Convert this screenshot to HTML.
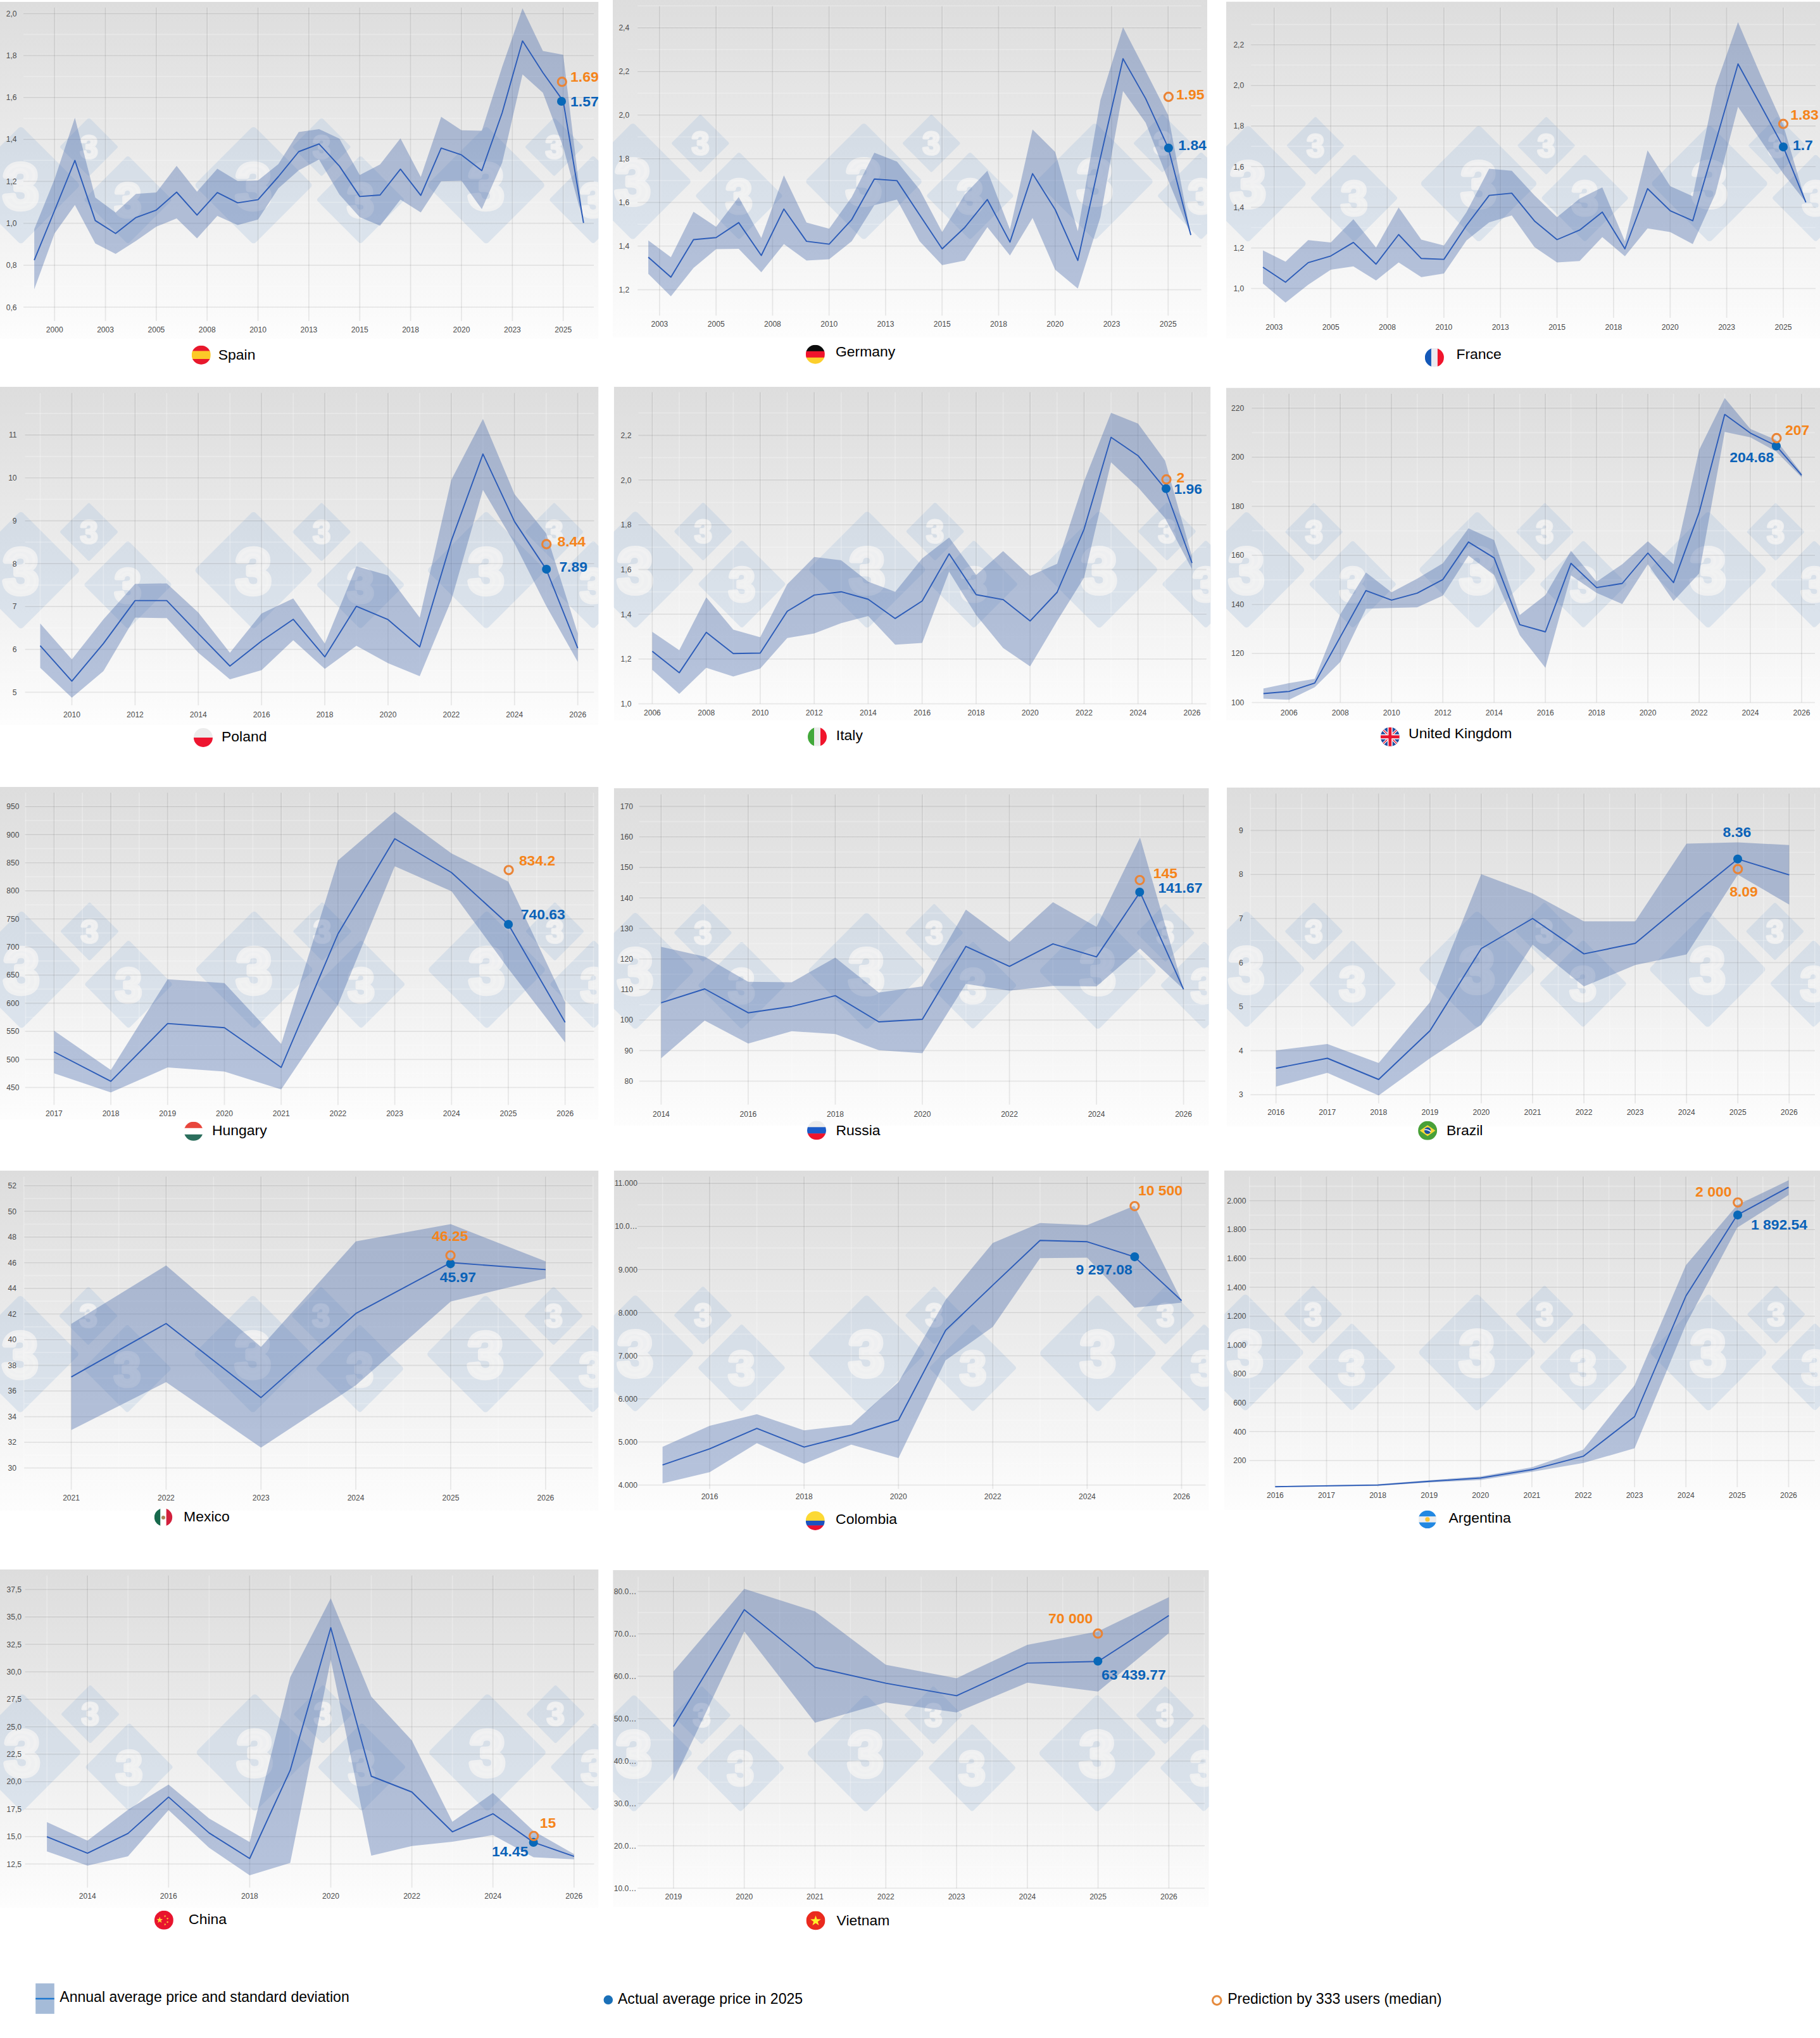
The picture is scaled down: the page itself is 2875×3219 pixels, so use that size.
<!DOCTYPE html>
<html lang="en"><head><meta charset="utf-8"><title>Pig price predictions 2025</title>
<style>html,body{margin:0;padding:0;background:#fff}svg{display:block}text{font-family:"Liberation Sans", Arial, sans-serif}</style></head><body>
<svg width="2875" height="3219" viewBox="0 0 2875 3219">
<defs><linearGradient id="pbg" x1="0" y1="0" x2="0" y2="1"><stop offset="0" stop-color="#dddddd"/><stop offset="0.5" stop-color="#ececec"/><stop offset="1" stop-color="#fdfdfd"/></linearGradient></defs>
<rect width="2875" height="3219" fill="#ffffff"/>
<!-- Spain -->
<clipPath id="pc0"><rect x="0" y="3" width="945.5" height="532.5"/></clipPath>
<g clip-path="url(#pc0)">
<rect x="0" y="3" width="945.5" height="532.5" fill="url(#pbg)"/>
<g>
<rect x="-33.5" y="226" width="132.9" height="132.9" rx="5.3" fill="#a6c0de" fill-opacity="0.30" transform="rotate(45 33 292.5)"/>
<text x="33" y="328.5" text-anchor="middle" font-size="100.6" font-weight="bold" fill="#f1f1f1" fill-opacity="0.88" stroke="#f1f1f1" stroke-opacity="0.88" stroke-width="8.3" stroke-linejoin="round">3</text>
<rect x="107.6" y="199.1" width="65.8" height="65.8" rx="2.6" fill="#a6c0de" fill-opacity="0.30" transform="rotate(45 140.5 232)"/>
<text x="140.5" y="249.8" text-anchor="middle" font-size="49.8" font-weight="bold" fill="#f1f1f1" fill-opacity="0.88" stroke="#f1f1f1" stroke-opacity="0.88" stroke-width="4.1" stroke-linejoin="round">3</text>
<rect x="152.5" y="266" width="99" height="99" rx="4" fill="#a6c0de" fill-opacity="0.30" transform="rotate(45 202 315.5)"/>
<text x="202" y="342.3" text-anchor="middle" font-size="74.9" font-weight="bold" fill="#f1f1f1" fill-opacity="0.88" stroke="#f1f1f1" stroke-opacity="0.88" stroke-width="6.2" stroke-linejoin="round">3</text>
<rect x="334" y="226" width="132.9" height="132.9" rx="5.3" fill="#a6c0de" fill-opacity="0.30" transform="rotate(45 400.5 292.5)"/>
<text x="400.5" y="328.5" text-anchor="middle" font-size="100.6" font-weight="bold" fill="#f1f1f1" fill-opacity="0.88" stroke="#f1f1f1" stroke-opacity="0.88" stroke-width="8.3" stroke-linejoin="round">3</text>
<rect x="475.1" y="199.1" width="65.8" height="65.8" rx="2.6" fill="#a6c0de" fill-opacity="0.30" transform="rotate(45 508 232)"/>
<text x="508" y="249.8" text-anchor="middle" font-size="49.8" font-weight="bold" fill="#f1f1f1" fill-opacity="0.88" stroke="#f1f1f1" stroke-opacity="0.88" stroke-width="4.1" stroke-linejoin="round">3</text>
<rect x="520" y="266" width="99" height="99" rx="4" fill="#a6c0de" fill-opacity="0.30" transform="rotate(45 569.5 315.5)"/>
<text x="569.5" y="342.3" text-anchor="middle" font-size="74.9" font-weight="bold" fill="#f1f1f1" fill-opacity="0.88" stroke="#f1f1f1" stroke-opacity="0.88" stroke-width="6.2" stroke-linejoin="round">3</text>
<rect x="701.5" y="226" width="132.9" height="132.9" rx="5.3" fill="#a6c0de" fill-opacity="0.30" transform="rotate(45 768 292.5)"/>
<text x="768" y="328.5" text-anchor="middle" font-size="100.6" font-weight="bold" fill="#f1f1f1" fill-opacity="0.88" stroke="#f1f1f1" stroke-opacity="0.88" stroke-width="8.3" stroke-linejoin="round">3</text>
<rect x="842.6" y="199.1" width="65.8" height="65.8" rx="2.6" fill="#a6c0de" fill-opacity="0.30" transform="rotate(45 875.5 232)"/>
<text x="875.5" y="249.8" text-anchor="middle" font-size="49.8" font-weight="bold" fill="#f1f1f1" fill-opacity="0.88" stroke="#f1f1f1" stroke-opacity="0.88" stroke-width="4.1" stroke-linejoin="round">3</text>
<rect x="887.5" y="266" width="99" height="99" rx="4" fill="#a6c0de" fill-opacity="0.30" transform="rotate(45 937 315.5)"/>
<text x="937" y="342.3" text-anchor="middle" font-size="74.9" font-weight="bold" fill="#f1f1f1" fill-opacity="0.88" stroke="#f1f1f1" stroke-opacity="0.88" stroke-width="6.2" stroke-linejoin="round">3</text>
</g>
<g fill="none"><path d="M37 54.4H938" stroke="#ffffff" stroke-opacity="0.27" stroke-width="1.6"/><path d="M37 120.7H938" stroke="#ffffff" stroke-opacity="0.27" stroke-width="1.6"/><path d="M37 187H938" stroke="#ffffff" stroke-opacity="0.27" stroke-width="1.6"/><path d="M37 253.2H938" stroke="#ffffff" stroke-opacity="0.27" stroke-width="1.6"/><path d="M37 319.5H938" stroke="#ffffff" stroke-opacity="0.27" stroke-width="1.6"/><path d="M37 385.8H938" stroke="#ffffff" stroke-opacity="0.27" stroke-width="1.6"/><path d="M37 452.1H938" stroke="#ffffff" stroke-opacity="0.27" stroke-width="1.6"/><path d="M37 19.7H938" stroke="#ffffff" stroke-opacity="0.12" stroke-width="2"/><path d="M37 21.3H938" stroke="#000000" stroke-opacity="0.08" stroke-width="1.8"/><path d="M37 86H938" stroke="#ffffff" stroke-opacity="0.12" stroke-width="2"/><path d="M37 87.6H938" stroke="#000000" stroke-opacity="0.08" stroke-width="1.8"/><path d="M37 152.2H938" stroke="#ffffff" stroke-opacity="0.12" stroke-width="2"/><path d="M37 153.8H938" stroke="#000000" stroke-opacity="0.08" stroke-width="1.8"/><path d="M37 218.5H938" stroke="#ffffff" stroke-opacity="0.12" stroke-width="2"/><path d="M37 220.1H938" stroke="#000000" stroke-opacity="0.08" stroke-width="1.8"/><path d="M37 284.8H938" stroke="#ffffff" stroke-opacity="0.12" stroke-width="2"/><path d="M37 286.4H938" stroke="#000000" stroke-opacity="0.08" stroke-width="1.8"/><path d="M37 351H938" stroke="#ffffff" stroke-opacity="0.12" stroke-width="2"/><path d="M37 352.6H938" stroke="#000000" stroke-opacity="0.08" stroke-width="1.8"/><path d="M37 417.3H938" stroke="#ffffff" stroke-opacity="0.12" stroke-width="2"/><path d="M37 418.9H938" stroke="#000000" stroke-opacity="0.08" stroke-width="1.8"/><path d="M37 483.6H938" stroke="#ffffff" stroke-opacity="0.12" stroke-width="2"/><path d="M37 485.2H938" stroke="#000000" stroke-opacity="0.08" stroke-width="1.8"/><path d="M87.8 12V507" stroke="#ffffff" stroke-opacity="0.12" stroke-width="2"/><path d="M86.2 12V507" stroke="#000000" stroke-opacity="0.08" stroke-width="1.8"/><path d="M168.2 12V507" stroke="#ffffff" stroke-opacity="0.12" stroke-width="2"/><path d="M166.6 12V507" stroke="#000000" stroke-opacity="0.08" stroke-width="1.8"/><path d="M248.5 12V507" stroke="#ffffff" stroke-opacity="0.12" stroke-width="2"/><path d="M246.9 12V507" stroke="#000000" stroke-opacity="0.08" stroke-width="1.8"/><path d="M328.9 12V507" stroke="#ffffff" stroke-opacity="0.12" stroke-width="2"/><path d="M327.2 12V507" stroke="#000000" stroke-opacity="0.08" stroke-width="1.8"/><path d="M409.2 12V507" stroke="#ffffff" stroke-opacity="0.12" stroke-width="2"/><path d="M407.6 12V507" stroke="#000000" stroke-opacity="0.08" stroke-width="1.8"/><path d="M489.6 12V507" stroke="#ffffff" stroke-opacity="0.12" stroke-width="2"/><path d="M487.9 12V507" stroke="#000000" stroke-opacity="0.08" stroke-width="1.8"/><path d="M569.9 12V507" stroke="#ffffff" stroke-opacity="0.12" stroke-width="2"/><path d="M568.3 12V507" stroke="#000000" stroke-opacity="0.08" stroke-width="1.8"/><path d="M650.2 12V507" stroke="#ffffff" stroke-opacity="0.12" stroke-width="2"/><path d="M648.6 12V507" stroke="#000000" stroke-opacity="0.08" stroke-width="1.8"/><path d="M730.6 12V507" stroke="#ffffff" stroke-opacity="0.12" stroke-width="2"/><path d="M729 12V507" stroke="#000000" stroke-opacity="0.08" stroke-width="1.8"/><path d="M811 12V507" stroke="#ffffff" stroke-opacity="0.12" stroke-width="2"/><path d="M809.4 12V507" stroke="#000000" stroke-opacity="0.08" stroke-width="1.8"/><path d="M891.3 12V507" stroke="#ffffff" stroke-opacity="0.12" stroke-width="2"/><path d="M889.7 12V507" stroke="#000000" stroke-opacity="0.08" stroke-width="1.8"/></g>
<polygon points="54.1,362.1 86.2,283 118.3,185.9 150.5,312 182.6,335.7 214.8,306.2 246.9,304.1 279,261.9 311.2,302.7 343.3,266.4 375.5,286.1 407.6,285.1 439.7,259.2 471.9,208.4 504,203.9 536.2,218.9 568.3,276.4 600.4,259.8 632.6,218.4 664.7,279.6 696.9,184.6 729,205.7 761.1,206.5 793.3,105.5 825.4,13.2 857.6,80.4 889.7,86.5 921.8,352.1 921.8,352.1 889.7,232.1 857.6,146.4 825.4,117.4 793.3,257.1 761.1,330.2 729,285.4 696.9,286.2 664.7,335.5 632.6,315.2 600.4,356.6 568.3,342.9 536.2,307.3 504,251.9 471.9,269 439.7,297.5 407.6,346.8 375.5,355.5 343.3,341 311.2,376.6 279,344.9 246.9,358.1 214.8,380.5 182.6,401.1 150.5,384.5 118.3,323.8 86.2,368.7 54.1,457" fill="rgba(74,106,172,0.385)"/>
<polyline points="54.1,410.9 86.2,332.5 118.3,253.4 150.5,348.4 182.6,368.7 214.8,343.6 246.9,331.8 279,303.5 311.2,339.7 343.3,304.1 375.5,320.4 407.6,315.4 439.7,279 471.9,239.5 504,227.3 536.2,262.4 568.3,310.4 600.4,308 632.6,267.2 664.7,308.6 696.9,233.9 729,244.7 761.1,269.5 793.3,178 825.4,64.6 857.6,114.7 889.7,159.6 921.8,352.1" fill="none" stroke="#2c5cb8" stroke-width="1.9" stroke-linejoin="round"/>
</g>
<g font-size="12.1" fill="#4a4a4a"><text x="86.2" y="524.6" text-anchor="middle">2000</text><text x="166.6" y="524.6" text-anchor="middle">2003</text><text x="246.9" y="524.6" text-anchor="middle">2005</text><text x="327.2" y="524.6" text-anchor="middle">2008</text><text x="407.6" y="524.6" text-anchor="middle">2010</text><text x="487.9" y="524.6" text-anchor="middle">2013</text><text x="568.3" y="524.6" text-anchor="middle">2015</text><text x="648.6" y="524.6" text-anchor="middle">2018</text><text x="729" y="524.6" text-anchor="middle">2020</text><text x="809.4" y="524.6" text-anchor="middle">2023</text><text x="889.7" y="524.6" text-anchor="middle">2025</text><text x="26.6" y="25.6" text-anchor="end">2,0</text><text x="26.6" y="91.9" text-anchor="end">1,8</text><text x="26.6" y="158.1" text-anchor="end">1,6</text><text x="26.6" y="224.4" text-anchor="end">1,4</text><text x="26.6" y="290.7" text-anchor="end">1,2</text><text x="26.6" y="356.9" text-anchor="end">1,0</text><text x="26.6" y="423.2" text-anchor="end">0,8</text><text x="26.6" y="489.5" text-anchor="end">0,6</text></g>
<circle cx="887" cy="160" r="7.05" fill="#0868b8"/>
<circle cx="887.8" cy="129.2" r="6.6" fill="none" stroke="#ea8436" stroke-width="3.1"/>
<text x="901.1" y="129.3" text-anchor="start" font-size="22.9" font-weight="bold" fill="#f5841a">1.69</text>
<text x="901.1" y="167.5" text-anchor="start" font-size="22.9" font-weight="bold" fill="#0a62b8">1.57</text>
<clipPath id="fc_es"><circle cx="317.8" cy="560.7" r="15"/></clipPath>
<g clip-path="url(#fc_es)">
<rect x="302.8" y="545.7" width="30" height="9.2" fill="#e8182c"/>
<rect x="302.8" y="554.4" width="30" height="13.1" fill="#fcc928"/>
<rect x="302.8" y="567" width="30" height="9.2" fill="#e8182c"/>
</g>
<text x="344.8" y="567.6" font-size="22.95" fill="#000">Spain</text>
<!-- Germany -->
<clipPath id="pc1"><rect x="968" y="-4" width="939" height="537"/></clipPath>
<g clip-path="url(#pc1)">
<rect x="968" y="-4" width="939" height="537" fill="url(#pbg)"/>
<g>
<rect x="933.6" y="220.4" width="132" height="132" rx="5.3" fill="#a6c0de" fill-opacity="0.30" transform="rotate(45 999.6 286.4)"/>
<text x="999.6" y="322.2" text-anchor="middle" font-size="99.9" font-weight="bold" fill="#f1f1f1" fill-opacity="0.88" stroke="#f1f1f1" stroke-opacity="0.88" stroke-width="8.2" stroke-linejoin="round">3</text>
<rect x="1073.7" y="193.7" width="65.3" height="65.3" rx="2.6" fill="#a6c0de" fill-opacity="0.30" transform="rotate(45 1106.4 226.3)"/>
<text x="1106.4" y="244" text-anchor="middle" font-size="49.4" font-weight="bold" fill="#f1f1f1" fill-opacity="0.88" stroke="#f1f1f1" stroke-opacity="0.88" stroke-width="4.1" stroke-linejoin="round">3</text>
<rect x="1118.3" y="260.1" width="98.3" height="98.3" rx="3.9" fill="#a6c0de" fill-opacity="0.30" transform="rotate(45 1167.4 309.2)"/>
<text x="1167.4" y="335.9" text-anchor="middle" font-size="74.4" font-weight="bold" fill="#f1f1f1" fill-opacity="0.88" stroke="#f1f1f1" stroke-opacity="0.88" stroke-width="6.1" stroke-linejoin="round">3</text>
<rect x="1298.6" y="220.4" width="132" height="132" rx="5.3" fill="#a6c0de" fill-opacity="0.30" transform="rotate(45 1364.6 286.4)"/>
<text x="1364.6" y="322.2" text-anchor="middle" font-size="99.9" font-weight="bold" fill="#f1f1f1" fill-opacity="0.88" stroke="#f1f1f1" stroke-opacity="0.88" stroke-width="8.2" stroke-linejoin="round">3</text>
<rect x="1438.7" y="193.7" width="65.3" height="65.3" rx="2.6" fill="#a6c0de" fill-opacity="0.30" transform="rotate(45 1471.3 226.3)"/>
<text x="1471.3" y="244" text-anchor="middle" font-size="49.4" font-weight="bold" fill="#f1f1f1" fill-opacity="0.88" stroke="#f1f1f1" stroke-opacity="0.88" stroke-width="4.1" stroke-linejoin="round">3</text>
<rect x="1483.3" y="260.1" width="98.3" height="98.3" rx="3.9" fill="#a6c0de" fill-opacity="0.30" transform="rotate(45 1532.4 309.2)"/>
<text x="1532.4" y="335.9" text-anchor="middle" font-size="74.4" font-weight="bold" fill="#f1f1f1" fill-opacity="0.88" stroke="#f1f1f1" stroke-opacity="0.88" stroke-width="6.1" stroke-linejoin="round">3</text>
<rect x="1663.5" y="220.4" width="132" height="132" rx="5.3" fill="#a6c0de" fill-opacity="0.30" transform="rotate(45 1729.5 286.4)"/>
<text x="1729.5" y="322.2" text-anchor="middle" font-size="99.9" font-weight="bold" fill="#f1f1f1" fill-opacity="0.88" stroke="#f1f1f1" stroke-opacity="0.88" stroke-width="8.2" stroke-linejoin="round">3</text>
<rect x="1803.7" y="193.7" width="65.3" height="65.3" rx="2.6" fill="#a6c0de" fill-opacity="0.30" transform="rotate(45 1836.3 226.3)"/>
<text x="1836.3" y="244" text-anchor="middle" font-size="49.4" font-weight="bold" fill="#f1f1f1" fill-opacity="0.88" stroke="#f1f1f1" stroke-opacity="0.88" stroke-width="4.1" stroke-linejoin="round">3</text>
<rect x="1848.2" y="260.1" width="98.3" height="98.3" rx="3.9" fill="#a6c0de" fill-opacity="0.30" transform="rotate(45 1897.4 309.2)"/>
<text x="1897.4" y="335.9" text-anchor="middle" font-size="74.4" font-weight="bold" fill="#f1f1f1" fill-opacity="0.88" stroke="#f1f1f1" stroke-opacity="0.88" stroke-width="6.1" stroke-linejoin="round">3</text>
</g>
<g fill="none"><path d="M1007.2 9.3H1897.6" stroke="#ffffff" stroke-opacity="0.27" stroke-width="1.6"/><path d="M1007.2 78.3H1897.6" stroke="#ffffff" stroke-opacity="0.27" stroke-width="1.6"/><path d="M1007.2 147.3H1897.6" stroke="#ffffff" stroke-opacity="0.27" stroke-width="1.6"/><path d="M1007.2 216.2H1897.6" stroke="#ffffff" stroke-opacity="0.27" stroke-width="1.6"/><path d="M1007.2 285.2H1897.6" stroke="#ffffff" stroke-opacity="0.27" stroke-width="1.6"/><path d="M1007.2 354.2H1897.6" stroke="#ffffff" stroke-opacity="0.27" stroke-width="1.6"/><path d="M1007.2 423.1H1897.6" stroke="#ffffff" stroke-opacity="0.27" stroke-width="1.6"/><path d="M1007.2 492.1H1897.6" stroke="#ffffff" stroke-opacity="0.27" stroke-width="1.6"/><path d="M1007.2 42.2H1897.6" stroke="#ffffff" stroke-opacity="0.12" stroke-width="2"/><path d="M1007.2 43.8H1897.6" stroke="#000000" stroke-opacity="0.08" stroke-width="1.8"/><path d="M1007.2 111.2H1897.6" stroke="#ffffff" stroke-opacity="0.12" stroke-width="2"/><path d="M1007.2 112.8H1897.6" stroke="#000000" stroke-opacity="0.08" stroke-width="1.8"/><path d="M1007.2 180.1H1897.6" stroke="#ffffff" stroke-opacity="0.12" stroke-width="2"/><path d="M1007.2 181.7H1897.6" stroke="#000000" stroke-opacity="0.08" stroke-width="1.8"/><path d="M1007.2 249.1H1897.6" stroke="#ffffff" stroke-opacity="0.12" stroke-width="2"/><path d="M1007.2 250.7H1897.6" stroke="#000000" stroke-opacity="0.08" stroke-width="1.8"/><path d="M1007.2 318.1H1897.6" stroke="#ffffff" stroke-opacity="0.12" stroke-width="2"/><path d="M1007.2 319.7H1897.6" stroke="#000000" stroke-opacity="0.08" stroke-width="1.8"/><path d="M1007.2 387.1H1897.6" stroke="#ffffff" stroke-opacity="0.12" stroke-width="2"/><path d="M1007.2 388.7H1897.6" stroke="#000000" stroke-opacity="0.08" stroke-width="1.8"/><path d="M1007.2 456H1897.6" stroke="#ffffff" stroke-opacity="0.12" stroke-width="2"/><path d="M1007.2 457.6H1897.6" stroke="#000000" stroke-opacity="0.08" stroke-width="1.8"/><path d="M1043.5 9.8V498.5" stroke="#ffffff" stroke-opacity="0.12" stroke-width="2"/><path d="M1041.9 9.8V498.5" stroke="#000000" stroke-opacity="0.08" stroke-width="1.8"/><path d="M1132.8 9.8V498.5" stroke="#ffffff" stroke-opacity="0.12" stroke-width="2"/><path d="M1131.2 9.8V498.5" stroke="#000000" stroke-opacity="0.08" stroke-width="1.8"/><path d="M1222 9.8V498.5" stroke="#ffffff" stroke-opacity="0.12" stroke-width="2"/><path d="M1220.4 9.8V498.5" stroke="#000000" stroke-opacity="0.08" stroke-width="1.8"/><path d="M1311.3 9.8V498.5" stroke="#ffffff" stroke-opacity="0.12" stroke-width="2"/><path d="M1309.7 9.8V498.5" stroke="#000000" stroke-opacity="0.08" stroke-width="1.8"/><path d="M1400.6 9.8V498.5" stroke="#ffffff" stroke-opacity="0.12" stroke-width="2"/><path d="M1399 9.8V498.5" stroke="#000000" stroke-opacity="0.08" stroke-width="1.8"/><path d="M1489.8 9.8V498.5" stroke="#ffffff" stroke-opacity="0.12" stroke-width="2"/><path d="M1488.2 9.8V498.5" stroke="#000000" stroke-opacity="0.08" stroke-width="1.8"/><path d="M1579.1 9.8V498.5" stroke="#ffffff" stroke-opacity="0.12" stroke-width="2"/><path d="M1577.5 9.8V498.5" stroke="#000000" stroke-opacity="0.08" stroke-width="1.8"/><path d="M1668.4 9.8V498.5" stroke="#ffffff" stroke-opacity="0.12" stroke-width="2"/><path d="M1666.8 9.8V498.5" stroke="#000000" stroke-opacity="0.08" stroke-width="1.8"/><path d="M1757.7 9.8V498.5" stroke="#ffffff" stroke-opacity="0.12" stroke-width="2"/><path d="M1756.1 9.8V498.5" stroke="#000000" stroke-opacity="0.08" stroke-width="1.8"/><path d="M1846.9 9.8V498.5" stroke="#ffffff" stroke-opacity="0.12" stroke-width="2"/><path d="M1845.3 9.8V498.5" stroke="#000000" stroke-opacity="0.08" stroke-width="1.8"/></g>
<polygon points="1024.1,379.8 1059.8,406.2 1095.5,334.4 1131.2,358.2 1166.9,311.2 1202.6,375.8 1238.3,276.9 1274,351.6 1309.8,361.3 1345.5,311.2 1381.2,241.3 1416.9,255.3 1452.6,299.3 1488.3,366.6 1524,307.3 1559.7,269.8 1595.4,362.6 1631.1,204.4 1666.8,240 1702.6,365.3 1738.3,158.2 1774,43 1809.7,112.1 1845.4,182 1881.1,371.3 1881.1,371.3 1845.4,284.8 1809.7,193.8 1774,143.7 1738.3,342.9 1702.6,455.7 1666.8,425.9 1631.1,344.2 1595.4,403.5 1559.7,358.7 1524,411.4 1488.3,418.8 1452.6,381.1 1416.9,315.2 1381.2,323.9 1345.5,381.1 1309.8,409.6 1274,411.4 1238.3,385.6 1202.6,429.9 1166.9,393 1131.2,393.5 1095.5,423.3 1059.8,468.1 1024.1,432.5" fill="rgba(74,106,172,0.385)"/>
<polyline points="1024.1,406.2 1059.8,437.8 1095.5,378.5 1131.2,375.3 1166.9,351.6 1202.6,403.5 1238.3,330.2 1274,381.1 1309.8,385.6 1345.5,346.8 1381.2,282.7 1416.9,285.4 1452.6,339.2 1488.3,393 1524,359.2 1559.7,315.2 1595.4,382.4 1631.1,274.3 1666.8,331 1702.6,411.4 1738.3,249.2 1774,92.8 1809.7,155.6 1845.4,233.4 1881.1,371.3" fill="none" stroke="#2c5cb8" stroke-width="1.9" stroke-linejoin="round"/>
</g>
<g font-size="12.1" fill="#4a4a4a"><text x="1041.9" y="516.4" text-anchor="middle">2003</text><text x="1131.2" y="516.4" text-anchor="middle">2005</text><text x="1220.4" y="516.4" text-anchor="middle">2008</text><text x="1309.7" y="516.4" text-anchor="middle">2010</text><text x="1399" y="516.4" text-anchor="middle">2013</text><text x="1488.2" y="516.4" text-anchor="middle">2015</text><text x="1577.5" y="516.4" text-anchor="middle">2018</text><text x="1666.8" y="516.4" text-anchor="middle">2020</text><text x="1756.1" y="516.4" text-anchor="middle">2023</text><text x="1845.3" y="516.4" text-anchor="middle">2025</text><text x="994.2" y="48.1" text-anchor="end">2,4</text><text x="994.2" y="117.1" text-anchor="end">2,2</text><text x="994.2" y="186" text-anchor="end">2,0</text><text x="994.2" y="255" text-anchor="end">1,8</text><text x="994.2" y="324" text-anchor="end">1,6</text><text x="994.2" y="393" text-anchor="end">1,4</text><text x="994.2" y="461.9" text-anchor="end">1,2</text></g>
<circle cx="1845.9" cy="233.7" r="7.05" fill="#0868b8"/>
<circle cx="1845.9" cy="153" r="6.6" fill="none" stroke="#ea8436" stroke-width="3.1"/>
<text x="1857.9" y="157.4" text-anchor="start" font-size="22.9" font-weight="bold" fill="#f5841a">1.95</text>
<text x="1861.3" y="237.4" text-anchor="start" font-size="22.9" font-weight="bold" fill="#0a62b8">1.84</text>
<clipPath id="fc_de"><circle cx="1287.9" cy="559.7" r="15"/></clipPath>
<g clip-path="url(#fc_de)">
<rect x="1272.9" y="544.7" width="30" height="10.5" fill="#0c0c0c"/>
<rect x="1272.9" y="554.7" width="30" height="10.5" fill="#f0142c"/>
<rect x="1272.9" y="564.7" width="30" height="10.5" fill="#fccf2c"/>
</g>
<text x="1320" y="562.5" font-size="22.95" fill="#000">Germany</text>
<!-- France -->
<clipPath id="pc2"><rect x="1937" y="2.5" width="938" height="532.5"/></clipPath>
<g clip-path="url(#pc2)">
<rect x="1937" y="2.5" width="938" height="532.5" fill="url(#pbg)"/>
<g>
<rect x="1905.5" y="224.1" width="131.9" height="131.9" rx="5.3" fill="#a6c0de" fill-opacity="0.30" transform="rotate(45 1971.4 290)"/>
<text x="1971.4" y="325.7" text-anchor="middle" font-size="99.8" font-weight="bold" fill="#f1f1f1" fill-opacity="0.88" stroke="#f1f1f1" stroke-opacity="0.88" stroke-width="8.2" stroke-linejoin="round">3</text>
<rect x="2045.4" y="197.4" width="65.2" height="65.2" rx="2.6" fill="#a6c0de" fill-opacity="0.30" transform="rotate(45 2078 230)"/>
<text x="2078" y="247.6" text-anchor="middle" font-size="49.4" font-weight="bold" fill="#f1f1f1" fill-opacity="0.88" stroke="#f1f1f1" stroke-opacity="0.88" stroke-width="4.1" stroke-linejoin="round">3</text>
<rect x="2090" y="263.7" width="98.2" height="98.2" rx="3.9" fill="#a6c0de" fill-opacity="0.30" transform="rotate(45 2139.1 312.8)"/>
<text x="2139.1" y="339.4" text-anchor="middle" font-size="74.3" font-weight="bold" fill="#f1f1f1" fill-opacity="0.88" stroke="#f1f1f1" stroke-opacity="0.88" stroke-width="6.1" stroke-linejoin="round">3</text>
<rect x="2270" y="224.1" width="131.9" height="131.9" rx="5.3" fill="#a6c0de" fill-opacity="0.30" transform="rotate(45 2336 290)"/>
<text x="2336" y="325.7" text-anchor="middle" font-size="99.8" font-weight="bold" fill="#f1f1f1" fill-opacity="0.88" stroke="#f1f1f1" stroke-opacity="0.88" stroke-width="8.2" stroke-linejoin="round">3</text>
<rect x="2410" y="197.4" width="65.2" height="65.2" rx="2.6" fill="#a6c0de" fill-opacity="0.30" transform="rotate(45 2442.6 230)"/>
<text x="2442.6" y="247.6" text-anchor="middle" font-size="49.4" font-weight="bold" fill="#f1f1f1" fill-opacity="0.88" stroke="#f1f1f1" stroke-opacity="0.88" stroke-width="4.1" stroke-linejoin="round">3</text>
<rect x="2454.5" y="263.7" width="98.2" height="98.2" rx="3.9" fill="#a6c0de" fill-opacity="0.30" transform="rotate(45 2503.6 312.8)"/>
<text x="2503.6" y="339.4" text-anchor="middle" font-size="74.3" font-weight="bold" fill="#f1f1f1" fill-opacity="0.88" stroke="#f1f1f1" stroke-opacity="0.88" stroke-width="6.1" stroke-linejoin="round">3</text>
<rect x="2634.6" y="224.1" width="131.9" height="131.9" rx="5.3" fill="#a6c0de" fill-opacity="0.30" transform="rotate(45 2700.6 290)"/>
<text x="2700.6" y="325.7" text-anchor="middle" font-size="99.8" font-weight="bold" fill="#f1f1f1" fill-opacity="0.88" stroke="#f1f1f1" stroke-opacity="0.88" stroke-width="8.2" stroke-linejoin="round">3</text>
<rect x="2774.6" y="197.4" width="65.2" height="65.2" rx="2.6" fill="#a6c0de" fill-opacity="0.30" transform="rotate(45 2807.2 230)"/>
<text x="2807.2" y="247.6" text-anchor="middle" font-size="49.4" font-weight="bold" fill="#f1f1f1" fill-opacity="0.88" stroke="#f1f1f1" stroke-opacity="0.88" stroke-width="4.1" stroke-linejoin="round">3</text>
<rect x="2819.1" y="263.7" width="98.2" height="98.2" rx="3.9" fill="#a6c0de" fill-opacity="0.30" transform="rotate(45 2868.2 312.8)"/>
<text x="2868.2" y="339.4" text-anchor="middle" font-size="74.3" font-weight="bold" fill="#f1f1f1" fill-opacity="0.88" stroke="#f1f1f1" stroke-opacity="0.88" stroke-width="6.1" stroke-linejoin="round">3</text>
</g>
<g fill="none"><path d="M1976.2 38.6H2868" stroke="#ffffff" stroke-opacity="0.27" stroke-width="1.6"/><path d="M1976.2 102.8H2868" stroke="#ffffff" stroke-opacity="0.27" stroke-width="1.6"/><path d="M1976.2 167H2868" stroke="#ffffff" stroke-opacity="0.27" stroke-width="1.6"/><path d="M1976.2 231.1H2868" stroke="#ffffff" stroke-opacity="0.27" stroke-width="1.6"/><path d="M1976.2 295.3H2868" stroke="#ffffff" stroke-opacity="0.27" stroke-width="1.6"/><path d="M1976.2 359.5H2868" stroke="#ffffff" stroke-opacity="0.27" stroke-width="1.6"/><path d="M1976.2 423.6H2868" stroke="#ffffff" stroke-opacity="0.27" stroke-width="1.6"/><path d="M1976.2 487.8H2868" stroke="#ffffff" stroke-opacity="0.27" stroke-width="1.6"/><path d="M1976.2 69.1H2868" stroke="#ffffff" stroke-opacity="0.12" stroke-width="2"/><path d="M1976.2 70.7H2868" stroke="#000000" stroke-opacity="0.08" stroke-width="1.8"/><path d="M1976.2 133.3H2868" stroke="#ffffff" stroke-opacity="0.12" stroke-width="2"/><path d="M1976.2 134.9H2868" stroke="#000000" stroke-opacity="0.08" stroke-width="1.8"/><path d="M1976.2 197.4H2868" stroke="#ffffff" stroke-opacity="0.12" stroke-width="2"/><path d="M1976.2 199H2868" stroke="#000000" stroke-opacity="0.08" stroke-width="1.8"/><path d="M1976.2 261.6H2868" stroke="#ffffff" stroke-opacity="0.12" stroke-width="2"/><path d="M1976.2 263.2H2868" stroke="#000000" stroke-opacity="0.08" stroke-width="1.8"/><path d="M1976.2 325.8H2868" stroke="#ffffff" stroke-opacity="0.12" stroke-width="2"/><path d="M1976.2 327.4H2868" stroke="#000000" stroke-opacity="0.08" stroke-width="1.8"/><path d="M1976.2 389.9H2868" stroke="#ffffff" stroke-opacity="0.12" stroke-width="2"/><path d="M1976.2 391.6H2868" stroke="#000000" stroke-opacity="0.08" stroke-width="1.8"/><path d="M1976.2 454.1H2868" stroke="#ffffff" stroke-opacity="0.12" stroke-width="2"/><path d="M1976.2 455.7H2868" stroke="#000000" stroke-opacity="0.08" stroke-width="1.8"/><path d="M2014.4 12V502" stroke="#ffffff" stroke-opacity="0.12" stroke-width="2"/><path d="M2012.8 12V502" stroke="#000000" stroke-opacity="0.08" stroke-width="1.8"/><path d="M2103.8 12V502" stroke="#ffffff" stroke-opacity="0.12" stroke-width="2"/><path d="M2102.2 12V502" stroke="#000000" stroke-opacity="0.08" stroke-width="1.8"/><path d="M2193.1 12V502" stroke="#ffffff" stroke-opacity="0.12" stroke-width="2"/><path d="M2191.5 12V502" stroke="#000000" stroke-opacity="0.08" stroke-width="1.8"/><path d="M2282.5 12V502" stroke="#ffffff" stroke-opacity="0.12" stroke-width="2"/><path d="M2280.9 12V502" stroke="#000000" stroke-opacity="0.08" stroke-width="1.8"/><path d="M2371.8 12V502" stroke="#ffffff" stroke-opacity="0.12" stroke-width="2"/><path d="M2370.2 12V502" stroke="#000000" stroke-opacity="0.08" stroke-width="1.8"/><path d="M2461.2 12V502" stroke="#ffffff" stroke-opacity="0.12" stroke-width="2"/><path d="M2459.6 12V502" stroke="#000000" stroke-opacity="0.08" stroke-width="1.8"/><path d="M2550.5 12V502" stroke="#ffffff" stroke-opacity="0.12" stroke-width="2"/><path d="M2548.9 12V502" stroke="#000000" stroke-opacity="0.08" stroke-width="1.8"/><path d="M2639.9 12V502" stroke="#ffffff" stroke-opacity="0.12" stroke-width="2"/><path d="M2638.3 12V502" stroke="#000000" stroke-opacity="0.08" stroke-width="1.8"/><path d="M2729.2 12V502" stroke="#ffffff" stroke-opacity="0.12" stroke-width="2"/><path d="M2727.6 12V502" stroke="#000000" stroke-opacity="0.08" stroke-width="1.8"/><path d="M2818.6 12V502" stroke="#ffffff" stroke-opacity="0.12" stroke-width="2"/><path d="M2817 12V502" stroke="#000000" stroke-opacity="0.08" stroke-width="1.8"/></g>
<polygon points="1995,395.6 2030.7,413.3 2066.5,379.3 2102.2,382.9 2137.9,346.3 2173.7,390.9 2209.4,327.8 2245.2,378.5 2280.9,387.7 2316.6,334.9 2352.4,266.4 2388.1,269.8 2423.9,308.6 2459.6,342.9 2495.3,313.8 2531.1,295.9 2566.8,381.1 2602.6,237.4 2638.3,294.1 2674,309.9 2709.8,137.1 2745.5,35.1 2781.3,118.7 2817,197.8 2852.7,319.6 2852.7,319.6 2817,274.3 2781.3,221.5 2745.5,168.8 2709.8,305.9 2674,385.6 2638.3,366.6 2602.6,360.8 2566.8,404.8 2531.1,374.5 2495.3,412.2 2459.6,414.6 2423.9,390.3 2388.1,340.2 2352.4,351.3 2316.6,379.8 2280.9,432 2245.2,437.8 2209.4,414.6 2173.7,443.1 2137.9,420.7 2102.2,425.9 2066.5,449.7 2030.7,477.9 1995,447.8" fill="rgba(74,106,172,0.385)"/>
<polyline points="1995,422 2030.7,445.7 2066.5,414.9 2102.2,404.3 2137.9,382.9 2173.7,417.2 2209.4,370.5 2245.2,408.3 2280.9,409.6 2316.6,356 2352.4,308.6 2388.1,305.1 2423.9,348.9 2459.6,378.5 2495.3,363.4 2531.1,334.9 2566.8,393 2602.6,298 2638.3,332.8 2674,348.7 2709.8,225.5 2745.5,101 2781.3,166.2 2817,232.1 2852.7,319.6" fill="none" stroke="#2c5cb8" stroke-width="1.9" stroke-linejoin="round"/>
</g>
<g font-size="12.1" fill="#4a4a4a"><text x="2012.8" y="520.9" text-anchor="middle">2003</text><text x="2102.2" y="520.9" text-anchor="middle">2005</text><text x="2191.5" y="520.9" text-anchor="middle">2008</text><text x="2280.9" y="520.9" text-anchor="middle">2010</text><text x="2370.2" y="520.9" text-anchor="middle">2013</text><text x="2459.6" y="520.9" text-anchor="middle">2015</text><text x="2548.9" y="520.9" text-anchor="middle">2018</text><text x="2638.3" y="520.9" text-anchor="middle">2020</text><text x="2727.6" y="520.9" text-anchor="middle">2023</text><text x="2817" y="520.9" text-anchor="middle">2025</text><text x="1965.2" y="75" text-anchor="end">2,2</text><text x="1965.2" y="139.2" text-anchor="end">2,0</text><text x="1965.2" y="203.3" text-anchor="end">1,8</text><text x="1965.2" y="267.5" text-anchor="end">1,6</text><text x="1965.2" y="331.7" text-anchor="end">1,4</text><text x="1965.2" y="395.9" text-anchor="end">1,2</text><text x="1965.2" y="460" text-anchor="end">1,0</text></g>
<circle cx="2817" cy="232.1" r="7.05" fill="#0868b8"/>
<circle cx="2817" cy="195.7" r="6.6" fill="none" stroke="#ea8436" stroke-width="3.1"/>
<text x="2828.2" y="188.6" text-anchor="start" font-size="22.9" font-weight="bold" fill="#f5841a">1.83</text>
<text x="2832" y="236.8" text-anchor="start" font-size="22.9" font-weight="bold" fill="#0a62b8">1.7</text>
<clipPath id="fc_fr"><circle cx="2265.9" cy="564.7" r="15"/></clipPath>
<g clip-path="url(#fc_fr)">
<rect x="2250.9" y="549.7" width="10.5" height="30" fill="#1458b8"/>
<rect x="2260.9" y="549.7" width="10.5" height="30" fill="#ebeaf0"/>
<rect x="2270.9" y="549.7" width="10.5" height="30" fill="#f0142c"/>
</g>
<text x="2300.4" y="567.4" font-size="22.95" fill="#000">France</text>
<!-- Poland -->
<clipPath id="pc3"><rect x="0" y="611" width="945.5" height="534"/></clipPath>
<g clip-path="url(#pc3)">
<rect x="0" y="611" width="945.5" height="534" fill="url(#pbg)"/>
<g>
<rect x="-33.5" y="834.2" width="132.9" height="132.9" rx="5.3" fill="#a6c0de" fill-opacity="0.30" transform="rotate(45 33 900.7)"/>
<text x="33" y="936.7" text-anchor="middle" font-size="100.6" font-weight="bold" fill="#f1f1f1" fill-opacity="0.88" stroke="#f1f1f1" stroke-opacity="0.88" stroke-width="8.3" stroke-linejoin="round">3</text>
<rect x="107.6" y="807.3" width="65.8" height="65.8" rx="2.6" fill="#a6c0de" fill-opacity="0.30" transform="rotate(45 140.5 840.2)"/>
<text x="140.5" y="858" text-anchor="middle" font-size="49.8" font-weight="bold" fill="#f1f1f1" fill-opacity="0.88" stroke="#f1f1f1" stroke-opacity="0.88" stroke-width="4.1" stroke-linejoin="round">3</text>
<rect x="152.5" y="874.2" width="99" height="99" rx="4" fill="#a6c0de" fill-opacity="0.30" transform="rotate(45 202 923.7)"/>
<text x="202" y="950.5" text-anchor="middle" font-size="74.9" font-weight="bold" fill="#f1f1f1" fill-opacity="0.88" stroke="#f1f1f1" stroke-opacity="0.88" stroke-width="6.2" stroke-linejoin="round">3</text>
<rect x="334" y="834.2" width="132.9" height="132.9" rx="5.3" fill="#a6c0de" fill-opacity="0.30" transform="rotate(45 400.5 900.7)"/>
<text x="400.5" y="936.7" text-anchor="middle" font-size="100.6" font-weight="bold" fill="#f1f1f1" fill-opacity="0.88" stroke="#f1f1f1" stroke-opacity="0.88" stroke-width="8.3" stroke-linejoin="round">3</text>
<rect x="475.1" y="807.3" width="65.8" height="65.8" rx="2.6" fill="#a6c0de" fill-opacity="0.30" transform="rotate(45 508 840.2)"/>
<text x="508" y="858" text-anchor="middle" font-size="49.8" font-weight="bold" fill="#f1f1f1" fill-opacity="0.88" stroke="#f1f1f1" stroke-opacity="0.88" stroke-width="4.1" stroke-linejoin="round">3</text>
<rect x="520" y="874.2" width="99" height="99" rx="4" fill="#a6c0de" fill-opacity="0.30" transform="rotate(45 569.5 923.7)"/>
<text x="569.5" y="950.5" text-anchor="middle" font-size="74.9" font-weight="bold" fill="#f1f1f1" fill-opacity="0.88" stroke="#f1f1f1" stroke-opacity="0.88" stroke-width="6.2" stroke-linejoin="round">3</text>
<rect x="701.5" y="834.2" width="132.9" height="132.9" rx="5.3" fill="#a6c0de" fill-opacity="0.30" transform="rotate(45 768 900.7)"/>
<text x="768" y="936.7" text-anchor="middle" font-size="100.6" font-weight="bold" fill="#f1f1f1" fill-opacity="0.88" stroke="#f1f1f1" stroke-opacity="0.88" stroke-width="8.3" stroke-linejoin="round">3</text>
<rect x="842.6" y="807.3" width="65.8" height="65.8" rx="2.6" fill="#a6c0de" fill-opacity="0.30" transform="rotate(45 875.5 840.2)"/>
<text x="875.5" y="858" text-anchor="middle" font-size="49.8" font-weight="bold" fill="#f1f1f1" fill-opacity="0.88" stroke="#f1f1f1" stroke-opacity="0.88" stroke-width="4.1" stroke-linejoin="round">3</text>
<rect x="887.5" y="874.2" width="99" height="99" rx="4" fill="#a6c0de" fill-opacity="0.30" transform="rotate(45 937 923.7)"/>
<text x="937" y="950.5" text-anchor="middle" font-size="74.9" font-weight="bold" fill="#f1f1f1" fill-opacity="0.88" stroke="#f1f1f1" stroke-opacity="0.88" stroke-width="6.2" stroke-linejoin="round">3</text>
</g>
<g fill="none"><path d="M39.6 653.1H938.4" stroke="#ffffff" stroke-opacity="0.27" stroke-width="1.6"/><path d="M39.6 720.9H938.4" stroke="#ffffff" stroke-opacity="0.27" stroke-width="1.6"/><path d="M39.6 788.6H938.4" stroke="#ffffff" stroke-opacity="0.27" stroke-width="1.6"/><path d="M39.6 856.3H938.4" stroke="#ffffff" stroke-opacity="0.27" stroke-width="1.6"/><path d="M39.6 924.1H938.4" stroke="#ffffff" stroke-opacity="0.27" stroke-width="1.6"/><path d="M39.6 991.8H938.4" stroke="#ffffff" stroke-opacity="0.27" stroke-width="1.6"/><path d="M39.6 1059.5H938.4" stroke="#ffffff" stroke-opacity="0.27" stroke-width="1.6"/><path d="M63.5 620.8V1114" stroke="#ffffff" stroke-opacity="0.27" stroke-width="1.6"/><path d="M163.4 620.8V1114" stroke="#ffffff" stroke-opacity="0.27" stroke-width="1.6"/><path d="M263.4 620.8V1114" stroke="#ffffff" stroke-opacity="0.27" stroke-width="1.6"/><path d="M363.3 620.8V1114" stroke="#ffffff" stroke-opacity="0.27" stroke-width="1.6"/><path d="M463.2 620.8V1114" stroke="#ffffff" stroke-opacity="0.27" stroke-width="1.6"/><path d="M563 620.8V1114" stroke="#ffffff" stroke-opacity="0.27" stroke-width="1.6"/><path d="M663 620.8V1114" stroke="#ffffff" stroke-opacity="0.27" stroke-width="1.6"/><path d="M762.9 620.8V1114" stroke="#ffffff" stroke-opacity="0.27" stroke-width="1.6"/><path d="M862.8 620.8V1114" stroke="#ffffff" stroke-opacity="0.27" stroke-width="1.6"/><path d="M39.6 685.4H938.4" stroke="#ffffff" stroke-opacity="0.12" stroke-width="2"/><path d="M39.6 687H938.4" stroke="#000000" stroke-opacity="0.08" stroke-width="1.8"/><path d="M39.6 753.1H938.4" stroke="#ffffff" stroke-opacity="0.12" stroke-width="2"/><path d="M39.6 754.7H938.4" stroke="#000000" stroke-opacity="0.08" stroke-width="1.8"/><path d="M39.6 820.9H938.4" stroke="#ffffff" stroke-opacity="0.12" stroke-width="2"/><path d="M39.6 822.5H938.4" stroke="#000000" stroke-opacity="0.08" stroke-width="1.8"/><path d="M39.6 888.6H938.4" stroke="#ffffff" stroke-opacity="0.12" stroke-width="2"/><path d="M39.6 890.2H938.4" stroke="#000000" stroke-opacity="0.08" stroke-width="1.8"/><path d="M39.6 956.3H938.4" stroke="#ffffff" stroke-opacity="0.12" stroke-width="2"/><path d="M39.6 957.9H938.4" stroke="#000000" stroke-opacity="0.08" stroke-width="1.8"/><path d="M39.6 1024.1H938.4" stroke="#ffffff" stroke-opacity="0.12" stroke-width="2"/><path d="M39.6 1025.7H938.4" stroke="#000000" stroke-opacity="0.08" stroke-width="1.8"/><path d="M39.6 1091.8H938.4" stroke="#ffffff" stroke-opacity="0.12" stroke-width="2"/><path d="M39.6 1093.4H938.4" stroke="#000000" stroke-opacity="0.08" stroke-width="1.8"/><path d="M115.1 620.8V1114" stroke="#ffffff" stroke-opacity="0.12" stroke-width="2"/><path d="M113.5 620.8V1114" stroke="#000000" stroke-opacity="0.08" stroke-width="1.8"/><path d="M215 620.8V1114" stroke="#ffffff" stroke-opacity="0.12" stroke-width="2"/><path d="M213.4 620.8V1114" stroke="#000000" stroke-opacity="0.08" stroke-width="1.8"/><path d="M314.9 620.8V1114" stroke="#ffffff" stroke-opacity="0.12" stroke-width="2"/><path d="M313.3 620.8V1114" stroke="#000000" stroke-opacity="0.08" stroke-width="1.8"/><path d="M414.8 620.8V1114" stroke="#ffffff" stroke-opacity="0.12" stroke-width="2"/><path d="M413.2 620.8V1114" stroke="#000000" stroke-opacity="0.08" stroke-width="1.8"/><path d="M514.7 620.8V1114" stroke="#ffffff" stroke-opacity="0.12" stroke-width="2"/><path d="M513.1 620.8V1114" stroke="#000000" stroke-opacity="0.08" stroke-width="1.8"/><path d="M614.6 620.8V1114" stroke="#ffffff" stroke-opacity="0.12" stroke-width="2"/><path d="M613 620.8V1114" stroke="#000000" stroke-opacity="0.08" stroke-width="1.8"/><path d="M714.5 620.8V1114" stroke="#ffffff" stroke-opacity="0.12" stroke-width="2"/><path d="M712.9 620.8V1114" stroke="#000000" stroke-opacity="0.08" stroke-width="1.8"/><path d="M814.4 620.8V1114" stroke="#ffffff" stroke-opacity="0.12" stroke-width="2"/><path d="M812.8 620.8V1114" stroke="#000000" stroke-opacity="0.08" stroke-width="1.8"/><path d="M914.3 620.8V1114" stroke="#ffffff" stroke-opacity="0.12" stroke-width="2"/><path d="M912.7 620.8V1114" stroke="#000000" stroke-opacity="0.08" stroke-width="1.8"/></g>
<polygon points="63.5,984.8 113.5,1041.5 163.4,978.2 213.4,922.3 263.4,921.5 313.3,967.6 363.2,1030.9 413.2,969 463.2,945.2 513.1,1016.4 563,894.6 613,908.8 663,975.5 712.9,758 762.9,661.7 812.8,780.4 862.8,842.4 912.7,1000.6 912.7,1045.4 862.8,957.1 812.8,858.2 762.9,773.8 712.9,947.9 663,1067.9 613,1047.5 563,1019.9 513.1,1056.5 463.2,1011.2 413.2,1058.6 363.2,1073.1 313.3,1030.9 263.4,976.3 213.4,975.5 163.4,1059.9 113.5,1102.1 63.5,1054.7" fill="rgba(74,106,172,0.385)"/>
<polyline points="63.5,1019.9 113.5,1075.8 163.4,1016.4 213.4,948.6 263.4,948.6 313.3,1000.6 363.2,1052 413.2,1012.5 463.2,978.2 513.1,1037.5 563,957.6 613,978.7 663,1021.7 712.9,854.2 762.9,717.1 812.8,823.9 862.8,899.1 912.7,1023.8" fill="none" stroke="#2c5cb8" stroke-width="1.9" stroke-linejoin="round"/>
</g>
<g font-size="12.1" fill="#4a4a4a"><text x="113.5" y="1132.7" text-anchor="middle">2010</text><text x="213.4" y="1132.7" text-anchor="middle">2012</text><text x="313.3" y="1132.7" text-anchor="middle">2014</text><text x="413.2" y="1132.7" text-anchor="middle">2016</text><text x="513.1" y="1132.7" text-anchor="middle">2018</text><text x="613" y="1132.7" text-anchor="middle">2020</text><text x="712.9" y="1132.7" text-anchor="middle">2022</text><text x="812.8" y="1132.7" text-anchor="middle">2024</text><text x="912.7" y="1132.7" text-anchor="middle">2026</text><text x="26.6" y="691.3" text-anchor="end">11</text><text x="26.6" y="759" text-anchor="end">10</text><text x="26.6" y="826.8" text-anchor="end">9</text><text x="26.6" y="894.5" text-anchor="end">8</text><text x="26.6" y="962.2" text-anchor="end">7</text><text x="26.6" y="1030" text-anchor="end">6</text><text x="26.6" y="1097.7" text-anchor="end">5</text></g>
<circle cx="863.2" cy="899.1" r="7.05" fill="#0868b8"/>
<circle cx="863.2" cy="859.5" r="6.6" fill="none" stroke="#ea8436" stroke-width="3.1"/>
<text x="880.5" y="862.7" text-anchor="start" font-size="22.9" font-weight="bold" fill="#f5841a">8.44</text>
<text x="883.4" y="903" text-anchor="start" font-size="22.9" font-weight="bold" fill="#0a62b8">7.89</text>
<clipPath id="fc_pl"><circle cx="321" cy="1165" r="15"/></clipPath>
<g clip-path="url(#fc_pl)">
<rect x="306" y="1150" width="30" height="15.5" fill="#ececec"/>
<rect x="306" y="1165" width="30" height="15.5" fill="#ee1530"/>
</g>
<text x="350" y="1170.7" font-size="22.95" fill="#000">Poland</text>
<!-- Italy -->
<clipPath id="pc4"><rect x="969.7" y="611" width="942.7" height="527"/></clipPath>
<g clip-path="url(#pc4)">
<rect x="969.7" y="611" width="942.7" height="527" fill="url(#pbg)"/>
<g>
<rect x="937.2" y="833.4" width="132.5" height="132.5" rx="5.3" fill="#a6c0de" fill-opacity="0.30" transform="rotate(45 1003.5 899.7)"/>
<text x="1003.5" y="935.6" text-anchor="middle" font-size="100.3" font-weight="bold" fill="#f1f1f1" fill-opacity="0.88" stroke="#f1f1f1" stroke-opacity="0.88" stroke-width="8.2" stroke-linejoin="round">3</text>
<rect x="1077.9" y="806.6" width="65.6" height="65.6" rx="2.6" fill="#a6c0de" fill-opacity="0.30" transform="rotate(45 1110.7 839.4)"/>
<text x="1110.7" y="857.1" text-anchor="middle" font-size="49.6" font-weight="bold" fill="#f1f1f1" fill-opacity="0.88" stroke="#f1f1f1" stroke-opacity="0.88" stroke-width="4.1" stroke-linejoin="round">3</text>
<rect x="1122.6" y="873.3" width="98.7" height="98.7" rx="3.9" fill="#a6c0de" fill-opacity="0.30" transform="rotate(45 1172 922.6)"/>
<text x="1172" y="949.4" text-anchor="middle" font-size="74.7" font-weight="bold" fill="#f1f1f1" fill-opacity="0.88" stroke="#f1f1f1" stroke-opacity="0.88" stroke-width="6.1" stroke-linejoin="round">3</text>
<rect x="1303.6" y="833.4" width="132.5" height="132.5" rx="5.3" fill="#a6c0de" fill-opacity="0.30" transform="rotate(45 1369.9 899.7)"/>
<text x="1369.9" y="935.6" text-anchor="middle" font-size="100.3" font-weight="bold" fill="#f1f1f1" fill-opacity="0.88" stroke="#f1f1f1" stroke-opacity="0.88" stroke-width="8.2" stroke-linejoin="round">3</text>
<rect x="1444.3" y="806.6" width="65.6" height="65.6" rx="2.6" fill="#a6c0de" fill-opacity="0.30" transform="rotate(45 1477.1 839.4)"/>
<text x="1477.1" y="857.1" text-anchor="middle" font-size="49.6" font-weight="bold" fill="#f1f1f1" fill-opacity="0.88" stroke="#f1f1f1" stroke-opacity="0.88" stroke-width="4.1" stroke-linejoin="round">3</text>
<rect x="1489.1" y="873.3" width="98.7" height="98.7" rx="3.9" fill="#a6c0de" fill-opacity="0.30" transform="rotate(45 1538.4 922.6)"/>
<text x="1538.4" y="949.4" text-anchor="middle" font-size="74.7" font-weight="bold" fill="#f1f1f1" fill-opacity="0.88" stroke="#f1f1f1" stroke-opacity="0.88" stroke-width="6.1" stroke-linejoin="round">3</text>
<rect x="1670.1" y="833.4" width="132.5" height="132.5" rx="5.3" fill="#a6c0de" fill-opacity="0.30" transform="rotate(45 1736.3 899.7)"/>
<text x="1736.3" y="935.6" text-anchor="middle" font-size="100.3" font-weight="bold" fill="#f1f1f1" fill-opacity="0.88" stroke="#f1f1f1" stroke-opacity="0.88" stroke-width="8.2" stroke-linejoin="round">3</text>
<rect x="1810.7" y="806.6" width="65.6" height="65.6" rx="2.6" fill="#a6c0de" fill-opacity="0.30" transform="rotate(45 1843.5 839.4)"/>
<text x="1843.5" y="857.1" text-anchor="middle" font-size="49.6" font-weight="bold" fill="#f1f1f1" fill-opacity="0.88" stroke="#f1f1f1" stroke-opacity="0.88" stroke-width="4.1" stroke-linejoin="round">3</text>
<rect x="1855.5" y="873.3" width="98.7" height="98.7" rx="3.9" fill="#a6c0de" fill-opacity="0.30" transform="rotate(45 1904.8 922.6)"/>
<text x="1904.8" y="949.4" text-anchor="middle" font-size="74.7" font-weight="bold" fill="#f1f1f1" fill-opacity="0.88" stroke="#f1f1f1" stroke-opacity="0.88" stroke-width="6.1" stroke-linejoin="round">3</text>
</g>
<g fill="none"><path d="M1008.5 652.2H1905.8" stroke="#ffffff" stroke-opacity="0.27" stroke-width="1.6"/><path d="M1008.5 722.8H1905.8" stroke="#ffffff" stroke-opacity="0.27" stroke-width="1.6"/><path d="M1008.5 793.5H1905.8" stroke="#ffffff" stroke-opacity="0.27" stroke-width="1.6"/><path d="M1008.5 864.2H1905.8" stroke="#ffffff" stroke-opacity="0.27" stroke-width="1.6"/><path d="M1008.5 934.9H1905.8" stroke="#ffffff" stroke-opacity="0.27" stroke-width="1.6"/><path d="M1008.5 1005.6H1905.8" stroke="#ffffff" stroke-opacity="0.27" stroke-width="1.6"/><path d="M1008.5 1076.2H1905.8" stroke="#ffffff" stroke-opacity="0.27" stroke-width="1.6"/><path d="M1073 619.5V1111.6" stroke="#ffffff" stroke-opacity="0.27" stroke-width="1.6"/><path d="M1158.3 619.5V1111.6" stroke="#ffffff" stroke-opacity="0.27" stroke-width="1.6"/><path d="M1243.5 619.5V1111.6" stroke="#ffffff" stroke-opacity="0.27" stroke-width="1.6"/><path d="M1328.8 619.5V1111.6" stroke="#ffffff" stroke-opacity="0.27" stroke-width="1.6"/><path d="M1414.1 619.5V1111.6" stroke="#ffffff" stroke-opacity="0.27" stroke-width="1.6"/><path d="M1499.3 619.5V1111.6" stroke="#ffffff" stroke-opacity="0.27" stroke-width="1.6"/><path d="M1584.6 619.5V1111.6" stroke="#ffffff" stroke-opacity="0.27" stroke-width="1.6"/><path d="M1669.8 619.5V1111.6" stroke="#ffffff" stroke-opacity="0.27" stroke-width="1.6"/><path d="M1755.1 619.5V1111.6" stroke="#ffffff" stroke-opacity="0.27" stroke-width="1.6"/><path d="M1840.4 619.5V1111.6" stroke="#ffffff" stroke-opacity="0.27" stroke-width="1.6"/><path d="M1008.5 685.9H1905.8" stroke="#ffffff" stroke-opacity="0.12" stroke-width="2"/><path d="M1008.5 687.5H1905.8" stroke="#000000" stroke-opacity="0.08" stroke-width="1.8"/><path d="M1008.5 756.6H1905.8" stroke="#ffffff" stroke-opacity="0.12" stroke-width="2"/><path d="M1008.5 758.2H1905.8" stroke="#000000" stroke-opacity="0.08" stroke-width="1.8"/><path d="M1008.5 827.3H1905.8" stroke="#ffffff" stroke-opacity="0.12" stroke-width="2"/><path d="M1008.5 828.9H1905.8" stroke="#000000" stroke-opacity="0.08" stroke-width="1.8"/><path d="M1008.5 897.9H1905.8" stroke="#ffffff" stroke-opacity="0.12" stroke-width="2"/><path d="M1008.5 899.5H1905.8" stroke="#000000" stroke-opacity="0.08" stroke-width="1.8"/><path d="M1008.5 968.6H1905.8" stroke="#ffffff" stroke-opacity="0.12" stroke-width="2"/><path d="M1008.5 970.2H1905.8" stroke="#000000" stroke-opacity="0.08" stroke-width="1.8"/><path d="M1008.5 1039.3H1905.8" stroke="#ffffff" stroke-opacity="0.12" stroke-width="2"/><path d="M1008.5 1040.9H1905.8" stroke="#000000" stroke-opacity="0.08" stroke-width="1.8"/><path d="M1008.5 1110H1905.8" stroke="#ffffff" stroke-opacity="0.12" stroke-width="2"/><path d="M1008.5 1111.6H1905.8" stroke="#000000" stroke-opacity="0.08" stroke-width="1.8"/><path d="M1032 619.5V1111.6" stroke="#ffffff" stroke-opacity="0.12" stroke-width="2"/><path d="M1030.4 619.5V1111.6" stroke="#000000" stroke-opacity="0.08" stroke-width="1.8"/><path d="M1117.3 619.5V1111.6" stroke="#ffffff" stroke-opacity="0.12" stroke-width="2"/><path d="M1115.7 619.5V1111.6" stroke="#000000" stroke-opacity="0.08" stroke-width="1.8"/><path d="M1202.5 619.5V1111.6" stroke="#ffffff" stroke-opacity="0.12" stroke-width="2"/><path d="M1200.9 619.5V1111.6" stroke="#000000" stroke-opacity="0.08" stroke-width="1.8"/><path d="M1287.8 619.5V1111.6" stroke="#ffffff" stroke-opacity="0.12" stroke-width="2"/><path d="M1286.2 619.5V1111.6" stroke="#000000" stroke-opacity="0.08" stroke-width="1.8"/><path d="M1373 619.5V1111.6" stroke="#ffffff" stroke-opacity="0.12" stroke-width="2"/><path d="M1371.4 619.5V1111.6" stroke="#000000" stroke-opacity="0.08" stroke-width="1.8"/><path d="M1458.3 619.5V1111.6" stroke="#ffffff" stroke-opacity="0.12" stroke-width="2"/><path d="M1456.7 619.5V1111.6" stroke="#000000" stroke-opacity="0.08" stroke-width="1.8"/><path d="M1543.6 619.5V1111.6" stroke="#ffffff" stroke-opacity="0.12" stroke-width="2"/><path d="M1542 619.5V1111.6" stroke="#000000" stroke-opacity="0.08" stroke-width="1.8"/><path d="M1628.8 619.5V1111.6" stroke="#ffffff" stroke-opacity="0.12" stroke-width="2"/><path d="M1627.2 619.5V1111.6" stroke="#000000" stroke-opacity="0.08" stroke-width="1.8"/><path d="M1714.1 619.5V1111.6" stroke="#ffffff" stroke-opacity="0.12" stroke-width="2"/><path d="M1712.5 619.5V1111.6" stroke="#000000" stroke-opacity="0.08" stroke-width="1.8"/><path d="M1799.3 619.5V1111.6" stroke="#ffffff" stroke-opacity="0.12" stroke-width="2"/><path d="M1797.7 619.5V1111.6" stroke="#000000" stroke-opacity="0.08" stroke-width="1.8"/><path d="M1884.6 619.5V1111.6" stroke="#ffffff" stroke-opacity="0.12" stroke-width="2"/><path d="M1883 619.5V1111.6" stroke="#000000" stroke-opacity="0.08" stroke-width="1.8"/></g>
<polygon points="1030.4,998 1073,1027 1115.7,943.4 1158.3,994.5 1200.9,1006.4 1243.6,922.8 1286.2,879.8 1328.8,885.1 1371.4,918.8 1414.1,934.7 1456.7,881.9 1499.3,849 1542,908.3 1584.6,870.6 1627.2,909.6 1669.9,890.4 1712.5,760.1 1755.1,651.9 1797.7,669.1 1840.4,727.6 1883,879.3 1883,899.1 1840.4,818.6 1797.7,769.8 1755.1,730.3 1712.5,912.3 1669.9,980.8 1627.2,1052.6 1584.6,1023.5 1542,971.6 1499.3,903 1456.7,1015.6 1414.1,1018.3 1371.4,972.9 1328.8,984.3 1286.2,1000.6 1243.6,1007.7 1200.9,1056 1158.3,1068.4 1115.7,1054.7 1073,1096.1 1030.4,1058.1" fill="rgba(74,106,172,0.385)"/>
<polyline points="1030.4,1028.8 1073,1062.6 1115.7,998.8 1158.3,1032.3 1200.9,1031.5 1243.6,965.5 1286.2,939.9 1328.8,934.7 1371.4,946.5 1414.1,976.9 1456.7,949.2 1499.3,874.8 1542,939.2 1584.6,947.1 1627.2,980.8 1669.9,935.5 1712.5,835.8 1755.1,690.7 1797.7,719.7 1840.4,771.7 1883,889.3" fill="none" stroke="#2c5cb8" stroke-width="1.9" stroke-linejoin="round"/>
</g>
<g font-size="12.1" fill="#4a4a4a"><text x="1030.4" y="1130" text-anchor="middle">2006</text><text x="1115.7" y="1130" text-anchor="middle">2008</text><text x="1200.9" y="1130" text-anchor="middle">2010</text><text x="1286.2" y="1130" text-anchor="middle">2012</text><text x="1371.4" y="1130" text-anchor="middle">2014</text><text x="1456.7" y="1130" text-anchor="middle">2016</text><text x="1542" y="1130" text-anchor="middle">2018</text><text x="1627.2" y="1130" text-anchor="middle">2020</text><text x="1712.5" y="1130" text-anchor="middle">2022</text><text x="1797.7" y="1130" text-anchor="middle">2024</text><text x="1883" y="1130" text-anchor="middle">2026</text><text x="997.4" y="691.8" text-anchor="end">2,2</text><text x="997.4" y="762.5" text-anchor="end">2,0</text><text x="997.4" y="833.2" text-anchor="end">1,8</text><text x="997.4" y="903.8" text-anchor="end">1,6</text><text x="997.4" y="974.5" text-anchor="end">1,4</text><text x="997.4" y="1045.2" text-anchor="end">1,2</text><text x="997.4" y="1115.9" text-anchor="end">1,0</text></g>
<circle cx="1842" cy="771.7" r="7.05" fill="#0868b8"/>
<circle cx="1842.5" cy="757.2" r="6.6" fill="none" stroke="#ea8436" stroke-width="3.1"/>
<text x="1858.4" y="761.9" text-anchor="start" font-size="22.9" font-weight="bold" fill="#f5841a">2</text>
<text x="1854.5" y="779.6" text-anchor="start" font-size="22.9" font-weight="bold" fill="#0a62b8">1.96</text>
<clipPath id="fc_it"><circle cx="1291" cy="1163.8" r="15"/></clipPath>
<g clip-path="url(#fc_it)">
<rect x="1276" y="1148.8" width="10.5" height="30" fill="#42a83a"/>
<rect x="1286" y="1148.8" width="10.5" height="30" fill="#ededed"/>
<rect x="1296" y="1148.8" width="10.5" height="30" fill="#f0142c"/>
</g>
<text x="1320.8" y="1168.7" font-size="22.95" fill="#000">Italy</text>
<!-- United Kingdom -->
<clipPath id="pc5"><rect x="1937" y="612.4" width="938" height="526.1"/></clipPath>
<g clip-path="url(#pc5)">
<rect x="1937" y="612.4" width="938" height="526.1" fill="url(#pbg)"/>
<g>
<rect x="1903.2" y="834.1" width="131.9" height="131.9" rx="5.3" fill="#a6c0de" fill-opacity="0.30" transform="rotate(45 1969.1 900)"/>
<text x="1969.1" y="935.7" text-anchor="middle" font-size="99.8" font-weight="bold" fill="#f1f1f1" fill-opacity="0.88" stroke="#f1f1f1" stroke-opacity="0.88" stroke-width="8.2" stroke-linejoin="round">3</text>
<rect x="2043.1" y="807.4" width="65.2" height="65.2" rx="2.6" fill="#a6c0de" fill-opacity="0.30" transform="rotate(45 2075.7 840)"/>
<text x="2075.7" y="857.6" text-anchor="middle" font-size="49.4" font-weight="bold" fill="#f1f1f1" fill-opacity="0.88" stroke="#f1f1f1" stroke-opacity="0.88" stroke-width="4.1" stroke-linejoin="round">3</text>
<rect x="2087.7" y="873.7" width="98.2" height="98.2" rx="3.9" fill="#a6c0de" fill-opacity="0.30" transform="rotate(45 2136.8 922.8)"/>
<text x="2136.8" y="949.4" text-anchor="middle" font-size="74.3" font-weight="bold" fill="#f1f1f1" fill-opacity="0.88" stroke="#f1f1f1" stroke-opacity="0.88" stroke-width="6.1" stroke-linejoin="round">3</text>
<rect x="2267.7" y="834.1" width="131.9" height="131.9" rx="5.3" fill="#a6c0de" fill-opacity="0.30" transform="rotate(45 2333.7 900)"/>
<text x="2333.7" y="935.7" text-anchor="middle" font-size="99.8" font-weight="bold" fill="#f1f1f1" fill-opacity="0.88" stroke="#f1f1f1" stroke-opacity="0.88" stroke-width="8.2" stroke-linejoin="round">3</text>
<rect x="2407.7" y="807.4" width="65.2" height="65.2" rx="2.6" fill="#a6c0de" fill-opacity="0.30" transform="rotate(45 2440.3 840)"/>
<text x="2440.3" y="857.6" text-anchor="middle" font-size="49.4" font-weight="bold" fill="#f1f1f1" fill-opacity="0.88" stroke="#f1f1f1" stroke-opacity="0.88" stroke-width="4.1" stroke-linejoin="round">3</text>
<rect x="2452.2" y="873.7" width="98.2" height="98.2" rx="3.9" fill="#a6c0de" fill-opacity="0.30" transform="rotate(45 2501.3 922.8)"/>
<text x="2501.3" y="949.4" text-anchor="middle" font-size="74.3" font-weight="bold" fill="#f1f1f1" fill-opacity="0.88" stroke="#f1f1f1" stroke-opacity="0.88" stroke-width="6.1" stroke-linejoin="round">3</text>
<rect x="2632.3" y="834.1" width="131.9" height="131.9" rx="5.3" fill="#a6c0de" fill-opacity="0.30" transform="rotate(45 2698.3 900)"/>
<text x="2698.3" y="935.7" text-anchor="middle" font-size="99.8" font-weight="bold" fill="#f1f1f1" fill-opacity="0.88" stroke="#f1f1f1" stroke-opacity="0.88" stroke-width="8.2" stroke-linejoin="round">3</text>
<rect x="2772.3" y="807.4" width="65.2" height="65.2" rx="2.6" fill="#a6c0de" fill-opacity="0.30" transform="rotate(45 2804.9 840)"/>
<text x="2804.9" y="857.6" text-anchor="middle" font-size="49.4" font-weight="bold" fill="#f1f1f1" fill-opacity="0.88" stroke="#f1f1f1" stroke-opacity="0.88" stroke-width="4.1" stroke-linejoin="round">3</text>
<rect x="2816.8" y="873.7" width="98.2" height="98.2" rx="3.9" fill="#a6c0de" fill-opacity="0.30" transform="rotate(45 2865.9 922.8)"/>
<text x="2865.9" y="949.4" text-anchor="middle" font-size="74.3" font-weight="bold" fill="#f1f1f1" fill-opacity="0.88" stroke="#f1f1f1" stroke-opacity="0.88" stroke-width="6.1" stroke-linejoin="round">3</text>
</g>
<g fill="none"><path d="M1977.5 683.4H2867" stroke="#ffffff" stroke-opacity="0.27" stroke-width="1.6"/><path d="M1977.5 760.9H2867" stroke="#ffffff" stroke-opacity="0.27" stroke-width="1.6"/><path d="M1977.5 838.4H2867" stroke="#ffffff" stroke-opacity="0.27" stroke-width="1.6"/><path d="M1977.5 915.9H2867" stroke="#ffffff" stroke-opacity="0.27" stroke-width="1.6"/><path d="M1977.5 993.3H2867" stroke="#ffffff" stroke-opacity="0.27" stroke-width="1.6"/><path d="M1977.5 1070.8H2867" stroke="#ffffff" stroke-opacity="0.27" stroke-width="1.6"/><path d="M1995.8 622V1109.6" stroke="#ffffff" stroke-opacity="0.27" stroke-width="1.6"/><path d="M2076.8 622V1109.6" stroke="#ffffff" stroke-opacity="0.27" stroke-width="1.6"/><path d="M2157.7 622V1109.6" stroke="#ffffff" stroke-opacity="0.27" stroke-width="1.6"/><path d="M2238.7 622V1109.6" stroke="#ffffff" stroke-opacity="0.27" stroke-width="1.6"/><path d="M2319.7 622V1109.6" stroke="#ffffff" stroke-opacity="0.27" stroke-width="1.6"/><path d="M2400.7 622V1109.6" stroke="#ffffff" stroke-opacity="0.27" stroke-width="1.6"/><path d="M2481.6 622V1109.6" stroke="#ffffff" stroke-opacity="0.27" stroke-width="1.6"/><path d="M2562.6 622V1109.6" stroke="#ffffff" stroke-opacity="0.27" stroke-width="1.6"/><path d="M2643.6 622V1109.6" stroke="#ffffff" stroke-opacity="0.27" stroke-width="1.6"/><path d="M2724.5 622V1109.6" stroke="#ffffff" stroke-opacity="0.27" stroke-width="1.6"/><path d="M2805.5 622V1109.6" stroke="#ffffff" stroke-opacity="0.27" stroke-width="1.6"/><path d="M1977.5 643H2867" stroke="#ffffff" stroke-opacity="0.12" stroke-width="2"/><path d="M1977.5 644.6H2867" stroke="#000000" stroke-opacity="0.08" stroke-width="1.8"/><path d="M1977.5 720.5H2867" stroke="#ffffff" stroke-opacity="0.12" stroke-width="2"/><path d="M1977.5 722.1H2867" stroke="#000000" stroke-opacity="0.08" stroke-width="1.8"/><path d="M1977.5 798H2867" stroke="#ffffff" stroke-opacity="0.12" stroke-width="2"/><path d="M1977.5 799.6H2867" stroke="#000000" stroke-opacity="0.08" stroke-width="1.8"/><path d="M1977.5 875.5H2867" stroke="#ffffff" stroke-opacity="0.12" stroke-width="2"/><path d="M1977.5 877.1H2867" stroke="#000000" stroke-opacity="0.08" stroke-width="1.8"/><path d="M1977.5 953H2867" stroke="#ffffff" stroke-opacity="0.12" stroke-width="2"/><path d="M1977.5 954.6H2867" stroke="#000000" stroke-opacity="0.08" stroke-width="1.8"/><path d="M1977.5 1030.5H2867" stroke="#ffffff" stroke-opacity="0.12" stroke-width="2"/><path d="M1977.5 1032.1H2867" stroke="#000000" stroke-opacity="0.08" stroke-width="1.8"/><path d="M1977.5 1108H2867" stroke="#ffffff" stroke-opacity="0.12" stroke-width="2"/><path d="M1977.5 1109.6H2867" stroke="#000000" stroke-opacity="0.08" stroke-width="1.8"/><path d="M2037.9 622V1109.6" stroke="#ffffff" stroke-opacity="0.12" stroke-width="2"/><path d="M2036.3 622V1109.6" stroke="#000000" stroke-opacity="0.08" stroke-width="1.8"/><path d="M2118.9 622V1109.6" stroke="#ffffff" stroke-opacity="0.12" stroke-width="2"/><path d="M2117.3 622V1109.6" stroke="#000000" stroke-opacity="0.08" stroke-width="1.8"/><path d="M2199.8 622V1109.6" stroke="#ffffff" stroke-opacity="0.12" stroke-width="2"/><path d="M2198.2 622V1109.6" stroke="#000000" stroke-opacity="0.08" stroke-width="1.8"/><path d="M2280.8 622V1109.6" stroke="#ffffff" stroke-opacity="0.12" stroke-width="2"/><path d="M2279.2 622V1109.6" stroke="#000000" stroke-opacity="0.08" stroke-width="1.8"/><path d="M2361.8 622V1109.6" stroke="#ffffff" stroke-opacity="0.12" stroke-width="2"/><path d="M2360.2 622V1109.6" stroke="#000000" stroke-opacity="0.08" stroke-width="1.8"/><path d="M2442.8 622V1109.6" stroke="#ffffff" stroke-opacity="0.12" stroke-width="2"/><path d="M2441.2 622V1109.6" stroke="#000000" stroke-opacity="0.08" stroke-width="1.8"/><path d="M2523.7 622V1109.6" stroke="#ffffff" stroke-opacity="0.12" stroke-width="2"/><path d="M2522.1 622V1109.6" stroke="#000000" stroke-opacity="0.08" stroke-width="1.8"/><path d="M2604.7 622V1109.6" stroke="#ffffff" stroke-opacity="0.12" stroke-width="2"/><path d="M2603.1 622V1109.6" stroke="#000000" stroke-opacity="0.08" stroke-width="1.8"/><path d="M2685.7 622V1109.6" stroke="#ffffff" stroke-opacity="0.12" stroke-width="2"/><path d="M2684.1 622V1109.6" stroke="#000000" stroke-opacity="0.08" stroke-width="1.8"/><path d="M2766.6 622V1109.6" stroke="#ffffff" stroke-opacity="0.12" stroke-width="2"/><path d="M2765 622V1109.6" stroke="#000000" stroke-opacity="0.08" stroke-width="1.8"/><path d="M2847.6 622V1109.6" stroke="#ffffff" stroke-opacity="0.12" stroke-width="2"/><path d="M2846 622V1109.6" stroke="#000000" stroke-opacity="0.08" stroke-width="1.8"/></g>
<polygon points="1995.8,1087.6 2036.3,1078.9 2076.8,1072.3 2117.3,970.3 2157.8,904.3 2198.2,935.5 2238.7,914.1 2279.2,889.8 2319.7,834.5 2360.2,852.9 2400.7,971.6 2441.2,939.9 2481.6,870.1 2522.1,918.8 2562.6,891.2 2603.1,855 2643.6,891.2 2684.1,710.5 2724.5,628.7 2765,677.5 2805.5,694.7 2846,747.4 2846,754 2805.5,713.1 2765,690.7 2724.5,682.3 2684.1,905.7 2643.6,949.2 2603.1,891.2 2562.6,953.9 2522.1,936.5 2481.6,908.8 2441.2,1054.7 2400.7,1003.2 2360.2,908.3 2319.7,877.4 2279.2,940.7 2238.7,959.2 2198.2,960.3 2157.8,961.6 2117.3,1045.4 2076.8,1085.5 2036.3,1105.3 1995.8,1103.5" fill="rgba(74,106,172,0.385)"/>
<polyline points="1995.8,1095.5 2036.3,1092.1 2076.8,1078.9 2117.3,1005.9 2157.8,932.8 2198.2,947.9 2238.7,936.8 2279.2,915.4 2319.7,856.1 2360.2,881.1 2400.7,986.6 2441.2,998 2481.6,889.8 2522.1,928.1 2562.6,921.5 2603.1,873.5 2643.6,920.2 2684.1,809.4 2724.5,654.6 2765,684.1 2805.5,703.9 2846,750.6" fill="none" stroke="#2c5cb8" stroke-width="1.9" stroke-linejoin="round"/>
</g>
<g font-size="12.1" fill="#4a4a4a"><text x="2036.3" y="1129.8" text-anchor="middle">2006</text><text x="2117.3" y="1129.8" text-anchor="middle">2008</text><text x="2198.2" y="1129.8" text-anchor="middle">2010</text><text x="2279.2" y="1129.8" text-anchor="middle">2012</text><text x="2360.2" y="1129.8" text-anchor="middle">2014</text><text x="2441.2" y="1129.8" text-anchor="middle">2016</text><text x="2522.1" y="1129.8" text-anchor="middle">2018</text><text x="2603.1" y="1129.8" text-anchor="middle">2020</text><text x="2684.1" y="1129.8" text-anchor="middle">2022</text><text x="2765" y="1129.8" text-anchor="middle">2024</text><text x="2846" y="1129.8" text-anchor="middle">2026</text><text x="1965.3" y="648.9" text-anchor="end">220</text><text x="1965.3" y="726.4" text-anchor="end">200</text><text x="1965.3" y="803.9" text-anchor="end">180</text><text x="1965.3" y="881.4" text-anchor="end">160</text><text x="1965.3" y="958.9" text-anchor="end">140</text><text x="1965.3" y="1036.4" text-anchor="end">120</text><text x="1965.3" y="1113.9" text-anchor="end">100</text></g>
<circle cx="2805.9" cy="704.4" r="7.05" fill="#0868b8"/>
<circle cx="2806.4" cy="692" r="6.6" fill="none" stroke="#ea8436" stroke-width="3.1"/>
<text x="2820" y="686.8" text-anchor="start" font-size="22.9" font-weight="bold" fill="#f5841a">207</text>
<text x="2732.2" y="729.7" text-anchor="start" font-size="22.9" font-weight="bold" fill="#0a62b8">204.68</text>
<clipPath id="fc_gb"><circle cx="2195.8" cy="1163.8" r="15"/></clipPath>
<g clip-path="url(#fc_gb)">
<rect x="2180.8" y="1148.8" width="30" height="30" fill="#1f4fa0"/>
<line x1="2180.8" y1="1148.8" x2="2210.8" y2="1178.8" stroke="#ffffff" stroke-width="3.8"/>
<line x1="2180.8" y1="1148.8" x2="2210.8" y2="1178.8" stroke="#e8142e" stroke-width="1.3"/>
<line x1="2180.8" y1="1178.8" x2="2210.8" y2="1148.8" stroke="#ffffff" stroke-width="3.8"/>
<line x1="2180.8" y1="1178.8" x2="2210.8" y2="1148.8" stroke="#e8142e" stroke-width="1.3"/>
<rect x="2191.9" y="1148.8" width="7.8" height="30" fill="#ffffff"/>
<rect x="2180.8" y="1159.9" width="30" height="7.8" fill="#ffffff"/>
<rect x="2193.4" y="1148.8" width="4.8" height="30" fill="#e8142e"/>
<rect x="2180.8" y="1161.4" width="30" height="4.8" fill="#e8142e"/>
</g>
<text x="2225.1" y="1165.7" font-size="22.95" fill="#000">United Kingdom</text>
<!-- Hungary -->
<clipPath id="pc6"><rect x="0" y="1243" width="945.5" height="525"/></clipPath>
<g clip-path="url(#pc6)">
<rect x="0" y="1243" width="945.5" height="525" fill="url(#pbg)"/>
<g>
<rect x="-32.5" y="1465.2" width="132.9" height="132.9" rx="5.3" fill="#a6c0de" fill-opacity="0.30" transform="rotate(45 34 1531.7)"/>
<text x="34" y="1567.7" text-anchor="middle" font-size="100.6" font-weight="bold" fill="#f1f1f1" fill-opacity="0.88" stroke="#f1f1f1" stroke-opacity="0.88" stroke-width="8.3" stroke-linejoin="round">3</text>
<rect x="108.6" y="1438.3" width="65.8" height="65.8" rx="2.6" fill="#a6c0de" fill-opacity="0.30" transform="rotate(45 141.5 1471.2)"/>
<text x="141.5" y="1489" text-anchor="middle" font-size="49.8" font-weight="bold" fill="#f1f1f1" fill-opacity="0.88" stroke="#f1f1f1" stroke-opacity="0.88" stroke-width="4.1" stroke-linejoin="round">3</text>
<rect x="153.5" y="1505.2" width="99" height="99" rx="4" fill="#a6c0de" fill-opacity="0.30" transform="rotate(45 203 1554.7)"/>
<text x="203" y="1581.5" text-anchor="middle" font-size="74.9" font-weight="bold" fill="#f1f1f1" fill-opacity="0.88" stroke="#f1f1f1" stroke-opacity="0.88" stroke-width="6.2" stroke-linejoin="round">3</text>
<rect x="335" y="1465.2" width="132.9" height="132.9" rx="5.3" fill="#a6c0de" fill-opacity="0.30" transform="rotate(45 401.5 1531.7)"/>
<text x="401.5" y="1567.7" text-anchor="middle" font-size="100.6" font-weight="bold" fill="#f1f1f1" fill-opacity="0.88" stroke="#f1f1f1" stroke-opacity="0.88" stroke-width="8.3" stroke-linejoin="round">3</text>
<rect x="476.1" y="1438.3" width="65.8" height="65.8" rx="2.6" fill="#a6c0de" fill-opacity="0.30" transform="rotate(45 509 1471.2)"/>
<text x="509" y="1489" text-anchor="middle" font-size="49.8" font-weight="bold" fill="#f1f1f1" fill-opacity="0.88" stroke="#f1f1f1" stroke-opacity="0.88" stroke-width="4.1" stroke-linejoin="round">3</text>
<rect x="521" y="1505.2" width="99" height="99" rx="4" fill="#a6c0de" fill-opacity="0.30" transform="rotate(45 570.5 1554.7)"/>
<text x="570.5" y="1581.5" text-anchor="middle" font-size="74.9" font-weight="bold" fill="#f1f1f1" fill-opacity="0.88" stroke="#f1f1f1" stroke-opacity="0.88" stroke-width="6.2" stroke-linejoin="round">3</text>
<rect x="702.5" y="1465.2" width="132.9" height="132.9" rx="5.3" fill="#a6c0de" fill-opacity="0.30" transform="rotate(45 769 1531.7)"/>
<text x="769" y="1567.7" text-anchor="middle" font-size="100.6" font-weight="bold" fill="#f1f1f1" fill-opacity="0.88" stroke="#f1f1f1" stroke-opacity="0.88" stroke-width="8.3" stroke-linejoin="round">3</text>
<rect x="843.6" y="1438.3" width="65.8" height="65.8" rx="2.6" fill="#a6c0de" fill-opacity="0.30" transform="rotate(45 876.5 1471.2)"/>
<text x="876.5" y="1489" text-anchor="middle" font-size="49.8" font-weight="bold" fill="#f1f1f1" fill-opacity="0.88" stroke="#f1f1f1" stroke-opacity="0.88" stroke-width="4.1" stroke-linejoin="round">3</text>
<rect x="888.5" y="1505.2" width="99" height="99" rx="4" fill="#a6c0de" fill-opacity="0.30" transform="rotate(45 938 1554.7)"/>
<text x="938" y="1581.5" text-anchor="middle" font-size="74.9" font-weight="bold" fill="#f1f1f1" fill-opacity="0.88" stroke="#f1f1f1" stroke-opacity="0.88" stroke-width="6.2" stroke-linejoin="round">3</text>
</g>
<g fill="none"><path d="M39.6 1296H938.4" stroke="#ffffff" stroke-opacity="0.27" stroke-width="1.6"/><path d="M39.6 1340.4H938.4" stroke="#ffffff" stroke-opacity="0.27" stroke-width="1.6"/><path d="M39.6 1384.8H938.4" stroke="#ffffff" stroke-opacity="0.27" stroke-width="1.6"/><path d="M39.6 1429.2H938.4" stroke="#ffffff" stroke-opacity="0.27" stroke-width="1.6"/><path d="M39.6 1473.6H938.4" stroke="#ffffff" stroke-opacity="0.27" stroke-width="1.6"/><path d="M39.6 1517.9H938.4" stroke="#ffffff" stroke-opacity="0.27" stroke-width="1.6"/><path d="M39.6 1562.3H938.4" stroke="#ffffff" stroke-opacity="0.27" stroke-width="1.6"/><path d="M39.6 1606.7H938.4" stroke="#ffffff" stroke-opacity="0.27" stroke-width="1.6"/><path d="M39.6 1651.1H938.4" stroke="#ffffff" stroke-opacity="0.27" stroke-width="1.6"/><path d="M39.6 1695.5H938.4" stroke="#ffffff" stroke-opacity="0.27" stroke-width="1.6"/><path d="M39.6 1739.9H938.4" stroke="#ffffff" stroke-opacity="0.27" stroke-width="1.6"/><path d="M40.5 1252V1745.3" stroke="#ffffff" stroke-opacity="0.27" stroke-width="1.6"/><path d="M130.2 1252V1745.3" stroke="#ffffff" stroke-opacity="0.27" stroke-width="1.6"/><path d="M219.9 1252V1745.3" stroke="#ffffff" stroke-opacity="0.27" stroke-width="1.6"/><path d="M309.7 1252V1745.3" stroke="#ffffff" stroke-opacity="0.27" stroke-width="1.6"/><path d="M399.4 1252V1745.3" stroke="#ffffff" stroke-opacity="0.27" stroke-width="1.6"/><path d="M489.1 1252V1745.3" stroke="#ffffff" stroke-opacity="0.27" stroke-width="1.6"/><path d="M578.8 1252V1745.3" stroke="#ffffff" stroke-opacity="0.27" stroke-width="1.6"/><path d="M668.4 1252V1745.3" stroke="#ffffff" stroke-opacity="0.27" stroke-width="1.6"/><path d="M758.1 1252V1745.3" stroke="#ffffff" stroke-opacity="0.27" stroke-width="1.6"/><path d="M847.9 1252V1745.3" stroke="#ffffff" stroke-opacity="0.27" stroke-width="1.6"/><path d="M937.5 1252V1745.3" stroke="#ffffff" stroke-opacity="0.27" stroke-width="1.6"/><path d="M39.6 1272.2H938.4" stroke="#ffffff" stroke-opacity="0.12" stroke-width="2"/><path d="M39.6 1273.8H938.4" stroke="#000000" stroke-opacity="0.08" stroke-width="1.8"/><path d="M39.6 1316.6H938.4" stroke="#ffffff" stroke-opacity="0.12" stroke-width="2"/><path d="M39.6 1318.2H938.4" stroke="#000000" stroke-opacity="0.08" stroke-width="1.8"/><path d="M39.6 1361H938.4" stroke="#ffffff" stroke-opacity="0.12" stroke-width="2"/><path d="M39.6 1362.6H938.4" stroke="#000000" stroke-opacity="0.08" stroke-width="1.8"/><path d="M39.6 1405.4H938.4" stroke="#ffffff" stroke-opacity="0.12" stroke-width="2"/><path d="M39.6 1407H938.4" stroke="#000000" stroke-opacity="0.08" stroke-width="1.8"/><path d="M39.6 1449.8H938.4" stroke="#ffffff" stroke-opacity="0.12" stroke-width="2"/><path d="M39.6 1451.4H938.4" stroke="#000000" stroke-opacity="0.08" stroke-width="1.8"/><path d="M39.6 1494.2H938.4" stroke="#ffffff" stroke-opacity="0.12" stroke-width="2"/><path d="M39.6 1495.8H938.4" stroke="#000000" stroke-opacity="0.08" stroke-width="1.8"/><path d="M39.6 1538.5H938.4" stroke="#ffffff" stroke-opacity="0.12" stroke-width="2"/><path d="M39.6 1540.1H938.4" stroke="#000000" stroke-opacity="0.08" stroke-width="1.8"/><path d="M39.6 1582.9H938.4" stroke="#ffffff" stroke-opacity="0.12" stroke-width="2"/><path d="M39.6 1584.5H938.4" stroke="#000000" stroke-opacity="0.08" stroke-width="1.8"/><path d="M39.6 1627.3H938.4" stroke="#ffffff" stroke-opacity="0.12" stroke-width="2"/><path d="M39.6 1628.9H938.4" stroke="#000000" stroke-opacity="0.08" stroke-width="1.8"/><path d="M39.6 1671.7H938.4" stroke="#ffffff" stroke-opacity="0.12" stroke-width="2"/><path d="M39.6 1673.3H938.4" stroke="#000000" stroke-opacity="0.08" stroke-width="1.8"/><path d="M39.6 1716.1H938.4" stroke="#ffffff" stroke-opacity="0.12" stroke-width="2"/><path d="M39.6 1717.7H938.4" stroke="#000000" stroke-opacity="0.08" stroke-width="1.8"/><path d="M87 1252V1745.3" stroke="#ffffff" stroke-opacity="0.12" stroke-width="2"/><path d="M85.4 1252V1745.3" stroke="#000000" stroke-opacity="0.08" stroke-width="1.8"/><path d="M176.7 1252V1745.3" stroke="#ffffff" stroke-opacity="0.12" stroke-width="2"/><path d="M175.1 1252V1745.3" stroke="#000000" stroke-opacity="0.08" stroke-width="1.8"/><path d="M266.4 1252V1745.3" stroke="#ffffff" stroke-opacity="0.12" stroke-width="2"/><path d="M264.8 1252V1745.3" stroke="#000000" stroke-opacity="0.08" stroke-width="1.8"/><path d="M356.1 1252V1745.3" stroke="#ffffff" stroke-opacity="0.12" stroke-width="2"/><path d="M354.5 1252V1745.3" stroke="#000000" stroke-opacity="0.08" stroke-width="1.8"/><path d="M445.8 1252V1745.3" stroke="#ffffff" stroke-opacity="0.12" stroke-width="2"/><path d="M444.2 1252V1745.3" stroke="#000000" stroke-opacity="0.08" stroke-width="1.8"/><path d="M535.5 1252V1745.3" stroke="#ffffff" stroke-opacity="0.12" stroke-width="2"/><path d="M533.9 1252V1745.3" stroke="#000000" stroke-opacity="0.08" stroke-width="1.8"/><path d="M625.2 1252V1745.3" stroke="#ffffff" stroke-opacity="0.12" stroke-width="2"/><path d="M623.6 1252V1745.3" stroke="#000000" stroke-opacity="0.08" stroke-width="1.8"/><path d="M714.9 1252V1745.3" stroke="#ffffff" stroke-opacity="0.12" stroke-width="2"/><path d="M713.3 1252V1745.3" stroke="#000000" stroke-opacity="0.08" stroke-width="1.8"/><path d="M804.6 1252V1745.3" stroke="#ffffff" stroke-opacity="0.12" stroke-width="2"/><path d="M803 1252V1745.3" stroke="#000000" stroke-opacity="0.08" stroke-width="1.8"/><path d="M894.3 1252V1745.3" stroke="#ffffff" stroke-opacity="0.12" stroke-width="2"/><path d="M892.7 1252V1745.3" stroke="#000000" stroke-opacity="0.08" stroke-width="1.8"/></g>
<polygon points="85.4,1628 175.1,1689.9 264.8,1546.7 354.5,1552.8 444.2,1649.1 533.9,1359 623.6,1281.9 713.3,1347.9 803,1392.5 892.7,1583.1 892.7,1646.4 803,1529.9 713.3,1407.7 623.6,1368.2 533.9,1587.1 444.2,1720.8 354.5,1692.6 264.8,1686 175.1,1725.5 85.4,1695.2" fill="rgba(74,106,172,0.385)"/>
<polyline points="85.4,1661.5 175.1,1707.9 264.8,1616.6 354.5,1623.2 444.2,1686 533.9,1475 623.6,1324.7 713.3,1378.2 803,1460 892.7,1614.8" fill="none" stroke="#2c5cb8" stroke-width="1.9" stroke-linejoin="round"/>
</g>
<g font-size="12.1" fill="#4a4a4a"><text x="85.4" y="1762.7" text-anchor="middle">2017</text><text x="175.1" y="1762.7" text-anchor="middle">2018</text><text x="264.8" y="1762.7" text-anchor="middle">2019</text><text x="354.5" y="1762.7" text-anchor="middle">2020</text><text x="444.2" y="1762.7" text-anchor="middle">2021</text><text x="533.9" y="1762.7" text-anchor="middle">2022</text><text x="623.6" y="1762.7" text-anchor="middle">2023</text><text x="713.3" y="1762.7" text-anchor="middle">2024</text><text x="803" y="1762.7" text-anchor="middle">2025</text><text x="892.7" y="1762.7" text-anchor="middle">2026</text><text x="30.5" y="1278.1" text-anchor="end">950</text><text x="30.5" y="1322.5" text-anchor="end">900</text><text x="30.5" y="1366.9" text-anchor="end">850</text><text x="30.5" y="1411.3" text-anchor="end">800</text><text x="30.5" y="1455.7" text-anchor="end">750</text><text x="30.5" y="1500" text-anchor="end">700</text><text x="30.5" y="1544.4" text-anchor="end">650</text><text x="30.5" y="1588.8" text-anchor="end">600</text><text x="30.5" y="1633.2" text-anchor="end">550</text><text x="30.5" y="1677.6" text-anchor="end">500</text><text x="30.5" y="1722" text-anchor="end">450</text></g>
<circle cx="803.1" cy="1460" r="7.05" fill="#0868b8"/>
<circle cx="803.6" cy="1374.3" r="6.6" fill="none" stroke="#ea8436" stroke-width="3.1"/>
<text x="819.9" y="1366.9" text-anchor="start" font-size="22.9" font-weight="bold" fill="#f5841a">834.2</text>
<text x="822.8" y="1451.8" text-anchor="start" font-size="22.9" font-weight="bold" fill="#0a62b8">740.63</text>
<clipPath id="fc_hu"><circle cx="305.7" cy="1786.8" r="15"/></clipPath>
<g clip-path="url(#fc_hu)">
<rect x="290.7" y="1771.8" width="30" height="10.5" fill="#e8463c"/>
<rect x="290.7" y="1781.8" width="30" height="10.5" fill="#ffffff"/>
<rect x="290.7" y="1791.8" width="30" height="10.5" fill="#2b6e5c"/>
</g>
<text x="335" y="1792.7" font-size="22.95" fill="#000">Hungary</text>
<!-- Russia -->
<clipPath id="pc7"><rect x="969.7" y="1245" width="940" height="533"/></clipPath>
<g clip-path="url(#pc7)">
<rect x="969.7" y="1245" width="940" height="533" fill="url(#pbg)"/>
<g>
<rect x="937.4" y="1467.3" width="132.2" height="132.2" rx="5.3" fill="#a6c0de" fill-opacity="0.30" transform="rotate(45 1003.5 1533.4)"/>
<text x="1003.5" y="1569.2" text-anchor="middle" font-size="100" font-weight="bold" fill="#f1f1f1" fill-opacity="0.88" stroke="#f1f1f1" stroke-opacity="0.88" stroke-width="8.2" stroke-linejoin="round">3</text>
<rect x="1077.7" y="1440.6" width="65.4" height="65.4" rx="2.6" fill="#a6c0de" fill-opacity="0.30" transform="rotate(45 1110.4 1473.3)"/>
<text x="1110.4" y="1491" text-anchor="middle" font-size="49.5" font-weight="bold" fill="#f1f1f1" fill-opacity="0.88" stroke="#f1f1f1" stroke-opacity="0.88" stroke-width="4.1" stroke-linejoin="round">3</text>
<rect x="1122.3" y="1507.1" width="98.4" height="98.4" rx="3.9" fill="#a6c0de" fill-opacity="0.30" transform="rotate(45 1171.5 1556.3)"/>
<text x="1171.5" y="1582.9" text-anchor="middle" font-size="74.5" font-weight="bold" fill="#f1f1f1" fill-opacity="0.88" stroke="#f1f1f1" stroke-opacity="0.88" stroke-width="6.1" stroke-linejoin="round">3</text>
<rect x="1302.8" y="1467.3" width="132.2" height="132.2" rx="5.3" fill="#a6c0de" fill-opacity="0.30" transform="rotate(45 1368.9 1533.4)"/>
<text x="1368.9" y="1569.2" text-anchor="middle" font-size="100" font-weight="bold" fill="#f1f1f1" fill-opacity="0.88" stroke="#f1f1f1" stroke-opacity="0.88" stroke-width="8.2" stroke-linejoin="round">3</text>
<rect x="1443" y="1440.6" width="65.4" height="65.4" rx="2.6" fill="#a6c0de" fill-opacity="0.30" transform="rotate(45 1475.7 1473.3)"/>
<text x="1475.7" y="1491" text-anchor="middle" font-size="49.5" font-weight="bold" fill="#f1f1f1" fill-opacity="0.88" stroke="#f1f1f1" stroke-opacity="0.88" stroke-width="4.1" stroke-linejoin="round">3</text>
<rect x="1487.7" y="1507.1" width="98.4" height="98.4" rx="3.9" fill="#a6c0de" fill-opacity="0.30" transform="rotate(45 1536.9 1556.3)"/>
<text x="1536.9" y="1582.9" text-anchor="middle" font-size="74.5" font-weight="bold" fill="#f1f1f1" fill-opacity="0.88" stroke="#f1f1f1" stroke-opacity="0.88" stroke-width="6.1" stroke-linejoin="round">3</text>
<rect x="1668.1" y="1467.3" width="132.2" height="132.2" rx="5.3" fill="#a6c0de" fill-opacity="0.30" transform="rotate(45 1734.2 1533.4)"/>
<text x="1734.2" y="1569.2" text-anchor="middle" font-size="100" font-weight="bold" fill="#f1f1f1" fill-opacity="0.88" stroke="#f1f1f1" stroke-opacity="0.88" stroke-width="8.2" stroke-linejoin="round">3</text>
<rect x="1808.4" y="1440.6" width="65.4" height="65.4" rx="2.6" fill="#a6c0de" fill-opacity="0.30" transform="rotate(45 1841.1 1473.3)"/>
<text x="1841.1" y="1491" text-anchor="middle" font-size="49.5" font-weight="bold" fill="#f1f1f1" fill-opacity="0.88" stroke="#f1f1f1" stroke-opacity="0.88" stroke-width="4.1" stroke-linejoin="round">3</text>
<rect x="1853" y="1507.1" width="98.4" height="98.4" rx="3.9" fill="#a6c0de" fill-opacity="0.30" transform="rotate(45 1902.2 1556.3)"/>
<text x="1902.2" y="1582.9" text-anchor="middle" font-size="74.5" font-weight="bold" fill="#f1f1f1" fill-opacity="0.88" stroke="#f1f1f1" stroke-opacity="0.88" stroke-width="6.1" stroke-linejoin="round">3</text>
</g>
<g fill="none"><path d="M1009.8 1297.6H1904" stroke="#ffffff" stroke-opacity="0.27" stroke-width="1.6"/><path d="M1009.8 1345.8H1904" stroke="#ffffff" stroke-opacity="0.27" stroke-width="1.6"/><path d="M1009.8 1394.1H1904" stroke="#ffffff" stroke-opacity="0.27" stroke-width="1.6"/><path d="M1009.8 1442.3H1904" stroke="#ffffff" stroke-opacity="0.27" stroke-width="1.6"/><path d="M1009.8 1490.5H1904" stroke="#ffffff" stroke-opacity="0.27" stroke-width="1.6"/><path d="M1009.8 1538.8H1904" stroke="#ffffff" stroke-opacity="0.27" stroke-width="1.6"/><path d="M1009.8 1587H1904" stroke="#ffffff" stroke-opacity="0.27" stroke-width="1.6"/><path d="M1009.8 1635.2H1904" stroke="#ffffff" stroke-opacity="0.27" stroke-width="1.6"/><path d="M1009.8 1683.5H1904" stroke="#ffffff" stroke-opacity="0.27" stroke-width="1.6"/><path d="M1009.8 1731.7H1904" stroke="#ffffff" stroke-opacity="0.27" stroke-width="1.6"/><path d="M1113.2 1254.8V1744.8" stroke="#ffffff" stroke-opacity="0.27" stroke-width="1.6"/><path d="M1250.7 1254.8V1744.8" stroke="#ffffff" stroke-opacity="0.27" stroke-width="1.6"/><path d="M1388.2 1254.8V1744.8" stroke="#ffffff" stroke-opacity="0.27" stroke-width="1.6"/><path d="M1525.8 1254.8V1744.8" stroke="#ffffff" stroke-opacity="0.27" stroke-width="1.6"/><path d="M1663.3 1254.8V1744.8" stroke="#ffffff" stroke-opacity="0.27" stroke-width="1.6"/><path d="M1800.9 1254.8V1744.8" stroke="#ffffff" stroke-opacity="0.27" stroke-width="1.6"/><path d="M1009.8 1271.9H1904" stroke="#ffffff" stroke-opacity="0.12" stroke-width="2"/><path d="M1009.8 1273.5H1904" stroke="#000000" stroke-opacity="0.08" stroke-width="1.8"/><path d="M1009.8 1320.1H1904" stroke="#ffffff" stroke-opacity="0.12" stroke-width="2"/><path d="M1009.8 1321.7H1904" stroke="#000000" stroke-opacity="0.08" stroke-width="1.8"/><path d="M1009.8 1368.4H1904" stroke="#ffffff" stroke-opacity="0.12" stroke-width="2"/><path d="M1009.8 1370H1904" stroke="#000000" stroke-opacity="0.08" stroke-width="1.8"/><path d="M1009.8 1416.6H1904" stroke="#ffffff" stroke-opacity="0.12" stroke-width="2"/><path d="M1009.8 1418.2H1904" stroke="#000000" stroke-opacity="0.08" stroke-width="1.8"/><path d="M1009.8 1464.8H1904" stroke="#ffffff" stroke-opacity="0.12" stroke-width="2"/><path d="M1009.8 1466.4H1904" stroke="#000000" stroke-opacity="0.08" stroke-width="1.8"/><path d="M1009.8 1513.1H1904" stroke="#ffffff" stroke-opacity="0.12" stroke-width="2"/><path d="M1009.8 1514.7H1904" stroke="#000000" stroke-opacity="0.08" stroke-width="1.8"/><path d="M1009.8 1561.3H1904" stroke="#ffffff" stroke-opacity="0.12" stroke-width="2"/><path d="M1009.8 1562.9H1904" stroke="#000000" stroke-opacity="0.08" stroke-width="1.8"/><path d="M1009.8 1609.5H1904" stroke="#ffffff" stroke-opacity="0.12" stroke-width="2"/><path d="M1009.8 1611.1H1904" stroke="#000000" stroke-opacity="0.08" stroke-width="1.8"/><path d="M1009.8 1657.7H1904" stroke="#ffffff" stroke-opacity="0.12" stroke-width="2"/><path d="M1009.8 1659.3H1904" stroke="#000000" stroke-opacity="0.08" stroke-width="1.8"/><path d="M1009.8 1706H1904" stroke="#ffffff" stroke-opacity="0.12" stroke-width="2"/><path d="M1009.8 1707.6H1904" stroke="#000000" stroke-opacity="0.08" stroke-width="1.8"/><path d="M1046 1254.8V1744.8" stroke="#ffffff" stroke-opacity="0.12" stroke-width="2"/><path d="M1044.4 1254.8V1744.8" stroke="#000000" stroke-opacity="0.08" stroke-width="1.8"/><path d="M1183.5 1254.8V1744.8" stroke="#ffffff" stroke-opacity="0.12" stroke-width="2"/><path d="M1181.9 1254.8V1744.8" stroke="#000000" stroke-opacity="0.08" stroke-width="1.8"/><path d="M1321.1 1254.8V1744.8" stroke="#ffffff" stroke-opacity="0.12" stroke-width="2"/><path d="M1319.5 1254.8V1744.8" stroke="#000000" stroke-opacity="0.08" stroke-width="1.8"/><path d="M1458.6 1254.8V1744.8" stroke="#ffffff" stroke-opacity="0.12" stroke-width="2"/><path d="M1457 1254.8V1744.8" stroke="#000000" stroke-opacity="0.08" stroke-width="1.8"/><path d="M1596.2 1254.8V1744.8" stroke="#ffffff" stroke-opacity="0.12" stroke-width="2"/><path d="M1594.6 1254.8V1744.8" stroke="#000000" stroke-opacity="0.08" stroke-width="1.8"/><path d="M1733.7 1254.8V1744.8" stroke="#ffffff" stroke-opacity="0.12" stroke-width="2"/><path d="M1732.1 1254.8V1744.8" stroke="#000000" stroke-opacity="0.08" stroke-width="1.8"/><path d="M1871.2 1254.8V1744.8" stroke="#ffffff" stroke-opacity="0.12" stroke-width="2"/><path d="M1869.6 1254.8V1744.8" stroke="#000000" stroke-opacity="0.08" stroke-width="1.8"/></g>
<polygon points="1044.4,1495.6 1113.2,1511.1 1181.9,1550.7 1250.7,1551.5 1319.5,1512.5 1388.2,1567.8 1457,1558.1 1525.8,1436.8 1594.6,1487.7 1663.3,1424.9 1732.1,1463.9 1800.9,1322.8 1869.6,1562.6 1869.6,1562.6 1800.9,1498.2 1732.1,1558.1 1663.3,1557.3 1594.6,1564.7 1525.8,1554.1 1457,1663.6 1388.2,1658.8 1319.5,1633.2 1250.7,1628.8 1181.9,1648.3 1113.2,1612.1 1044.4,1671.5" fill="rgba(74,106,172,0.385)"/>
<polyline points="1044.4,1583.9 1113.2,1562 1181.9,1599.7 1250.7,1589.7 1319.5,1572.6 1388.2,1614 1457,1610 1525.8,1494.8 1594.6,1526.4 1663.3,1490.8 1732.1,1511.4 1800.9,1409.1 1869.6,1562.6" fill="none" stroke="#2c5cb8" stroke-width="1.9" stroke-linejoin="round"/>
</g>
<g font-size="12.1" fill="#4a4a4a"><text x="1044.4" y="1763.8" text-anchor="middle">2014</text><text x="1181.9" y="1763.8" text-anchor="middle">2016</text><text x="1319.5" y="1763.8" text-anchor="middle">2018</text><text x="1457" y="1763.8" text-anchor="middle">2020</text><text x="1594.6" y="1763.8" text-anchor="middle">2022</text><text x="1732.1" y="1763.8" text-anchor="middle">2024</text><text x="1869.6" y="1763.8" text-anchor="middle">2026</text><text x="1000" y="1277.8" text-anchor="end">170</text><text x="1000" y="1326" text-anchor="end">160</text><text x="1000" y="1374.3" text-anchor="end">150</text><text x="1000" y="1422.5" text-anchor="end">140</text><text x="1000" y="1470.7" text-anchor="end">130</text><text x="1000" y="1519" text-anchor="end">120</text><text x="1000" y="1567.2" text-anchor="end">110</text><text x="1000" y="1615.4" text-anchor="end">100</text><text x="1000" y="1663.6" text-anchor="end">90</text><text x="1000" y="1711.9" text-anchor="end">80</text></g>
<circle cx="1800.3" cy="1409.1" r="7.05" fill="#0868b8"/>
<circle cx="1800.5" cy="1390.1" r="6.6" fill="none" stroke="#ea8436" stroke-width="3.1"/>
<text x="1821.8" y="1387.2" text-anchor="start" font-size="22.9" font-weight="bold" fill="#f5841a">145</text>
<text x="1829.4" y="1410.4" text-anchor="start" font-size="22.9" font-weight="bold" fill="#0a62b8">141.67</text>
<clipPath id="fc_ru"><circle cx="1290" cy="1785.3" r="15"/></clipPath>
<g clip-path="url(#fc_ru)">
<rect x="1275" y="1770.3" width="30" height="10.5" fill="#ececec"/>
<rect x="1275" y="1780.3" width="30" height="10.5" fill="#1c5cc8"/>
<rect x="1275" y="1790.3" width="30" height="10.5" fill="#f0142c"/>
</g>
<text x="1320.4" y="1792.7" font-size="22.95" fill="#000">Russia</text>
<!-- Brazil -->
<clipPath id="pc8"><rect x="1938" y="1244" width="937" height="535"/></clipPath>
<g clip-path="url(#pc8)">
<rect x="1938" y="1244" width="937" height="535" fill="url(#pbg)"/>
<g>
<rect x="1903.1" y="1465.1" width="131.7" height="131.7" rx="5.3" fill="#a6c0de" fill-opacity="0.30" transform="rotate(45 1969 1531)"/>
<text x="1969" y="1566.7" text-anchor="middle" font-size="99.7" font-weight="bold" fill="#f1f1f1" fill-opacity="0.88" stroke="#f1f1f1" stroke-opacity="0.88" stroke-width="8.2" stroke-linejoin="round">3</text>
<rect x="2042.9" y="1438.5" width="65.2" height="65.2" rx="2.6" fill="#a6c0de" fill-opacity="0.30" transform="rotate(45 2075.5 1471)"/>
<text x="2075.5" y="1488.7" text-anchor="middle" font-size="49.3" font-weight="bold" fill="#f1f1f1" fill-opacity="0.88" stroke="#f1f1f1" stroke-opacity="0.88" stroke-width="4.1" stroke-linejoin="round">3</text>
<rect x="2087.4" y="1504.7" width="98.1" height="98.1" rx="3.9" fill="#a6c0de" fill-opacity="0.30" transform="rotate(45 2136.5 1553.8)"/>
<text x="2136.5" y="1580.4" text-anchor="middle" font-size="74.2" font-weight="bold" fill="#f1f1f1" fill-opacity="0.88" stroke="#f1f1f1" stroke-opacity="0.88" stroke-width="6.1" stroke-linejoin="round">3</text>
<rect x="2267.3" y="1465.1" width="131.7" height="131.7" rx="5.3" fill="#a6c0de" fill-opacity="0.30" transform="rotate(45 2333.2 1531)"/>
<text x="2333.2" y="1566.7" text-anchor="middle" font-size="99.7" font-weight="bold" fill="#f1f1f1" fill-opacity="0.88" stroke="#f1f1f1" stroke-opacity="0.88" stroke-width="8.2" stroke-linejoin="round">3</text>
<rect x="2407.1" y="1438.5" width="65.2" height="65.2" rx="2.6" fill="#a6c0de" fill-opacity="0.30" transform="rotate(45 2439.7 1471)"/>
<text x="2439.7" y="1488.7" text-anchor="middle" font-size="49.3" font-weight="bold" fill="#f1f1f1" fill-opacity="0.88" stroke="#f1f1f1" stroke-opacity="0.88" stroke-width="4.1" stroke-linejoin="round">3</text>
<rect x="2451.6" y="1504.7" width="98.1" height="98.1" rx="3.9" fill="#a6c0de" fill-opacity="0.30" transform="rotate(45 2500.7 1553.8)"/>
<text x="2500.7" y="1580.4" text-anchor="middle" font-size="74.2" font-weight="bold" fill="#f1f1f1" fill-opacity="0.88" stroke="#f1f1f1" stroke-opacity="0.88" stroke-width="6.1" stroke-linejoin="round">3</text>
<rect x="2631.5" y="1465.1" width="131.7" height="131.7" rx="5.3" fill="#a6c0de" fill-opacity="0.30" transform="rotate(45 2697.4 1531)"/>
<text x="2697.4" y="1566.7" text-anchor="middle" font-size="99.7" font-weight="bold" fill="#f1f1f1" fill-opacity="0.88" stroke="#f1f1f1" stroke-opacity="0.88" stroke-width="8.2" stroke-linejoin="round">3</text>
<rect x="2771.3" y="1438.5" width="65.2" height="65.2" rx="2.6" fill="#a6c0de" fill-opacity="0.30" transform="rotate(45 2803.9 1471)"/>
<text x="2803.9" y="1488.7" text-anchor="middle" font-size="49.3" font-weight="bold" fill="#f1f1f1" fill-opacity="0.88" stroke="#f1f1f1" stroke-opacity="0.88" stroke-width="4.1" stroke-linejoin="round">3</text>
<rect x="2815.8" y="1504.7" width="98.1" height="98.1" rx="3.9" fill="#a6c0de" fill-opacity="0.30" transform="rotate(45 2864.9 1553.8)"/>
<text x="2864.9" y="1580.4" text-anchor="middle" font-size="74.2" font-weight="bold" fill="#f1f1f1" fill-opacity="0.88" stroke="#f1f1f1" stroke-opacity="0.88" stroke-width="6.1" stroke-linejoin="round">3</text>
</g>
<g fill="none"><path d="M1975.4 1276.7H2867" stroke="#ffffff" stroke-opacity="0.27" stroke-width="1.6"/><path d="M1975.4 1346.3H2867" stroke="#ffffff" stroke-opacity="0.27" stroke-width="1.6"/><path d="M1975.4 1415.9H2867" stroke="#ffffff" stroke-opacity="0.27" stroke-width="1.6"/><path d="M1975.4 1485.5H2867" stroke="#ffffff" stroke-opacity="0.27" stroke-width="1.6"/><path d="M1975.4 1555.1H2867" stroke="#ffffff" stroke-opacity="0.27" stroke-width="1.6"/><path d="M1975.4 1624.7H2867" stroke="#ffffff" stroke-opacity="0.27" stroke-width="1.6"/><path d="M1975.4 1694.3H2867" stroke="#ffffff" stroke-opacity="0.27" stroke-width="1.6"/><path d="M1975.2 1253.5V1742.7" stroke="#ffffff" stroke-opacity="0.27" stroke-width="1.6"/><path d="M2056.2 1253.5V1742.7" stroke="#ffffff" stroke-opacity="0.27" stroke-width="1.6"/><path d="M2137.3 1253.5V1742.7" stroke="#ffffff" stroke-opacity="0.27" stroke-width="1.6"/><path d="M2218.3 1253.5V1742.7" stroke="#ffffff" stroke-opacity="0.27" stroke-width="1.6"/><path d="M2299.4 1253.5V1742.7" stroke="#ffffff" stroke-opacity="0.27" stroke-width="1.6"/><path d="M2380.5 1253.5V1742.7" stroke="#ffffff" stroke-opacity="0.27" stroke-width="1.6"/><path d="M2461.5 1253.5V1742.7" stroke="#ffffff" stroke-opacity="0.27" stroke-width="1.6"/><path d="M2542.6 1253.5V1742.7" stroke="#ffffff" stroke-opacity="0.27" stroke-width="1.6"/><path d="M2623.7 1253.5V1742.7" stroke="#ffffff" stroke-opacity="0.27" stroke-width="1.6"/><path d="M2704.7 1253.5V1742.7" stroke="#ffffff" stroke-opacity="0.27" stroke-width="1.6"/><path d="M2785.8 1253.5V1742.7" stroke="#ffffff" stroke-opacity="0.27" stroke-width="1.6"/><path d="M2866.8 1253.5V1742.7" stroke="#ffffff" stroke-opacity="0.27" stroke-width="1.6"/><path d="M1975.4 1309.9H2867" stroke="#ffffff" stroke-opacity="0.12" stroke-width="2"/><path d="M1975.4 1311.5H2867" stroke="#000000" stroke-opacity="0.08" stroke-width="1.8"/><path d="M1975.4 1379.5H2867" stroke="#ffffff" stroke-opacity="0.12" stroke-width="2"/><path d="M1975.4 1381.1H2867" stroke="#000000" stroke-opacity="0.08" stroke-width="1.8"/><path d="M1975.4 1449.1H2867" stroke="#ffffff" stroke-opacity="0.12" stroke-width="2"/><path d="M1975.4 1450.7H2867" stroke="#000000" stroke-opacity="0.08" stroke-width="1.8"/><path d="M1975.4 1518.7H2867" stroke="#ffffff" stroke-opacity="0.12" stroke-width="2"/><path d="M1975.4 1520.3H2867" stroke="#000000" stroke-opacity="0.08" stroke-width="1.8"/><path d="M1975.4 1588.3H2867" stroke="#ffffff" stroke-opacity="0.12" stroke-width="2"/><path d="M1975.4 1589.9H2867" stroke="#000000" stroke-opacity="0.08" stroke-width="1.8"/><path d="M1975.4 1657.9H2867" stroke="#ffffff" stroke-opacity="0.12" stroke-width="2"/><path d="M1975.4 1659.5H2867" stroke="#000000" stroke-opacity="0.08" stroke-width="1.8"/><path d="M1975.4 1727.5H2867" stroke="#ffffff" stroke-opacity="0.12" stroke-width="2"/><path d="M1975.4 1729.1H2867" stroke="#000000" stroke-opacity="0.08" stroke-width="1.8"/><path d="M2017.3 1253.5V1742.7" stroke="#ffffff" stroke-opacity="0.12" stroke-width="2"/><path d="M2015.7 1253.5V1742.7" stroke="#000000" stroke-opacity="0.08" stroke-width="1.8"/><path d="M2098.4 1253.5V1742.7" stroke="#ffffff" stroke-opacity="0.12" stroke-width="2"/><path d="M2096.8 1253.5V1742.7" stroke="#000000" stroke-opacity="0.08" stroke-width="1.8"/><path d="M2179.4 1253.5V1742.7" stroke="#ffffff" stroke-opacity="0.12" stroke-width="2"/><path d="M2177.8 1253.5V1742.7" stroke="#000000" stroke-opacity="0.08" stroke-width="1.8"/><path d="M2260.5 1253.5V1742.7" stroke="#ffffff" stroke-opacity="0.12" stroke-width="2"/><path d="M2258.9 1253.5V1742.7" stroke="#000000" stroke-opacity="0.08" stroke-width="1.8"/><path d="M2341.5 1253.5V1742.7" stroke="#ffffff" stroke-opacity="0.12" stroke-width="2"/><path d="M2339.9 1253.5V1742.7" stroke="#000000" stroke-opacity="0.08" stroke-width="1.8"/><path d="M2422.6 1253.5V1742.7" stroke="#ffffff" stroke-opacity="0.12" stroke-width="2"/><path d="M2421 1253.5V1742.7" stroke="#000000" stroke-opacity="0.08" stroke-width="1.8"/><path d="M2503.7 1253.5V1742.7" stroke="#ffffff" stroke-opacity="0.12" stroke-width="2"/><path d="M2502.1 1253.5V1742.7" stroke="#000000" stroke-opacity="0.08" stroke-width="1.8"/><path d="M2584.7 1253.5V1742.7" stroke="#ffffff" stroke-opacity="0.12" stroke-width="2"/><path d="M2583.1 1253.5V1742.7" stroke="#000000" stroke-opacity="0.08" stroke-width="1.8"/><path d="M2665.8 1253.5V1742.7" stroke="#ffffff" stroke-opacity="0.12" stroke-width="2"/><path d="M2664.2 1253.5V1742.7" stroke="#000000" stroke-opacity="0.08" stroke-width="1.8"/><path d="M2746.8 1253.5V1742.7" stroke="#ffffff" stroke-opacity="0.12" stroke-width="2"/><path d="M2745.2 1253.5V1742.7" stroke="#000000" stroke-opacity="0.08" stroke-width="1.8"/><path d="M2827.9 1253.5V1742.7" stroke="#ffffff" stroke-opacity="0.12" stroke-width="2"/><path d="M2826.3 1253.5V1742.7" stroke="#000000" stroke-opacity="0.08" stroke-width="1.8"/></g>
<polygon points="2015.7,1659.1 2096.8,1649.1 2177.8,1678.9 2258.9,1583.1 2339.9,1380.8 2421,1411.2 2502.1,1455.2 2583.1,1455.2 2664.2,1332.6 2745.2,1330.5 2826.3,1334.7 2826.3,1428.8 2745.2,1381.4 2664.2,1507.4 2583.1,1524.3 2502.1,1558.1 2421,1492.1 2339.9,1618.7 2258.9,1671.5 2177.8,1730.3 2096.8,1694.4 2015.7,1716.3" fill="rgba(74,106,172,0.385)"/>
<polyline points="2015.7,1687.3 2096.8,1671.5 2177.8,1705 2258.9,1628 2339.9,1498.2 2421,1450.7 2502.1,1506.6 2583.1,1490 2664.2,1422.8 2745.2,1356.8 2826.3,1381.9" fill="none" stroke="#2c5cb8" stroke-width="1.9" stroke-linejoin="round"/>
</g>
<g font-size="12.1" fill="#4a4a4a"><text x="2015.7" y="1760.6" text-anchor="middle">2016</text><text x="2096.8" y="1760.6" text-anchor="middle">2017</text><text x="2177.8" y="1760.6" text-anchor="middle">2018</text><text x="2258.9" y="1760.6" text-anchor="middle">2019</text><text x="2339.9" y="1760.6" text-anchor="middle">2020</text><text x="2421" y="1760.6" text-anchor="middle">2021</text><text x="2502.1" y="1760.6" text-anchor="middle">2022</text><text x="2583.1" y="1760.6" text-anchor="middle">2023</text><text x="2664.2" y="1760.6" text-anchor="middle">2024</text><text x="2745.2" y="1760.6" text-anchor="middle">2025</text><text x="2826.3" y="1760.6" text-anchor="middle">2026</text><text x="1963.7" y="1315.8" text-anchor="end">9</text><text x="1963.7" y="1385.4" text-anchor="end">8</text><text x="1963.7" y="1455" text-anchor="end">7</text><text x="1963.7" y="1524.6" text-anchor="end">6</text><text x="1963.7" y="1594.2" text-anchor="end">5</text><text x="1963.7" y="1663.8" text-anchor="end">4</text><text x="1963.7" y="1733.4" text-anchor="end">3</text></g>
<circle cx="2745.2" cy="1372.7" r="6.6" fill="none" stroke="#ea8436" stroke-width="3.1"/>
<circle cx="2745" cy="1356.8" r="7.05" fill="#0868b8"/>
<text x="2732.2" y="1415.7" text-anchor="start" font-size="22.9" font-weight="bold" fill="#f5841a">8.09</text>
<text x="2721.6" y="1322" text-anchor="start" font-size="22.9" font-weight="bold" fill="#0a62b8">8.36</text>
<clipPath id="fc_br"><circle cx="2255.1" cy="1785.8" r="15"/></clipPath>
<g clip-path="url(#fc_br)">
<rect x="2240.1" y="1770.8" width="30" height="30" fill="#48a038"/>
<polygon points="2242.8,1785.8 2255.1,1777.2 2267.4,1785.8 2255.1,1794.4" fill="#f8d838"/>
<circle cx="2255.1" cy="1785.8" r="5.2" fill="#1a4fa2"/>
<path d="M2250.1 1784.6 Q2255.1 1783.2 2260.1 1787.4" stroke="#ffffff" stroke-width="1.5" fill="none"/>
</g>
<text x="2285" y="1792.7" font-size="22.95" fill="#000">Brazil</text>
<!-- Mexico -->
<clipPath id="pc9"><rect x="0" y="1849" width="945.5" height="537.5"/></clipPath>
<g clip-path="url(#pc9)">
<rect x="0" y="1849" width="945.5" height="537.5" fill="url(#pbg)"/>
<g>
<rect x="-34.5" y="2072.3" width="132.9" height="132.9" rx="5.3" fill="#a6c0de" fill-opacity="0.30" transform="rotate(45 32 2138.8)"/>
<text x="32" y="2174.8" text-anchor="middle" font-size="100.6" font-weight="bold" fill="#f1f1f1" fill-opacity="0.88" stroke="#f1f1f1" stroke-opacity="0.88" stroke-width="8.3" stroke-linejoin="round">3</text>
<rect x="106.6" y="2045.4" width="65.8" height="65.8" rx="2.6" fill="#a6c0de" fill-opacity="0.30" transform="rotate(45 139.5 2078.3)"/>
<text x="139.5" y="2096.1" text-anchor="middle" font-size="49.8" font-weight="bold" fill="#f1f1f1" fill-opacity="0.88" stroke="#f1f1f1" stroke-opacity="0.88" stroke-width="4.1" stroke-linejoin="round">3</text>
<rect x="151.5" y="2112.3" width="99" height="99" rx="4" fill="#a6c0de" fill-opacity="0.30" transform="rotate(45 201 2161.8)"/>
<text x="201" y="2188.6" text-anchor="middle" font-size="74.9" font-weight="bold" fill="#f1f1f1" fill-opacity="0.88" stroke="#f1f1f1" stroke-opacity="0.88" stroke-width="6.2" stroke-linejoin="round">3</text>
<rect x="333" y="2072.3" width="132.9" height="132.9" rx="5.3" fill="#a6c0de" fill-opacity="0.30" transform="rotate(45 399.5 2138.8)"/>
<text x="399.5" y="2174.8" text-anchor="middle" font-size="100.6" font-weight="bold" fill="#f1f1f1" fill-opacity="0.88" stroke="#f1f1f1" stroke-opacity="0.88" stroke-width="8.3" stroke-linejoin="round">3</text>
<rect x="474.1" y="2045.4" width="65.8" height="65.8" rx="2.6" fill="#a6c0de" fill-opacity="0.30" transform="rotate(45 507 2078.3)"/>
<text x="507" y="2096.1" text-anchor="middle" font-size="49.8" font-weight="bold" fill="#f1f1f1" fill-opacity="0.88" stroke="#f1f1f1" stroke-opacity="0.88" stroke-width="4.1" stroke-linejoin="round">3</text>
<rect x="519" y="2112.3" width="99" height="99" rx="4" fill="#a6c0de" fill-opacity="0.30" transform="rotate(45 568.5 2161.8)"/>
<text x="568.5" y="2188.6" text-anchor="middle" font-size="74.9" font-weight="bold" fill="#f1f1f1" fill-opacity="0.88" stroke="#f1f1f1" stroke-opacity="0.88" stroke-width="6.2" stroke-linejoin="round">3</text>
<rect x="700.5" y="2072.3" width="132.9" height="132.9" rx="5.3" fill="#a6c0de" fill-opacity="0.30" transform="rotate(45 767 2138.8)"/>
<text x="767" y="2174.8" text-anchor="middle" font-size="100.6" font-weight="bold" fill="#f1f1f1" fill-opacity="0.88" stroke="#f1f1f1" stroke-opacity="0.88" stroke-width="8.3" stroke-linejoin="round">3</text>
<rect x="841.6" y="2045.4" width="65.8" height="65.8" rx="2.6" fill="#a6c0de" fill-opacity="0.30" transform="rotate(45 874.5 2078.3)"/>
<text x="874.5" y="2096.1" text-anchor="middle" font-size="49.8" font-weight="bold" fill="#f1f1f1" fill-opacity="0.88" stroke="#f1f1f1" stroke-opacity="0.88" stroke-width="4.1" stroke-linejoin="round">3</text>
<rect x="886.5" y="2112.3" width="99" height="99" rx="4" fill="#a6c0de" fill-opacity="0.30" transform="rotate(45 936 2161.8)"/>
<text x="936" y="2188.6" text-anchor="middle" font-size="74.9" font-weight="bold" fill="#f1f1f1" fill-opacity="0.88" stroke="#f1f1f1" stroke-opacity="0.88" stroke-width="6.2" stroke-linejoin="round">3</text>
</g>
<g fill="none"><path d="M38.2 1893H935.8" stroke="#ffffff" stroke-opacity="0.27" stroke-width="1.6"/><path d="M38.2 1933.5H935.8" stroke="#ffffff" stroke-opacity="0.27" stroke-width="1.6"/><path d="M38.2 1974.1H935.8" stroke="#ffffff" stroke-opacity="0.27" stroke-width="1.6"/><path d="M38.2 2014.6H935.8" stroke="#ffffff" stroke-opacity="0.27" stroke-width="1.6"/><path d="M38.2 2055.1H935.8" stroke="#ffffff" stroke-opacity="0.27" stroke-width="1.6"/><path d="M38.2 2095.7H935.8" stroke="#ffffff" stroke-opacity="0.27" stroke-width="1.6"/><path d="M38.2 2136.2H935.8" stroke="#ffffff" stroke-opacity="0.27" stroke-width="1.6"/><path d="M38.2 2176.8H935.8" stroke="#ffffff" stroke-opacity="0.27" stroke-width="1.6"/><path d="M38.2 2217.3H935.8" stroke="#ffffff" stroke-opacity="0.27" stroke-width="1.6"/><path d="M38.2 2257.8H935.8" stroke="#ffffff" stroke-opacity="0.27" stroke-width="1.6"/><path d="M38.2 2298.4H935.8" stroke="#ffffff" stroke-opacity="0.27" stroke-width="1.6"/><path d="M38.2 2338.9H935.8" stroke="#ffffff" stroke-opacity="0.27" stroke-width="1.6"/><path d="M37.7 1858.5V2353" stroke="#ffffff" stroke-opacity="0.27" stroke-width="1.6"/><path d="M187.6 1858.5V2353" stroke="#ffffff" stroke-opacity="0.27" stroke-width="1.6"/><path d="M337.4 1858.5V2353" stroke="#ffffff" stroke-opacity="0.27" stroke-width="1.6"/><path d="M487.2 1858.5V2353" stroke="#ffffff" stroke-opacity="0.27" stroke-width="1.6"/><path d="M637.1 1858.5V2353" stroke="#ffffff" stroke-opacity="0.27" stroke-width="1.6"/><path d="M787 1858.5V2353" stroke="#ffffff" stroke-opacity="0.27" stroke-width="1.6"/><path d="M936.8 1858.5V2353" stroke="#ffffff" stroke-opacity="0.27" stroke-width="1.6"/><path d="M38.2 1871.1H935.8" stroke="#ffffff" stroke-opacity="0.12" stroke-width="2"/><path d="M38.2 1872.7H935.8" stroke="#000000" stroke-opacity="0.08" stroke-width="1.8"/><path d="M38.2 1911.6H935.8" stroke="#ffffff" stroke-opacity="0.12" stroke-width="2"/><path d="M38.2 1913.2H935.8" stroke="#000000" stroke-opacity="0.08" stroke-width="1.8"/><path d="M38.2 1952.2H935.8" stroke="#ffffff" stroke-opacity="0.12" stroke-width="2"/><path d="M38.2 1953.8H935.8" stroke="#000000" stroke-opacity="0.08" stroke-width="1.8"/><path d="M38.2 1992.7H935.8" stroke="#ffffff" stroke-opacity="0.12" stroke-width="2"/><path d="M38.2 1994.3H935.8" stroke="#000000" stroke-opacity="0.08" stroke-width="1.8"/><path d="M38.2 2033.3H935.8" stroke="#ffffff" stroke-opacity="0.12" stroke-width="2"/><path d="M38.2 2034.9H935.8" stroke="#000000" stroke-opacity="0.08" stroke-width="1.8"/><path d="M38.2 2073.8H935.8" stroke="#ffffff" stroke-opacity="0.12" stroke-width="2"/><path d="M38.2 2075.4H935.8" stroke="#000000" stroke-opacity="0.08" stroke-width="1.8"/><path d="M38.2 2114.3H935.8" stroke="#ffffff" stroke-opacity="0.12" stroke-width="2"/><path d="M38.2 2115.9H935.8" stroke="#000000" stroke-opacity="0.08" stroke-width="1.8"/><path d="M38.2 2154.9H935.8" stroke="#ffffff" stroke-opacity="0.12" stroke-width="2"/><path d="M38.2 2156.5H935.8" stroke="#000000" stroke-opacity="0.08" stroke-width="1.8"/><path d="M38.2 2195.4H935.8" stroke="#ffffff" stroke-opacity="0.12" stroke-width="2"/><path d="M38.2 2197H935.8" stroke="#000000" stroke-opacity="0.08" stroke-width="1.8"/><path d="M38.2 2236H935.8" stroke="#ffffff" stroke-opacity="0.12" stroke-width="2"/><path d="M38.2 2237.6H935.8" stroke="#000000" stroke-opacity="0.08" stroke-width="1.8"/><path d="M38.2 2276.5H935.8" stroke="#ffffff" stroke-opacity="0.12" stroke-width="2"/><path d="M38.2 2278.1H935.8" stroke="#000000" stroke-opacity="0.08" stroke-width="1.8"/><path d="M38.2 2317H935.8" stroke="#ffffff" stroke-opacity="0.12" stroke-width="2"/><path d="M38.2 2318.6H935.8" stroke="#000000" stroke-opacity="0.08" stroke-width="1.8"/><path d="M114.2 1858.5V2353" stroke="#ffffff" stroke-opacity="0.12" stroke-width="2"/><path d="M112.6 1858.5V2353" stroke="#000000" stroke-opacity="0.08" stroke-width="1.8"/><path d="M264.1 1858.5V2353" stroke="#ffffff" stroke-opacity="0.12" stroke-width="2"/><path d="M262.4 1858.5V2353" stroke="#000000" stroke-opacity="0.08" stroke-width="1.8"/><path d="M413.9 1858.5V2353" stroke="#ffffff" stroke-opacity="0.12" stroke-width="2"/><path d="M412.3 1858.5V2353" stroke="#000000" stroke-opacity="0.08" stroke-width="1.8"/><path d="M563.8 1858.5V2353" stroke="#ffffff" stroke-opacity="0.12" stroke-width="2"/><path d="M562.1 1858.5V2353" stroke="#000000" stroke-opacity="0.08" stroke-width="1.8"/><path d="M713.6 1858.5V2353" stroke="#ffffff" stroke-opacity="0.12" stroke-width="2"/><path d="M712 1858.5V2353" stroke="#000000" stroke-opacity="0.08" stroke-width="1.8"/><path d="M863.5 1858.5V2353" stroke="#ffffff" stroke-opacity="0.12" stroke-width="2"/><path d="M861.9 1858.5V2353" stroke="#000000" stroke-opacity="0.08" stroke-width="1.8"/></g>
<polygon points="112.6,2091.1 262.4,1998.8 412.3,2127.5 562.1,1960.8 712,1933.6 861.9,1992.2 861.9,2019.3 712,2055.7 562.1,2188.1 412.3,2286.5 262.4,2182.9 112.6,2258.8" fill="rgba(74,106,172,0.385)"/>
<polyline points="112.6,2174.9 262.4,2090.5 412.3,2207.4 562.1,2074.7 712,1994.3 861.9,2005.4" fill="none" stroke="#2c5cb8" stroke-width="1.9" stroke-linejoin="round"/>
</g>
<g font-size="12.1" fill="#4a4a4a"><text x="112.6" y="2370.3" text-anchor="middle">2021</text><text x="262.4" y="2370.3" text-anchor="middle">2022</text><text x="412.3" y="2370.3" text-anchor="middle">2023</text><text x="562.1" y="2370.3" text-anchor="middle">2024</text><text x="712" y="2370.3" text-anchor="middle">2025</text><text x="861.9" y="2370.3" text-anchor="middle">2026</text><text x="26" y="1877" text-anchor="end">52</text><text x="26" y="1917.5" text-anchor="end">50</text><text x="26" y="1958.1" text-anchor="end">48</text><text x="26" y="1998.6" text-anchor="end">46</text><text x="26" y="2039.2" text-anchor="end">44</text><text x="26" y="2079.7" text-anchor="end">42</text><text x="26" y="2120.2" text-anchor="end">40</text><text x="26" y="2160.8" text-anchor="end">38</text><text x="26" y="2201.3" text-anchor="end">36</text><text x="26" y="2241.9" text-anchor="end">34</text><text x="26" y="2282.4" text-anchor="end">32</text><text x="26" y="2322.9" text-anchor="end">30</text></g>
<circle cx="711.6" cy="1996.1" r="7.05" fill="#0868b8"/>
<circle cx="711.6" cy="1982.9" r="6.6" fill="none" stroke="#ea8436" stroke-width="3.1"/>
<text x="682.2" y="1960" text-anchor="start" font-size="22.9" font-weight="bold" fill="#f5841a">46.25</text>
<text x="694.8" y="2025.4" text-anchor="start" font-size="22.9" font-weight="bold" fill="#0a62b8">45.97</text>
<clipPath id="fc_mx"><circle cx="258" cy="2396.5" r="14.2"/></clipPath>
<g clip-path="url(#fc_mx)">
<rect x="243.8" y="2382.3" width="10" height="28.4" fill="#17694c"/>
<rect x="253.3" y="2382.3" width="10" height="28.4" fill="#ffffff"/>
<rect x="262.7" y="2382.3" width="10" height="28.4" fill="#d2203c"/>
<circle cx="258" cy="2397" r="3" fill="#a98458"/>
</g>
<text x="290.1" y="2402.7" font-size="22.95" fill="#000">Mexico</text>
<!-- Colombia -->
<clipPath id="pc10"><rect x="969.7" y="1849" width="940" height="537"/></clipPath>
<g clip-path="url(#pc10)">
<rect x="969.7" y="1849" width="940" height="537" fill="url(#pbg)"/>
<g>
<rect x="937.4" y="2071.5" width="132.2" height="132.2" rx="5.3" fill="#a6c0de" fill-opacity="0.30" transform="rotate(45 1003.5 2137.6)"/>
<text x="1003.5" y="2173.4" text-anchor="middle" font-size="100" font-weight="bold" fill="#f1f1f1" fill-opacity="0.88" stroke="#f1f1f1" stroke-opacity="0.88" stroke-width="8.2" stroke-linejoin="round">3</text>
<rect x="1077.7" y="2044.8" width="65.4" height="65.4" rx="2.6" fill="#a6c0de" fill-opacity="0.30" transform="rotate(45 1110.4 2077.5)"/>
<text x="1110.4" y="2095.2" text-anchor="middle" font-size="49.5" font-weight="bold" fill="#f1f1f1" fill-opacity="0.88" stroke="#f1f1f1" stroke-opacity="0.88" stroke-width="4.1" stroke-linejoin="round">3</text>
<rect x="1122.3" y="2111.3" width="98.4" height="98.4" rx="3.9" fill="#a6c0de" fill-opacity="0.30" transform="rotate(45 1171.5 2160.5)"/>
<text x="1171.5" y="2187.1" text-anchor="middle" font-size="74.5" font-weight="bold" fill="#f1f1f1" fill-opacity="0.88" stroke="#f1f1f1" stroke-opacity="0.88" stroke-width="6.1" stroke-linejoin="round">3</text>
<rect x="1302.8" y="2071.5" width="132.2" height="132.2" rx="5.3" fill="#a6c0de" fill-opacity="0.30" transform="rotate(45 1368.9 2137.6)"/>
<text x="1368.9" y="2173.4" text-anchor="middle" font-size="100" font-weight="bold" fill="#f1f1f1" fill-opacity="0.88" stroke="#f1f1f1" stroke-opacity="0.88" stroke-width="8.2" stroke-linejoin="round">3</text>
<rect x="1443" y="2044.8" width="65.4" height="65.4" rx="2.6" fill="#a6c0de" fill-opacity="0.30" transform="rotate(45 1475.7 2077.5)"/>
<text x="1475.7" y="2095.2" text-anchor="middle" font-size="49.5" font-weight="bold" fill="#f1f1f1" fill-opacity="0.88" stroke="#f1f1f1" stroke-opacity="0.88" stroke-width="4.1" stroke-linejoin="round">3</text>
<rect x="1487.7" y="2111.3" width="98.4" height="98.4" rx="3.9" fill="#a6c0de" fill-opacity="0.30" transform="rotate(45 1536.9 2160.5)"/>
<text x="1536.9" y="2187.1" text-anchor="middle" font-size="74.5" font-weight="bold" fill="#f1f1f1" fill-opacity="0.88" stroke="#f1f1f1" stroke-opacity="0.88" stroke-width="6.1" stroke-linejoin="round">3</text>
<rect x="1668.1" y="2071.5" width="132.2" height="132.2" rx="5.3" fill="#a6c0de" fill-opacity="0.30" transform="rotate(45 1734.2 2137.6)"/>
<text x="1734.2" y="2173.4" text-anchor="middle" font-size="100" font-weight="bold" fill="#f1f1f1" fill-opacity="0.88" stroke="#f1f1f1" stroke-opacity="0.88" stroke-width="8.2" stroke-linejoin="round">3</text>
<rect x="1808.4" y="2044.8" width="65.4" height="65.4" rx="2.6" fill="#a6c0de" fill-opacity="0.30" transform="rotate(45 1841.1 2077.5)"/>
<text x="1841.1" y="2095.2" text-anchor="middle" font-size="49.5" font-weight="bold" fill="#f1f1f1" fill-opacity="0.88" stroke="#f1f1f1" stroke-opacity="0.88" stroke-width="4.1" stroke-linejoin="round">3</text>
<rect x="1853" y="2111.3" width="98.4" height="98.4" rx="3.9" fill="#a6c0de" fill-opacity="0.30" transform="rotate(45 1902.2 2160.5)"/>
<text x="1902.2" y="2187.1" text-anchor="middle" font-size="74.5" font-weight="bold" fill="#f1f1f1" fill-opacity="0.88" stroke="#f1f1f1" stroke-opacity="0.88" stroke-width="6.1" stroke-linejoin="round">3</text>
</g>
<g fill="none"><path d="M1007.2 1903H1904.4" stroke="#ffffff" stroke-opacity="0.27" stroke-width="1.6"/><path d="M1007.2 1971.1H1904.4" stroke="#ffffff" stroke-opacity="0.27" stroke-width="1.6"/><path d="M1007.2 2039.2H1904.4" stroke="#ffffff" stroke-opacity="0.27" stroke-width="1.6"/><path d="M1007.2 2107.3H1904.4" stroke="#ffffff" stroke-opacity="0.27" stroke-width="1.6"/><path d="M1007.2 2175.4H1904.4" stroke="#ffffff" stroke-opacity="0.27" stroke-width="1.6"/><path d="M1007.2 2243.4H1904.4" stroke="#ffffff" stroke-opacity="0.27" stroke-width="1.6"/><path d="M1007.2 2311.5H1904.4" stroke="#ffffff" stroke-opacity="0.27" stroke-width="1.6"/><path d="M1046.6 1858.5V2351.7" stroke="#ffffff" stroke-opacity="0.27" stroke-width="1.6"/><path d="M1195.6 1858.5V2351.7" stroke="#ffffff" stroke-opacity="0.27" stroke-width="1.6"/><path d="M1344.7 1858.5V2351.7" stroke="#ffffff" stroke-opacity="0.27" stroke-width="1.6"/><path d="M1493.8 1858.5V2351.7" stroke="#ffffff" stroke-opacity="0.27" stroke-width="1.6"/><path d="M1642.9 1858.5V2351.7" stroke="#ffffff" stroke-opacity="0.27" stroke-width="1.6"/><path d="M1792 1858.5V2351.7" stroke="#ffffff" stroke-opacity="0.27" stroke-width="1.6"/><path d="M1007.2 1867.4H1904.4" stroke="#ffffff" stroke-opacity="0.12" stroke-width="2"/><path d="M1007.2 1869H1904.4" stroke="#000000" stroke-opacity="0.08" stroke-width="1.8"/><path d="M1007.2 1935.5H1904.4" stroke="#ffffff" stroke-opacity="0.12" stroke-width="2"/><path d="M1007.2 1937.1H1904.4" stroke="#000000" stroke-opacity="0.08" stroke-width="1.8"/><path d="M1007.2 2003.6H1904.4" stroke="#ffffff" stroke-opacity="0.12" stroke-width="2"/><path d="M1007.2 2005.2H1904.4" stroke="#000000" stroke-opacity="0.08" stroke-width="1.8"/><path d="M1007.2 2071.6H1904.4" stroke="#ffffff" stroke-opacity="0.12" stroke-width="2"/><path d="M1007.2 2073.2H1904.4" stroke="#000000" stroke-opacity="0.08" stroke-width="1.8"/><path d="M1007.2 2139.7H1904.4" stroke="#ffffff" stroke-opacity="0.12" stroke-width="2"/><path d="M1007.2 2141.3H1904.4" stroke="#000000" stroke-opacity="0.08" stroke-width="1.8"/><path d="M1007.2 2207.8H1904.4" stroke="#ffffff" stroke-opacity="0.12" stroke-width="2"/><path d="M1007.2 2209.4H1904.4" stroke="#000000" stroke-opacity="0.08" stroke-width="1.8"/><path d="M1007.2 2275.9H1904.4" stroke="#ffffff" stroke-opacity="0.12" stroke-width="2"/><path d="M1007.2 2277.5H1904.4" stroke="#000000" stroke-opacity="0.08" stroke-width="1.8"/><path d="M1007.2 2344H1904.4" stroke="#ffffff" stroke-opacity="0.12" stroke-width="2"/><path d="M1007.2 2345.6H1904.4" stroke="#000000" stroke-opacity="0.08" stroke-width="1.8"/><path d="M1122.7 1858.5V2351.7" stroke="#ffffff" stroke-opacity="0.12" stroke-width="2"/><path d="M1121.1 1858.5V2351.7" stroke="#000000" stroke-opacity="0.08" stroke-width="1.8"/><path d="M1271.8 1858.5V2351.7" stroke="#ffffff" stroke-opacity="0.12" stroke-width="2"/><path d="M1270.2 1858.5V2351.7" stroke="#000000" stroke-opacity="0.08" stroke-width="1.8"/><path d="M1420.9 1858.5V2351.7" stroke="#ffffff" stroke-opacity="0.12" stroke-width="2"/><path d="M1419.3 1858.5V2351.7" stroke="#000000" stroke-opacity="0.08" stroke-width="1.8"/><path d="M1569.9 1858.5V2351.7" stroke="#ffffff" stroke-opacity="0.12" stroke-width="2"/><path d="M1568.3 1858.5V2351.7" stroke="#000000" stroke-opacity="0.08" stroke-width="1.8"/><path d="M1719 1858.5V2351.7" stroke="#ffffff" stroke-opacity="0.12" stroke-width="2"/><path d="M1717.4 1858.5V2351.7" stroke="#000000" stroke-opacity="0.08" stroke-width="1.8"/><path d="M1868.1 1858.5V2351.7" stroke="#ffffff" stroke-opacity="0.12" stroke-width="2"/><path d="M1866.5 1858.5V2351.7" stroke="#000000" stroke-opacity="0.08" stroke-width="1.8"/></g>
<polygon points="1046.6,2285.2 1121.1,2252 1195.6,2233.8 1270.2,2259.3 1344.7,2250.6 1419.3,2182.9 1493.8,2053.1 1568.3,1963.2 1642.9,1931.8 1717.4,1934.9 1792,1904.6 1866.5,2054.2 1866.5,2057.6 1792,2065.5 1717.4,1986.4 1642.9,1987.2 1568.3,2095.8 1493.8,2148.6 1419.3,2302.9 1344.7,2281.8 1270.2,2312.1 1195.6,2279.6 1121.1,2325.3 1046.6,2342.9" fill="rgba(74,106,172,0.385)"/>
<polyline points="1046.6,2313.9 1121.1,2288.4 1195.6,2256.2 1270.2,2285.7 1344.7,2266.5 1419.3,2243 1493.8,2101.1 1568.3,2029.9 1642.9,1959.2 1717.4,1961.3 1792,1985.1 1866.5,2054.2" fill="none" stroke="#2c5cb8" stroke-width="1.9" stroke-linejoin="round"/>
</g>
<g font-size="12.1" fill="#4a4a4a"><text x="1121.1" y="2368.2" text-anchor="middle">2016</text><text x="1270.2" y="2368.2" text-anchor="middle">2018</text><text x="1419.3" y="2368.2" text-anchor="middle">2020</text><text x="1568.3" y="2368.2" text-anchor="middle">2022</text><text x="1717.4" y="2368.2" text-anchor="middle">2024</text><text x="1866.5" y="2368.2" text-anchor="middle">2026</text><text x="1006.9" y="1873.3" text-anchor="end">11.000</text><text x="1006.9" y="1941.4" text-anchor="end">10.0…</text><text x="1006.9" y="2009.5" text-anchor="end">9.000</text><text x="1006.9" y="2077.5" text-anchor="end">8.000</text><text x="1006.9" y="2145.6" text-anchor="end">7.000</text><text x="1006.9" y="2213.7" text-anchor="end">6.000</text><text x="1006.9" y="2281.8" text-anchor="end">5.000</text><text x="1006.9" y="2349.9" text-anchor="end">4.000</text></g>
<circle cx="1792.4" cy="1985.1" r="7.05" fill="#0868b8"/>
<circle cx="1792.4" cy="1905.1" r="6.6" fill="none" stroke="#ea8436" stroke-width="3.1"/>
<text x="1798" y="1888.3" text-anchor="start" font-size="22.9" font-weight="bold" fill="#f5841a">10 500</text>
<text x="1699.6" y="2012.7" text-anchor="start" font-size="22.9" font-weight="bold" fill="#0a62b8">9 297.08</text>
<clipPath id="fc_co"><circle cx="1287.8" cy="2401.9" r="15"/></clipPath>
<g clip-path="url(#fc_co)">
<rect x="1272.8" y="2386.9" width="30" height="15.5" fill="#fcd935"/>
<rect x="1272.8" y="2401.9" width="30" height="8" fill="#1a52c0"/>
<rect x="1272.8" y="2409.4" width="30" height="8" fill="#ea1030"/>
</g>
<text x="1320.1" y="2406.5" font-size="22.95" fill="#000">Colombia</text>
<!-- Argentina -->
<clipPath id="pc11"><rect x="1934" y="1848.7" width="941" height="536.3"/></clipPath>
<g clip-path="url(#pc11)">
<rect x="1934" y="1848.7" width="941" height="536.3" fill="url(#pbg)"/>
<g>
<rect x="1901" y="2070" width="132.3" height="132.3" rx="5.3" fill="#a6c0de" fill-opacity="0.30" transform="rotate(45 1967.2 2136.2)"/>
<text x="1967.2" y="2172" text-anchor="middle" font-size="100.1" font-weight="bold" fill="#f1f1f1" fill-opacity="0.88" stroke="#f1f1f1" stroke-opacity="0.88" stroke-width="8.2" stroke-linejoin="round">3</text>
<rect x="2041.5" y="2043.3" width="65.4" height="65.4" rx="2.6" fill="#a6c0de" fill-opacity="0.30" transform="rotate(45 2074.2 2076)"/>
<text x="2074.2" y="2093.7" text-anchor="middle" font-size="49.5" font-weight="bold" fill="#f1f1f1" fill-opacity="0.88" stroke="#f1f1f1" stroke-opacity="0.88" stroke-width="4.1" stroke-linejoin="round">3</text>
<rect x="2086.1" y="2109.8" width="98.5" height="98.5" rx="3.9" fill="#a6c0de" fill-opacity="0.30" transform="rotate(45 2135.4 2159.1)"/>
<text x="2135.4" y="2185.8" text-anchor="middle" font-size="74.5" font-weight="bold" fill="#f1f1f1" fill-opacity="0.88" stroke="#f1f1f1" stroke-opacity="0.88" stroke-width="6.1" stroke-linejoin="round">3</text>
<rect x="2266.8" y="2070" width="132.3" height="132.3" rx="5.3" fill="#a6c0de" fill-opacity="0.30" transform="rotate(45 2333 2136.2)"/>
<text x="2333" y="2172" text-anchor="middle" font-size="100.1" font-weight="bold" fill="#f1f1f1" fill-opacity="0.88" stroke="#f1f1f1" stroke-opacity="0.88" stroke-width="8.2" stroke-linejoin="round">3</text>
<rect x="2407.2" y="2043.3" width="65.4" height="65.4" rx="2.6" fill="#a6c0de" fill-opacity="0.30" transform="rotate(45 2439.9 2076)"/>
<text x="2439.9" y="2093.7" text-anchor="middle" font-size="49.5" font-weight="bold" fill="#f1f1f1" fill-opacity="0.88" stroke="#f1f1f1" stroke-opacity="0.88" stroke-width="4.1" stroke-linejoin="round">3</text>
<rect x="2451.9" y="2109.8" width="98.5" height="98.5" rx="3.9" fill="#a6c0de" fill-opacity="0.30" transform="rotate(45 2501.1 2159.1)"/>
<text x="2501.1" y="2185.8" text-anchor="middle" font-size="74.5" font-weight="bold" fill="#f1f1f1" fill-opacity="0.88" stroke="#f1f1f1" stroke-opacity="0.88" stroke-width="6.1" stroke-linejoin="round">3</text>
<rect x="2632.6" y="2070" width="132.3" height="132.3" rx="5.3" fill="#a6c0de" fill-opacity="0.30" transform="rotate(45 2698.7 2136.2)"/>
<text x="2698.7" y="2172" text-anchor="middle" font-size="100.1" font-weight="bold" fill="#f1f1f1" fill-opacity="0.88" stroke="#f1f1f1" stroke-opacity="0.88" stroke-width="8.2" stroke-linejoin="round">3</text>
<rect x="2773" y="2043.3" width="65.4" height="65.4" rx="2.6" fill="#a6c0de" fill-opacity="0.30" transform="rotate(45 2805.7 2076)"/>
<text x="2805.7" y="2093.7" text-anchor="middle" font-size="49.5" font-weight="bold" fill="#f1f1f1" fill-opacity="0.88" stroke="#f1f1f1" stroke-opacity="0.88" stroke-width="4.1" stroke-linejoin="round">3</text>
<rect x="2817.6" y="2109.8" width="98.5" height="98.5" rx="3.9" fill="#a6c0de" fill-opacity="0.30" transform="rotate(45 2866.9 2159.1)"/>
<text x="2866.9" y="2185.8" text-anchor="middle" font-size="74.5" font-weight="bold" fill="#f1f1f1" fill-opacity="0.88" stroke="#f1f1f1" stroke-opacity="0.88" stroke-width="6.1" stroke-linejoin="round">3</text>
</g>
<g fill="none"><path d="M1973.5 1873.6H2867" stroke="#ffffff" stroke-opacity="0.27" stroke-width="1.6"/><path d="M1973.5 1919.2H2867" stroke="#ffffff" stroke-opacity="0.27" stroke-width="1.6"/><path d="M1973.5 1964.8H2867" stroke="#ffffff" stroke-opacity="0.27" stroke-width="1.6"/><path d="M1973.5 2010.4H2867" stroke="#ffffff" stroke-opacity="0.27" stroke-width="1.6"/><path d="M1973.5 2056H2867" stroke="#ffffff" stroke-opacity="0.27" stroke-width="1.6"/><path d="M1973.5 2101.6H2867" stroke="#ffffff" stroke-opacity="0.27" stroke-width="1.6"/><path d="M1973.5 2147.2H2867" stroke="#ffffff" stroke-opacity="0.27" stroke-width="1.6"/><path d="M1973.5 2192.8H2867" stroke="#ffffff" stroke-opacity="0.27" stroke-width="1.6"/><path d="M1973.5 2238.4H2867" stroke="#ffffff" stroke-opacity="0.27" stroke-width="1.6"/><path d="M1973.5 2284H2867" stroke="#ffffff" stroke-opacity="0.27" stroke-width="1.6"/><path d="M1973.5 2329.6H2867" stroke="#ffffff" stroke-opacity="0.27" stroke-width="1.6"/><path d="M1973.8 1858.5V2349" stroke="#ffffff" stroke-opacity="0.27" stroke-width="1.6"/><path d="M2054.9 1858.5V2349" stroke="#ffffff" stroke-opacity="0.27" stroke-width="1.6"/><path d="M2136 1858.5V2349" stroke="#ffffff" stroke-opacity="0.27" stroke-width="1.6"/><path d="M2217.2 1858.5V2349" stroke="#ffffff" stroke-opacity="0.27" stroke-width="1.6"/><path d="M2298.2 1858.5V2349" stroke="#ffffff" stroke-opacity="0.27" stroke-width="1.6"/><path d="M2379.3 1858.5V2349" stroke="#ffffff" stroke-opacity="0.27" stroke-width="1.6"/><path d="M2460.4 1858.5V2349" stroke="#ffffff" stroke-opacity="0.27" stroke-width="1.6"/><path d="M2541.5 1858.5V2349" stroke="#ffffff" stroke-opacity="0.27" stroke-width="1.6"/><path d="M2622.6 1858.5V2349" stroke="#ffffff" stroke-opacity="0.27" stroke-width="1.6"/><path d="M2703.8 1858.5V2349" stroke="#ffffff" stroke-opacity="0.27" stroke-width="1.6"/><path d="M2784.8 1858.5V2349" stroke="#ffffff" stroke-opacity="0.27" stroke-width="1.6"/><path d="M2865.9 1858.5V2349" stroke="#ffffff" stroke-opacity="0.27" stroke-width="1.6"/><path d="M1973.5 1894.8H2867" stroke="#ffffff" stroke-opacity="0.12" stroke-width="2"/><path d="M1973.5 1896.4H2867" stroke="#000000" stroke-opacity="0.08" stroke-width="1.8"/><path d="M1973.5 1940.4H2867" stroke="#ffffff" stroke-opacity="0.12" stroke-width="2"/><path d="M1973.5 1942H2867" stroke="#000000" stroke-opacity="0.08" stroke-width="1.8"/><path d="M1973.5 1986H2867" stroke="#ffffff" stroke-opacity="0.12" stroke-width="2"/><path d="M1973.5 1987.6H2867" stroke="#000000" stroke-opacity="0.08" stroke-width="1.8"/><path d="M1973.5 2031.6H2867" stroke="#ffffff" stroke-opacity="0.12" stroke-width="2"/><path d="M1973.5 2033.2H2867" stroke="#000000" stroke-opacity="0.08" stroke-width="1.8"/><path d="M1973.5 2077.2H2867" stroke="#ffffff" stroke-opacity="0.12" stroke-width="2"/><path d="M1973.5 2078.8H2867" stroke="#000000" stroke-opacity="0.08" stroke-width="1.8"/><path d="M1973.5 2122.8H2867" stroke="#ffffff" stroke-opacity="0.12" stroke-width="2"/><path d="M1973.5 2124.4H2867" stroke="#000000" stroke-opacity="0.08" stroke-width="1.8"/><path d="M1973.5 2168.4H2867" stroke="#ffffff" stroke-opacity="0.12" stroke-width="2"/><path d="M1973.5 2170H2867" stroke="#000000" stroke-opacity="0.08" stroke-width="1.8"/><path d="M1973.5 2214H2867" stroke="#ffffff" stroke-opacity="0.12" stroke-width="2"/><path d="M1973.5 2215.6H2867" stroke="#000000" stroke-opacity="0.08" stroke-width="1.8"/><path d="M1973.5 2259.6H2867" stroke="#ffffff" stroke-opacity="0.12" stroke-width="2"/><path d="M1973.5 2261.2H2867" stroke="#000000" stroke-opacity="0.08" stroke-width="1.8"/><path d="M1973.5 2305.2H2867" stroke="#ffffff" stroke-opacity="0.12" stroke-width="2"/><path d="M1973.5 2306.8H2867" stroke="#000000" stroke-opacity="0.08" stroke-width="1.8"/><path d="M2016 1858.5V2349" stroke="#ffffff" stroke-opacity="0.12" stroke-width="2"/><path d="M2014.4 1858.5V2349" stroke="#000000" stroke-opacity="0.08" stroke-width="1.8"/><path d="M2097.1 1858.5V2349" stroke="#ffffff" stroke-opacity="0.12" stroke-width="2"/><path d="M2095.5 1858.5V2349" stroke="#000000" stroke-opacity="0.08" stroke-width="1.8"/><path d="M2178.2 1858.5V2349" stroke="#ffffff" stroke-opacity="0.12" stroke-width="2"/><path d="M2176.6 1858.5V2349" stroke="#000000" stroke-opacity="0.08" stroke-width="1.8"/><path d="M2259.3 1858.5V2349" stroke="#ffffff" stroke-opacity="0.12" stroke-width="2"/><path d="M2257.7 1858.5V2349" stroke="#000000" stroke-opacity="0.08" stroke-width="1.8"/><path d="M2340.4 1858.5V2349" stroke="#ffffff" stroke-opacity="0.12" stroke-width="2"/><path d="M2338.8 1858.5V2349" stroke="#000000" stroke-opacity="0.08" stroke-width="1.8"/><path d="M2421.5 1858.5V2349" stroke="#ffffff" stroke-opacity="0.12" stroke-width="2"/><path d="M2419.9 1858.5V2349" stroke="#000000" stroke-opacity="0.08" stroke-width="1.8"/><path d="M2502.6 1858.5V2349" stroke="#ffffff" stroke-opacity="0.12" stroke-width="2"/><path d="M2501 1858.5V2349" stroke="#000000" stroke-opacity="0.08" stroke-width="1.8"/><path d="M2583.7 1858.5V2349" stroke="#ffffff" stroke-opacity="0.12" stroke-width="2"/><path d="M2582.1 1858.5V2349" stroke="#000000" stroke-opacity="0.08" stroke-width="1.8"/><path d="M2664.8 1858.5V2349" stroke="#ffffff" stroke-opacity="0.12" stroke-width="2"/><path d="M2663.2 1858.5V2349" stroke="#000000" stroke-opacity="0.08" stroke-width="1.8"/><path d="M2745.9 1858.5V2349" stroke="#ffffff" stroke-opacity="0.12" stroke-width="2"/><path d="M2744.3 1858.5V2349" stroke="#000000" stroke-opacity="0.08" stroke-width="1.8"/><path d="M2827 1858.5V2349" stroke="#ffffff" stroke-opacity="0.12" stroke-width="2"/><path d="M2825.4 1858.5V2349" stroke="#000000" stroke-opacity="0.08" stroke-width="1.8"/></g>
<polygon points="2014.4,2347.4 2095.5,2345.8 2176.6,2344.3 2257.7,2337.9 2338.8,2331.9 2419.9,2317.4 2501,2289.7 2582.1,2188.1 2663.2,1998.2 2744.3,1903.3 2825.4,1864.3 2825.4,1887.5 2744.3,1938.9 2663.2,2091.9 2582.1,2287.6 2501,2310.8 2419.9,2324.7 2338.8,2337.7 2257.7,2341.6 2176.6,2346.9 2095.5,2348 2014.4,2349" fill="rgba(74,106,172,0.385)"/>
<polyline points="2014.4,2348.2 2095.5,2346.9 2176.6,2345.6 2257.7,2339.8 2338.8,2334.5 2419.9,2321.3 2501,2300.2 2582.1,2237.5 2663.2,2047 2744.3,1919.1 2825.4,1875.1" fill="none" stroke="#2c5cb8" stroke-width="1.9" stroke-linejoin="round"/>
</g>
<g font-size="12.1" fill="#4a4a4a"><text x="2014.4" y="2366.3" text-anchor="middle">2016</text><text x="2095.5" y="2366.3" text-anchor="middle">2017</text><text x="2176.6" y="2366.3" text-anchor="middle">2018</text><text x="2257.7" y="2366.3" text-anchor="middle">2019</text><text x="2338.8" y="2366.3" text-anchor="middle">2020</text><text x="2419.9" y="2366.3" text-anchor="middle">2021</text><text x="2501" y="2366.3" text-anchor="middle">2022</text><text x="2582.1" y="2366.3" text-anchor="middle">2023</text><text x="2663.2" y="2366.3" text-anchor="middle">2024</text><text x="2744.3" y="2366.3" text-anchor="middle">2025</text><text x="2825.4" y="2366.3" text-anchor="middle">2026</text><text x="1968.4" y="1900.7" text-anchor="end">2.000</text><text x="1968.4" y="1946.3" text-anchor="end">1.800</text><text x="1968.4" y="1991.9" text-anchor="end">1.600</text><text x="1968.4" y="2037.5" text-anchor="end">1.400</text><text x="1968.4" y="2083.1" text-anchor="end">1.200</text><text x="1968.4" y="2128.7" text-anchor="end">1.000</text><text x="1968.4" y="2174.3" text-anchor="end">800</text><text x="1968.4" y="2219.9" text-anchor="end">600</text><text x="1968.4" y="2265.5" text-anchor="end">400</text><text x="1968.4" y="2311.1" text-anchor="end">200</text></g>
<circle cx="2745" cy="1919.1" r="7.05" fill="#0868b8"/>
<circle cx="2745.2" cy="1899.3" r="6.6" fill="none" stroke="#ea8436" stroke-width="3.1"/>
<text x="2678.1" y="1890.1" text-anchor="start" font-size="22.9" font-weight="bold" fill="#f5841a">2 000</text>
<text x="2765.9" y="1942.3" text-anchor="start" font-size="22.9" font-weight="bold" fill="#0a62b8">1 892.54</text>
<clipPath id="fc_ar"><circle cx="2254.9" cy="2399.9" r="14.2"/></clipPath>
<g clip-path="url(#fc_ar)">
<rect x="2240.7" y="2385.7" width="28.4" height="10" fill="#2288e2"/>
<rect x="2240.7" y="2395.2" width="28.4" height="10" fill="#eeeeee"/>
<rect x="2240.7" y="2404.6" width="28.4" height="10" fill="#2288e2"/>
<circle cx="2254.9" cy="2399.9" r="3.6" fill="#f8c63a"/>
</g>
<text x="2288.5" y="2404.7" font-size="22.95" fill="#000">Argentina</text>
<!-- China -->
<clipPath id="pc12"><rect x="0" y="2479" width="945.5" height="534.5"/></clipPath>
<g clip-path="url(#pc12)">
<rect x="0" y="2479" width="945.5" height="534.5" fill="url(#pbg)"/>
<g>
<rect x="-31.5" y="2701.5" width="132.9" height="132.9" rx="5.3" fill="#a6c0de" fill-opacity="0.30" transform="rotate(45 35 2768)"/>
<text x="35" y="2804" text-anchor="middle" font-size="100.6" font-weight="bold" fill="#f1f1f1" fill-opacity="0.88" stroke="#f1f1f1" stroke-opacity="0.88" stroke-width="8.3" stroke-linejoin="round">3</text>
<rect x="109.6" y="2674.6" width="65.8" height="65.8" rx="2.6" fill="#a6c0de" fill-opacity="0.30" transform="rotate(45 142.5 2707.5)"/>
<text x="142.5" y="2725.3" text-anchor="middle" font-size="49.8" font-weight="bold" fill="#f1f1f1" fill-opacity="0.88" stroke="#f1f1f1" stroke-opacity="0.88" stroke-width="4.1" stroke-linejoin="round">3</text>
<rect x="154.5" y="2741.5" width="99" height="99" rx="4" fill="#a6c0de" fill-opacity="0.30" transform="rotate(45 204 2791)"/>
<text x="204" y="2817.8" text-anchor="middle" font-size="74.9" font-weight="bold" fill="#f1f1f1" fill-opacity="0.88" stroke="#f1f1f1" stroke-opacity="0.88" stroke-width="6.2" stroke-linejoin="round">3</text>
<rect x="336" y="2701.5" width="132.9" height="132.9" rx="5.3" fill="#a6c0de" fill-opacity="0.30" transform="rotate(45 402.5 2768)"/>
<text x="402.5" y="2804" text-anchor="middle" font-size="100.6" font-weight="bold" fill="#f1f1f1" fill-opacity="0.88" stroke="#f1f1f1" stroke-opacity="0.88" stroke-width="8.3" stroke-linejoin="round">3</text>
<rect x="477.1" y="2674.6" width="65.8" height="65.8" rx="2.6" fill="#a6c0de" fill-opacity="0.30" transform="rotate(45 510 2707.5)"/>
<text x="510" y="2725.3" text-anchor="middle" font-size="49.8" font-weight="bold" fill="#f1f1f1" fill-opacity="0.88" stroke="#f1f1f1" stroke-opacity="0.88" stroke-width="4.1" stroke-linejoin="round">3</text>
<rect x="522" y="2741.5" width="99" height="99" rx="4" fill="#a6c0de" fill-opacity="0.30" transform="rotate(45 571.5 2791)"/>
<text x="571.5" y="2817.8" text-anchor="middle" font-size="74.9" font-weight="bold" fill="#f1f1f1" fill-opacity="0.88" stroke="#f1f1f1" stroke-opacity="0.88" stroke-width="6.2" stroke-linejoin="round">3</text>
<rect x="703.5" y="2701.5" width="132.9" height="132.9" rx="5.3" fill="#a6c0de" fill-opacity="0.30" transform="rotate(45 770 2768)"/>
<text x="770" y="2804" text-anchor="middle" font-size="100.6" font-weight="bold" fill="#f1f1f1" fill-opacity="0.88" stroke="#f1f1f1" stroke-opacity="0.88" stroke-width="8.3" stroke-linejoin="round">3</text>
<rect x="844.6" y="2674.6" width="65.8" height="65.8" rx="2.6" fill="#a6c0de" fill-opacity="0.30" transform="rotate(45 877.5 2707.5)"/>
<text x="877.5" y="2725.3" text-anchor="middle" font-size="49.8" font-weight="bold" fill="#f1f1f1" fill-opacity="0.88" stroke="#f1f1f1" stroke-opacity="0.88" stroke-width="4.1" stroke-linejoin="round">3</text>
<rect x="889.5" y="2741.5" width="99" height="99" rx="4" fill="#a6c0de" fill-opacity="0.30" transform="rotate(45 939 2791)"/>
<text x="939" y="2817.8" text-anchor="middle" font-size="74.9" font-weight="bold" fill="#f1f1f1" fill-opacity="0.88" stroke="#f1f1f1" stroke-opacity="0.88" stroke-width="6.2" stroke-linejoin="round">3</text>
</g>
<g fill="none"><path d="M74.2 2488.5V2981.6" stroke="#ffffff" stroke-opacity="0.27" stroke-width="1.6"/><path d="M202.2 2488.5V2981.6" stroke="#ffffff" stroke-opacity="0.27" stroke-width="1.6"/><path d="M330.4 2488.5V2981.6" stroke="#ffffff" stroke-opacity="0.27" stroke-width="1.6"/><path d="M458.4 2488.5V2981.6" stroke="#ffffff" stroke-opacity="0.27" stroke-width="1.6"/><path d="M586.5 2488.5V2981.6" stroke="#ffffff" stroke-opacity="0.27" stroke-width="1.6"/><path d="M714.6 2488.5V2981.6" stroke="#ffffff" stroke-opacity="0.27" stroke-width="1.6"/><path d="M842.7 2488.5V2981.6" stroke="#ffffff" stroke-opacity="0.27" stroke-width="1.6"/><path d="M39.6 2508.8H938.4" stroke="#ffffff" stroke-opacity="0.12" stroke-width="2"/><path d="M39.6 2510.4H938.4" stroke="#000000" stroke-opacity="0.08" stroke-width="1.8"/><path d="M39.6 2552.2H938.4" stroke="#ffffff" stroke-opacity="0.12" stroke-width="2"/><path d="M39.6 2553.8H938.4" stroke="#000000" stroke-opacity="0.08" stroke-width="1.8"/><path d="M39.6 2595.6H938.4" stroke="#ffffff" stroke-opacity="0.12" stroke-width="2"/><path d="M39.6 2597.2H938.4" stroke="#000000" stroke-opacity="0.08" stroke-width="1.8"/><path d="M39.6 2638.9H938.4" stroke="#ffffff" stroke-opacity="0.12" stroke-width="2"/><path d="M39.6 2640.5H938.4" stroke="#000000" stroke-opacity="0.08" stroke-width="1.8"/><path d="M39.6 2682.3H938.4" stroke="#ffffff" stroke-opacity="0.12" stroke-width="2"/><path d="M39.6 2683.9H938.4" stroke="#000000" stroke-opacity="0.08" stroke-width="1.8"/><path d="M39.6 2725.7H938.4" stroke="#ffffff" stroke-opacity="0.12" stroke-width="2"/><path d="M39.6 2727.3H938.4" stroke="#000000" stroke-opacity="0.08" stroke-width="1.8"/><path d="M39.6 2769.1H938.4" stroke="#ffffff" stroke-opacity="0.12" stroke-width="2"/><path d="M39.6 2770.7H938.4" stroke="#000000" stroke-opacity="0.08" stroke-width="1.8"/><path d="M39.6 2812.5H938.4" stroke="#ffffff" stroke-opacity="0.12" stroke-width="2"/><path d="M39.6 2814.1H938.4" stroke="#000000" stroke-opacity="0.08" stroke-width="1.8"/><path d="M39.6 2855.8H938.4" stroke="#ffffff" stroke-opacity="0.12" stroke-width="2"/><path d="M39.6 2857.4H938.4" stroke="#000000" stroke-opacity="0.08" stroke-width="1.8"/><path d="M39.6 2899.2H938.4" stroke="#ffffff" stroke-opacity="0.12" stroke-width="2"/><path d="M39.6 2900.8H938.4" stroke="#000000" stroke-opacity="0.08" stroke-width="1.8"/><path d="M39.6 2942.6H938.4" stroke="#ffffff" stroke-opacity="0.12" stroke-width="2"/><path d="M39.6 2944.2H938.4" stroke="#000000" stroke-opacity="0.08" stroke-width="1.8"/><path d="M139.8 2488.5V2981.6" stroke="#ffffff" stroke-opacity="0.12" stroke-width="2"/><path d="M138.2 2488.5V2981.6" stroke="#000000" stroke-opacity="0.08" stroke-width="1.8"/><path d="M267.9 2488.5V2981.6" stroke="#ffffff" stroke-opacity="0.12" stroke-width="2"/><path d="M266.3 2488.5V2981.6" stroke="#000000" stroke-opacity="0.08" stroke-width="1.8"/><path d="M396 2488.5V2981.6" stroke="#ffffff" stroke-opacity="0.12" stroke-width="2"/><path d="M394.4 2488.5V2981.6" stroke="#000000" stroke-opacity="0.08" stroke-width="1.8"/><path d="M524.1 2488.5V2981.6" stroke="#ffffff" stroke-opacity="0.12" stroke-width="2"/><path d="M522.5 2488.5V2981.6" stroke="#000000" stroke-opacity="0.08" stroke-width="1.8"/><path d="M652.2 2488.5V2981.6" stroke="#ffffff" stroke-opacity="0.12" stroke-width="2"/><path d="M650.6 2488.5V2981.6" stroke="#000000" stroke-opacity="0.08" stroke-width="1.8"/><path d="M780.3 2488.5V2981.6" stroke="#ffffff" stroke-opacity="0.12" stroke-width="2"/><path d="M778.7 2488.5V2981.6" stroke="#000000" stroke-opacity="0.08" stroke-width="1.8"/><path d="M908.4 2488.5V2981.6" stroke="#ffffff" stroke-opacity="0.12" stroke-width="2"/><path d="M906.8 2488.5V2981.6" stroke="#000000" stroke-opacity="0.08" stroke-width="1.8"/></g>
<polygon points="74.1,2878 138.2,2907.3 202.2,2858.5 266.3,2818.7 330.3,2872.2 394.4,2909.6 458.4,2649.3 522.5,2524.6 586.5,2679.7 650.6,2749 714.6,2877.5 778.7,2832.1 842.8,2892 906.8,2928.4 906.8,2936.8 842.8,2933.4 778.7,2898.6 714.6,2909.1 650.6,2915.7 586.5,2931 522.5,2621.6 458.4,2942.6 394.4,2961.9 330.3,2918.4 266.3,2859 202.2,2932.1 138.2,2946.8 74.1,2924.2" fill="rgba(74,106,172,0.385)"/>
<polyline points="74.1,2901.2 138.2,2927.1 202.2,2895.9 266.3,2838.4 330.3,2895.1 394.4,2935.5 458.4,2796.2 522.5,2571 586.5,2805.5 650.6,2830.5 714.6,2893.3 778.7,2864.8 842.8,2909.9 906.8,2932.1" fill="none" stroke="#2c5cb8" stroke-width="1.9" stroke-linejoin="round"/>
</g>
<g font-size="12.1" fill="#4a4a4a"><text x="138.2" y="2999" text-anchor="middle">2014</text><text x="266.3" y="2999" text-anchor="middle">2016</text><text x="394.4" y="2999" text-anchor="middle">2018</text><text x="522.5" y="2999" text-anchor="middle">2020</text><text x="650.6" y="2999" text-anchor="middle">2022</text><text x="778.7" y="2999" text-anchor="middle">2024</text><text x="906.8" y="2999" text-anchor="middle">2026</text><text x="34" y="2514.7" text-anchor="end">37,5</text><text x="34" y="2558.1" text-anchor="end">35,0</text><text x="34" y="2601.5" text-anchor="end">32,5</text><text x="34" y="2644.8" text-anchor="end">30,0</text><text x="34" y="2688.2" text-anchor="end">27,5</text><text x="34" y="2731.6" text-anchor="end">25,0</text><text x="34" y="2775" text-anchor="end">22,5</text><text x="34" y="2818.4" text-anchor="end">20,0</text><text x="34" y="2861.7" text-anchor="end">17,5</text><text x="34" y="2905.1" text-anchor="end">15,0</text><text x="34" y="2948.5" text-anchor="end">12,5</text></g>
<circle cx="842.7" cy="2909.9" r="7.05" fill="#0868b8"/>
<circle cx="843.2" cy="2899.9" r="6.6" fill="none" stroke="#ea8436" stroke-width="3.1"/>
<text x="852.8" y="2886.7" text-anchor="start" font-size="22.9" font-weight="bold" fill="#f5841a">15</text>
<text x="777.1" y="2931.5" text-anchor="start" font-size="22.9" font-weight="bold" fill="#0a62b8">14.45</text>
<clipPath id="fc_cn"><circle cx="258.9" cy="3032.8" r="15"/></clipPath>
<g clip-path="url(#fc_cn)">
<rect x="243.9" y="3017.8" width="30" height="30" fill="#e8142e"/>
<polygon points="252.3,3027.6 253.5,3031.1 257.2,3031.2 254.3,3033.4 255.4,3037 252.3,3034.9 249.2,3037 250.3,3033.4 247.4,3031.2 251.1,3031.1" fill="#fcd838"/>
<polygon points="261.6,3024.9 261.4,3026.2 262.6,3026.9 261.2,3027.1 260.9,3028.4 260.3,3027.2 259,3027.3 260,3026.3 259.4,3025.1 260.6,3025.7" fill="#fcd838"/>
<polygon points="265.5,3028.7 265.3,3030 266.5,3030.7 265.1,3030.9 264.8,3032.2 264.2,3031 262.9,3031.1 263.9,3030.1 263.3,3028.9 264.5,3029.5" fill="#fcd838"/>
<polygon points="265.5,3034.2 265.3,3035.5 266.5,3036.2 265.1,3036.4 264.8,3037.7 264.2,3036.5 262.9,3036.6 263.9,3035.6 263.3,3034.4 264.5,3035" fill="#fcd838"/>
<polygon points="261.6,3038 261.4,3039.3 262.6,3040 261.2,3040.2 260.9,3041.5 260.3,3040.3 259,3040.4 260,3039.4 259.4,3038.2 260.6,3038.8" fill="#fcd838"/>
</g>
<text x="298.1" y="3039.3" font-size="22.95" fill="#000">China</text>
<!-- Vietnam -->
<clipPath id="pc13"><rect x="968.2" y="2480" width="941.5" height="532"/></clipPath>
<g clip-path="url(#pc13)">
<rect x="968.2" y="2480" width="941.5" height="532" fill="url(#pbg)"/>
<g>
<rect x="935.2" y="2703.1" width="132.4" height="132.4" rx="5.3" fill="#a6c0de" fill-opacity="0.30" transform="rotate(45 1001.4 2769.3)"/>
<text x="1001.4" y="2805.1" text-anchor="middle" font-size="100.2" font-weight="bold" fill="#f1f1f1" fill-opacity="0.88" stroke="#f1f1f1" stroke-opacity="0.88" stroke-width="8.2" stroke-linejoin="round">3</text>
<rect x="1075.7" y="2676.3" width="65.5" height="65.5" rx="2.6" fill="#a6c0de" fill-opacity="0.30" transform="rotate(45 1108.4 2709.1)"/>
<text x="1108.4" y="2726.8" text-anchor="middle" font-size="49.5" font-weight="bold" fill="#f1f1f1" fill-opacity="0.88" stroke="#f1f1f1" stroke-opacity="0.88" stroke-width="4.1" stroke-linejoin="round">3</text>
<rect x="1120.4" y="2742.9" width="98.6" height="98.6" rx="3.9" fill="#a6c0de" fill-opacity="0.30" transform="rotate(45 1169.7 2792.2)"/>
<text x="1169.7" y="2818.9" text-anchor="middle" font-size="74.6" font-weight="bold" fill="#f1f1f1" fill-opacity="0.88" stroke="#f1f1f1" stroke-opacity="0.88" stroke-width="6.1" stroke-linejoin="round">3</text>
<rect x="1301.2" y="2703.1" width="132.4" height="132.4" rx="5.3" fill="#a6c0de" fill-opacity="0.30" transform="rotate(45 1367.3 2769.3)"/>
<text x="1367.3" y="2805.1" text-anchor="middle" font-size="100.2" font-weight="bold" fill="#f1f1f1" fill-opacity="0.88" stroke="#f1f1f1" stroke-opacity="0.88" stroke-width="8.2" stroke-linejoin="round">3</text>
<rect x="1441.6" y="2676.3" width="65.5" height="65.5" rx="2.6" fill="#a6c0de" fill-opacity="0.30" transform="rotate(45 1474.4 2709.1)"/>
<text x="1474.4" y="2726.8" text-anchor="middle" font-size="49.5" font-weight="bold" fill="#f1f1f1" fill-opacity="0.88" stroke="#f1f1f1" stroke-opacity="0.88" stroke-width="4.1" stroke-linejoin="round">3</text>
<rect x="1486.3" y="2742.9" width="98.6" height="98.6" rx="3.9" fill="#a6c0de" fill-opacity="0.30" transform="rotate(45 1535.6 2792.2)"/>
<text x="1535.6" y="2818.9" text-anchor="middle" font-size="74.6" font-weight="bold" fill="#f1f1f1" fill-opacity="0.88" stroke="#f1f1f1" stroke-opacity="0.88" stroke-width="6.1" stroke-linejoin="round">3</text>
<rect x="1667.1" y="2703.1" width="132.4" height="132.4" rx="5.3" fill="#a6c0de" fill-opacity="0.30" transform="rotate(45 1733.3 2769.3)"/>
<text x="1733.3" y="2805.1" text-anchor="middle" font-size="100.2" font-weight="bold" fill="#f1f1f1" fill-opacity="0.88" stroke="#f1f1f1" stroke-opacity="0.88" stroke-width="8.2" stroke-linejoin="round">3</text>
<rect x="1807.6" y="2676.3" width="65.5" height="65.5" rx="2.6" fill="#a6c0de" fill-opacity="0.30" transform="rotate(45 1840.3 2709.1)"/>
<text x="1840.3" y="2726.8" text-anchor="middle" font-size="49.5" font-weight="bold" fill="#f1f1f1" fill-opacity="0.88" stroke="#f1f1f1" stroke-opacity="0.88" stroke-width="4.1" stroke-linejoin="round">3</text>
<rect x="1852.3" y="2742.9" width="98.6" height="98.6" rx="3.9" fill="#a6c0de" fill-opacity="0.30" transform="rotate(45 1901.6 2792.2)"/>
<text x="1901.6" y="2818.9" text-anchor="middle" font-size="74.6" font-weight="bold" fill="#f1f1f1" fill-opacity="0.88" stroke="#f1f1f1" stroke-opacity="0.88" stroke-width="6.1" stroke-linejoin="round">3</text>
</g>
<g fill="none"><path d="M1007.2 2547H1903" stroke="#ffffff" stroke-opacity="0.27" stroke-width="1.6"/><path d="M1007.2 2614H1903" stroke="#ffffff" stroke-opacity="0.27" stroke-width="1.6"/><path d="M1007.2 2681H1903" stroke="#ffffff" stroke-opacity="0.27" stroke-width="1.6"/><path d="M1007.2 2748H1903" stroke="#ffffff" stroke-opacity="0.27" stroke-width="1.6"/><path d="M1007.2 2815H1903" stroke="#ffffff" stroke-opacity="0.27" stroke-width="1.6"/><path d="M1007.2 2881.9H1903" stroke="#ffffff" stroke-opacity="0.27" stroke-width="1.6"/><path d="M1007.2 2948.9H1903" stroke="#ffffff" stroke-opacity="0.27" stroke-width="1.6"/><path d="M1008 2490.6V2982.4" stroke="#ffffff" stroke-opacity="0.27" stroke-width="1.6"/><path d="M1119.8 2490.6V2982.4" stroke="#ffffff" stroke-opacity="0.27" stroke-width="1.6"/><path d="M1231.6 2490.6V2982.4" stroke="#ffffff" stroke-opacity="0.27" stroke-width="1.6"/><path d="M1343.4 2490.6V2982.4" stroke="#ffffff" stroke-opacity="0.27" stroke-width="1.6"/><path d="M1455.2 2490.6V2982.4" stroke="#ffffff" stroke-opacity="0.27" stroke-width="1.6"/><path d="M1567 2490.6V2982.4" stroke="#ffffff" stroke-opacity="0.27" stroke-width="1.6"/><path d="M1678.7 2490.6V2982.4" stroke="#ffffff" stroke-opacity="0.27" stroke-width="1.6"/><path d="M1790.5 2490.6V2982.4" stroke="#ffffff" stroke-opacity="0.27" stroke-width="1.6"/><path d="M1902.3 2490.6V2982.4" stroke="#ffffff" stroke-opacity="0.27" stroke-width="1.6"/><path d="M1007.2 2511.9H1903" stroke="#ffffff" stroke-opacity="0.12" stroke-width="2"/><path d="M1007.2 2513.5H1903" stroke="#000000" stroke-opacity="0.08" stroke-width="1.8"/><path d="M1007.2 2578.9H1903" stroke="#ffffff" stroke-opacity="0.12" stroke-width="2"/><path d="M1007.2 2580.5H1903" stroke="#000000" stroke-opacity="0.08" stroke-width="1.8"/><path d="M1007.2 2645.9H1903" stroke="#ffffff" stroke-opacity="0.12" stroke-width="2"/><path d="M1007.2 2647.5H1903" stroke="#000000" stroke-opacity="0.08" stroke-width="1.8"/><path d="M1007.2 2712.9H1903" stroke="#ffffff" stroke-opacity="0.12" stroke-width="2"/><path d="M1007.2 2714.5H1903" stroke="#000000" stroke-opacity="0.08" stroke-width="1.8"/><path d="M1007.2 2779.9H1903" stroke="#ffffff" stroke-opacity="0.12" stroke-width="2"/><path d="M1007.2 2781.5H1903" stroke="#000000" stroke-opacity="0.08" stroke-width="1.8"/><path d="M1007.2 2846.8H1903" stroke="#ffffff" stroke-opacity="0.12" stroke-width="2"/><path d="M1007.2 2848.4H1903" stroke="#000000" stroke-opacity="0.08" stroke-width="1.8"/><path d="M1007.2 2913.8H1903" stroke="#ffffff" stroke-opacity="0.12" stroke-width="2"/><path d="M1007.2 2915.4H1903" stroke="#000000" stroke-opacity="0.08" stroke-width="1.8"/><path d="M1007.2 2980.8H1903" stroke="#ffffff" stroke-opacity="0.12" stroke-width="2"/><path d="M1007.2 2982.4H1903" stroke="#000000" stroke-opacity="0.08" stroke-width="1.8"/><path d="M1065.5 2490.6V2982.4" stroke="#ffffff" stroke-opacity="0.12" stroke-width="2"/><path d="M1063.9 2490.6V2982.4" stroke="#000000" stroke-opacity="0.08" stroke-width="1.8"/><path d="M1177.3 2490.6V2982.4" stroke="#ffffff" stroke-opacity="0.12" stroke-width="2"/><path d="M1175.7 2490.6V2982.4" stroke="#000000" stroke-opacity="0.08" stroke-width="1.8"/><path d="M1289.1 2490.6V2982.4" stroke="#ffffff" stroke-opacity="0.12" stroke-width="2"/><path d="M1287.5 2490.6V2982.4" stroke="#000000" stroke-opacity="0.08" stroke-width="1.8"/><path d="M1400.9 2490.6V2982.4" stroke="#ffffff" stroke-opacity="0.12" stroke-width="2"/><path d="M1399.3 2490.6V2982.4" stroke="#000000" stroke-opacity="0.08" stroke-width="1.8"/><path d="M1512.7 2490.6V2982.4" stroke="#ffffff" stroke-opacity="0.12" stroke-width="2"/><path d="M1511.1 2490.6V2982.4" stroke="#000000" stroke-opacity="0.08" stroke-width="1.8"/><path d="M1624.5 2490.6V2982.4" stroke="#ffffff" stroke-opacity="0.12" stroke-width="2"/><path d="M1622.9 2490.6V2982.4" stroke="#000000" stroke-opacity="0.08" stroke-width="1.8"/><path d="M1736.2 2490.6V2982.4" stroke="#ffffff" stroke-opacity="0.12" stroke-width="2"/><path d="M1734.6 2490.6V2982.4" stroke="#000000" stroke-opacity="0.08" stroke-width="1.8"/><path d="M1848 2490.6V2982.4" stroke="#ffffff" stroke-opacity="0.12" stroke-width="2"/><path d="M1846.4 2490.6V2982.4" stroke="#000000" stroke-opacity="0.08" stroke-width="1.8"/></g>
<polygon points="1063.9,2640.1 1175.7,2509.6 1287.5,2545.2 1399.3,2629.6 1511.1,2650.7 1622.9,2597.9 1734.6,2576.8 1846.4,2522.7 1846.4,2579.5 1734.6,2671.8 1622.9,2657.8 1511.1,2704.7 1399.3,2688.9 1287.5,2721.1 1175.7,2576.8 1063.9,2812.9" fill="rgba(74,106,172,0.385)"/>
<polyline points="1063.9,2727.1 1175.7,2542.5 1287.5,2633.5 1399.3,2658.6 1511.1,2678.4 1622.9,2626.9 1734.6,2624.3 1846.4,2551.8" fill="none" stroke="#2c5cb8" stroke-width="1.9" stroke-linejoin="round"/>
</g>
<g font-size="12.1" fill="#4a4a4a"><text x="1063.9" y="2999.5" text-anchor="middle">2019</text><text x="1175.7" y="2999.5" text-anchor="middle">2020</text><text x="1287.5" y="2999.5" text-anchor="middle">2021</text><text x="1399.3" y="2999.5" text-anchor="middle">2022</text><text x="1511.1" y="2999.5" text-anchor="middle">2023</text><text x="1622.9" y="2999.5" text-anchor="middle">2024</text><text x="1734.6" y="2999.5" text-anchor="middle">2025</text><text x="1846.4" y="2999.5" text-anchor="middle">2026</text><text x="1005.3" y="2517.8" text-anchor="end">80.0…</text><text x="1005.3" y="2584.8" text-anchor="end">70.0…</text><text x="1005.3" y="2651.8" text-anchor="end">60.0…</text><text x="1005.3" y="2718.8" text-anchor="end">50.0…</text><text x="1005.3" y="2785.8" text-anchor="end">40.0…</text><text x="1005.3" y="2852.8" text-anchor="end">30.0…</text><text x="1005.3" y="2919.7" text-anchor="end">20.0…</text><text x="1005.3" y="2986.7" text-anchor="end">10.0…</text></g>
<circle cx="1734.3" cy="2623.8" r="7.05" fill="#0868b8"/>
<circle cx="1734.3" cy="2580.2" r="6.6" fill="none" stroke="#ea8436" stroke-width="3.1"/>
<text x="1656.1" y="2564.4" text-anchor="start" font-size="22.9" font-weight="bold" fill="#f5841a">70 000</text>
<text x="1740" y="2652.5" text-anchor="start" font-size="22.9" font-weight="bold" fill="#0a62b8">63 439.77</text>
<clipPath id="fc_vn"><circle cx="1288.5" cy="3033.5" r="15"/></clipPath>
<g clip-path="url(#fc_vn)">
<rect x="1273.5" y="3018.5" width="30" height="30" fill="#ea2a1e"/>
<polygon points="1288.5,3025.4 1290.5,3031.3 1296.8,3031.4 1291.8,3035.2 1293.6,3041.1 1288.5,3037.6 1283.4,3041.1 1285.2,3035.2 1280.2,3031.4 1286.5,3031.3" fill="#fff02a"/>
</g>
<text x="1321.6" y="3040.8" font-size="22.95" fill="#000">Vietnam</text>
<!-- legend -->
<rect x="56.2" y="3132.7" width="29.6" height="48.1" fill="#a5bbd8"/>
<path d="M56.2 3156.9H85.8" stroke="#1876d0" stroke-width="2.4"/>
<text x="94.3" y="3162.3" font-size="23.05" fill="#000">Annual average price and standard deviation</text>
<circle cx="960.8" cy="3158.8" r="7.3" fill="#1a70b8"/>
<text x="976" y="3164.6" font-size="23.05" fill="#000">Actual average price in 2025</text>
<circle cx="1922.3" cy="3159.6" r="6.8" fill="none" stroke="#e58a3c" stroke-width="3"/>
<text x="1939.2" y="3164.6" font-size="23.05" fill="#000">Prediction by 333 users (median)</text>
</svg></body></html>
